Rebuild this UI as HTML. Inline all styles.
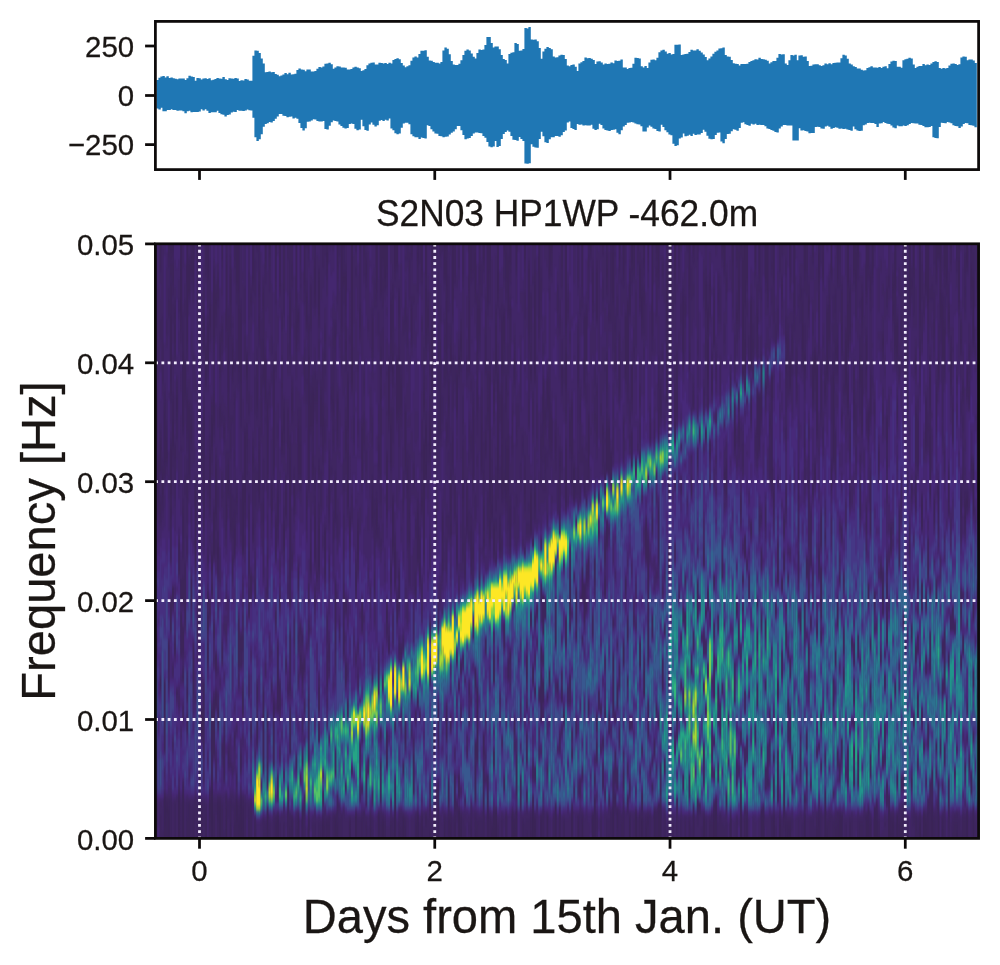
<!DOCTYPE html>
<html lang="en"><head><meta charset="utf-8"><title>S2N03 HP1WP -462.0m</title>
<style>
html,body{margin:0;padding:0;background:#fff}
body{width:1000px;height:965px;overflow:hidden}
svg{display:block}
text{font-family:"Liberation Sans",Arial,Helvetica,sans-serif;fill:#1a1614;stroke:#1a1614;stroke-width:0.25px}
.tk{font-size:29.44px}
.ti{font-size:35.33px}
.lb{font-size:47.1px}
</style></head><body>
<svg width="1000" height="965" viewBox="0 0 1000 965">
<defs>
<clipPath id="c1"><rect x="155.4" y="21.4" width="823.2" height="148.2"/></clipPath>
<clipPath id="c2"><rect x="155.4" y="243.8" width="823.2" height="594.5999999999999"/></clipPath>
<filter id="bl" x="-2%" y="-2%" width="104%" height="104%" color-interpolation-filters="sRGB"><feGaussianBlur stdDeviation="0.5 1.8"/></filter>
</defs>
<rect width="1000" height="965" fill="#fff"/>

<g clip-path="url(#c1)"><path d="M157.6 79.9V108.5M159.6 77.7V109.4M161.6 76.5V107.7M163.6 76.1V111.3M165.6 77.6V111.2M167.6 76.3V110.1M169.6 77.9V110.1M171.6 77.5V109.2M173.6 78.3V109.9M175.6 78.7V110.0M177.6 79.2V110.8M179.6 78.6V110.4M181.6 78.5V110.4M183.6 78.5V111.3M185.6 80.0V113.2M187.6 78.3V111.3M189.6 75.7V110.7M191.6 76.4V112.2M193.6 77.0V112.1M195.6 80.8V112.1M197.6 78.0V112.1M199.6 78.2V111.5M201.6 79.4V109.3M203.6 78.4V110.5M205.6 78.2V109.2M207.6 78.9V110.7M209.6 78.2V113.0M211.6 80.2V112.3M213.6 79.8V112.2M215.6 78.9V112.2M217.6 78.1V110.8M219.6 78.6V113.0M221.6 78.8V114.2M223.6 77.1V114.7M225.6 79.3V116.4M227.6 80.0V115.1M229.6 78.3V114.4M231.6 78.5V112.5M233.6 78.7V111.8M235.6 78.0V112.0M237.6 78.6V109.9M239.6 80.9V110.7M241.6 80.2V110.7M243.6 80.6V111.1M245.6 79.0V110.4M247.6 79.6V109.6M249.6 80.8V110.3M251.6 80.8V110.5M253.6 55.8V117.8M255.6 50.4V137.2M257.6 50.7V140.9M259.6 52.9V139.3M261.6 58.4V134.2M263.6 63.5V126.8M265.6 72.2V124.0M267.6 71.9V123.3M269.6 71.4V121.9M271.6 72.3V122.4M273.6 71.9V121.0M275.6 73.9V118.7M277.6 74.7V116.4M279.6 76.3V114.1M281.6 75.4V113.9M283.6 74.5V115.7M285.6 73.1V115.9M287.6 74.3V117.3M289.6 72.7V116.7M291.6 74.4V116.4M293.6 74.3V118.4M295.6 73.7V117.7M297.6 69.9V118.8M299.6 68.5V123.1M301.6 69.6V128.0M303.6 69.7V130.4M305.6 71.3V128.3M307.6 69.4V121.7M309.6 69.6V121.5M311.6 71.4V120.5M313.6 71.5V119.2M315.6 71.1V119.6M317.6 68.8V120.9M319.6 66.9V121.4M321.6 67.4V121.5M323.6 66.5V120.9M325.6 63.8V128.9M327.6 63.6V129.4M329.6 62.8V125.7M331.6 64.3V122.2M333.6 68.7V120.6M335.6 67.4V121.1M337.6 66.2V121.6M339.6 66.4V124.6M341.6 67.5V126.0M343.6 67.4V127.7M345.6 67.8V128.5M347.6 69.6V128.0M349.6 69.6V124.0M351.6 68.9V123.4M353.6 67.5V124.0M355.6 66.8V128.7M357.6 67.5V130.3M359.6 68.3V129.6M361.6 71.0V119.8M363.6 70.2V126.3M365.6 69.1V130.0M367.6 65.3V130.8M369.6 63.5V124.6M371.6 62.8V122.5M373.6 62.6V124.7M375.6 64.4V126.4M377.6 64.5V125.2M379.6 62.7V120.7M381.6 62.9V120.1M383.6 63.6V120.9M385.6 63.0V119.8M387.6 64.0V120.6M389.6 62.8V118.6M391.6 63.4V128.5M393.6 60.0V130.3M395.6 59.1V133.3M397.6 58.3V134.3M399.6 59.2V133.5M401.6 62.9V127.8M403.6 65.6V123.6M405.6 67.2V122.7M407.6 66.2V122.7M409.6 65.2V124.2M411.6 60.8V134.3M413.6 57.4V136.3M415.6 56.6V137.3M417.6 57.4V137.3M419.6 54.0V138.9M421.6 50.7V137.4M423.6 50.8V137.9M425.6 50.2V138.4M427.6 56.8V125.3M429.6 60.5V126.0M431.6 60.8V129.2M433.6 62.0V131.6M435.6 62.8V133.6M437.6 62.8V133.7M439.6 63.4V135.9M441.6 62.0V136.3M443.6 50.4V137.2M445.6 47.6V136.7M447.6 48.7V136.5M449.6 54.3V134.6M451.6 60.9V132.8M453.6 64.5V131.4M455.6 65.0V129.3M457.6 64.9V126.0M459.6 63.8V125.9M461.6 60.2V130.3M463.6 55.1V135.0M465.6 50.8V139.2M467.6 49.5V138.5M469.6 50.6V138.1M471.6 53.5V136.0M473.6 56.7V133.4M475.6 58.4V132.6M477.6 53.1V132.4M479.6 49.6V133.1M481.6 50.0V133.3M483.6 49.6V135.9M485.6 45.1V137.7M487.6 36.9V142.1M489.6 36.9V146.6M491.6 43.0V147.3M493.6 47.4V146.6M495.6 46.4V141.0M497.6 46.4V147.1M499.6 49.2V146.0M501.6 54.9V138.9M503.6 58.9V133.9M505.6 60.0V131.9M507.6 63.6V130.6M509.6 54.0V131.7M511.6 52.8V136.1M513.6 52.3V139.8M515.6 43.0V140.1M517.6 43.9V140.7M519.6 50.7V137.1M521.6 50.6V139.1M523.6 49.1V141.0M525.6 28.1V163.4M527.6 28.4V163.7M529.6 27.1V163.3M531.6 39.4V144.2M533.6 39.7V146.7M535.6 39.6V147.6M537.6 41.3V147.8M539.6 47.9V138.9M541.6 58.7V131.8M543.6 51.6V136.2M545.6 48.7V142.3M547.6 47.1V143.1M549.6 48.1V139.3M551.6 49.3V137.2M553.6 56.4V137.2M555.6 57.6V136.1M557.6 57.3V136.1M559.6 55.6V136.8M561.6 54.7V135.2M563.6 54.9V131.9M565.6 59.0V130.4M567.6 65.5V122.4M569.6 66.2V121.6M571.6 64.9V128.1M573.6 64.6V128.9M575.6 66.7V129.9M577.6 71.1V124.0M579.6 63.5V124.8M581.6 62.2V124.6M583.6 60.9V125.5M585.6 57.6V125.2M587.6 58.3V125.5M589.6 58.0V125.5M591.6 58.8V124.7M593.6 60.0V128.7M595.6 64.1V130.0M597.6 61.4V129.3M599.6 61.2V123.7M601.6 62.5V125.0M603.6 64.4V128.4M605.6 63.6V129.9M607.6 63.9V130.4M609.6 63.8V131.0M611.6 62.5V130.1M613.6 63.3V129.7M615.6 60.5V129.3M617.6 60.9V132.7M619.6 60.8V134.2M621.6 59.6V130.2M623.6 67.6V126.4M625.6 67.5V125.0M627.6 69.1V122.8M629.6 68.0V122.6M631.6 67.8V121.9M633.6 63.7V122.4M635.6 57.7V123.4M637.6 57.9V124.2M639.6 58.5V124.5M641.6 66.2V126.3M643.6 67.4V131.5M645.6 66.0V131.4M647.6 68.0V127.5M649.6 62.5V125.6M651.6 59.8V126.7M653.6 59.6V128.5M655.6 60.2V129.0M657.6 57.7V130.9M659.6 52.2V131.6M661.6 50.5V124.8M663.6 49.7V127.0M665.6 51.6V130.2M667.6 53.8V132.3M669.6 52.9V134.5M671.6 54.4V135.3M673.6 54.1V143.7M675.6 44.8V145.9M677.6 44.8V145.2M679.6 44.5V138.5M681.6 55.1V137.6M683.6 54.4V133.5M685.6 54.1V136.2M687.6 53.8V135.8M689.6 52.0V134.8M691.6 49.7V136.0M693.6 50.4V133.8M695.6 50.5V134.9M697.6 49.2V134.6M699.6 50.7V134.6M701.6 52.4V133.1M703.6 54.5V129.8M705.6 56.9V131.7M707.6 60.2V135.7M709.6 58.5V138.7M711.6 56.5V139.2M713.6 53.7V139.0M715.6 51.8V135.1M717.6 50.4V132.7M719.6 48.4V132.6M721.6 48.3V141.5M723.6 47.6V143.2M725.6 54.9V139.0M727.6 56.6V134.0M729.6 56.7V133.7M731.6 60.0V131.2M733.6 63.2V129.2M735.6 63.8V129.7M737.6 63.9V130.8M739.6 65.5V127.9M741.6 64.0V122.8M743.6 63.9V122.3M745.6 64.0V124.3M747.6 63.8V124.9M749.6 62.1V125.8M751.6 60.9V123.8M753.6 60.3V124.4M755.6 59.2V123.8M757.6 59.6V124.9M759.6 57.8V124.8M761.6 58.9V125.0M763.6 59.2V125.0M765.6 59.7V126.2M767.6 60.7V128.5M769.6 63.5V129.1M771.6 62.3V130.0M773.6 60.9V130.8M775.6 61.1V132.1M777.6 57.7V132.4M779.6 54.1V128.6M781.6 54.6V126.4M783.6 54.3V124.9M785.6 63.4V124.9M787.6 65.0V125.5M789.6 60.2V125.4M791.6 55.1V125.4M793.6 55.6V140.6M795.6 54.8V140.4M797.6 60.3V140.5M799.6 55.6V128.3M801.6 55.3V130.5M803.6 56.7V130.2M805.6 56.5V130.9M807.6 61.1V131.6M809.6 66.1V133.3M811.6 65.7V133.1M813.6 64.5V133.1M815.6 64.3V126.9M817.6 64.2V126.7M819.6 65.3V126.9M821.6 66.0V128.6M823.6 65.2V128.8M825.6 63.5V126.6M827.6 64.2V125.8M829.6 63.2V126.7M831.6 64.2V128.7M833.6 63.0V127.9M835.6 62.8V127.3M837.6 62.4V127.8M839.6 62.5V128.8M841.6 58.2V128.6M843.6 54.7V129.1M845.6 55.4V128.7M847.6 58.7V129.6M849.6 63.5V130.0M851.6 64.6V130.7M853.6 66.2V126.6M855.6 67.1V129.2M857.6 68.5V130.6M859.6 68.5V131.0M861.6 69.7V130.7M863.6 70.5V125.3M865.6 70.3V124.4M867.6 67.9V123.0M869.6 67.3V122.8M871.6 66.2V123.1M873.6 67.5V123.0M875.6 67.4V124.1M877.6 67.7V127.0M879.6 67.1V123.5M881.6 68.0V123.2M883.6 66.8V121.9M885.6 66.2V122.9M887.6 68.2V123.7M889.6 64.0V123.9M891.6 61.5V125.4M893.6 60.7V127.6M895.6 61.1V128.2M897.6 66.7V125.5M899.6 66.8V126.2M901.6 67.8V126.3M903.6 60.2V125.6M905.6 59.2V126.1M907.6 58.8V125.2M909.6 57.7V124.1M911.6 58.6V122.9M913.6 64.6V123.3M915.6 68.0V123.6M917.6 66.7V123.6M919.6 65.9V124.7M921.6 65.9V124.9M923.6 64.1V126.0M925.6 65.2V127.2M927.6 64.4V127.3M929.6 65.0V127.1M931.6 63.5V125.9M933.6 62.0V137.3M935.6 61.2V137.9M937.6 61.9V138.2M939.6 68.0V127.1M941.6 68.7V122.8M943.6 68.0V122.9M945.6 68.5V123.2M947.6 68.1V122.0M949.6 65.5V122.5M951.6 63.7V123.2M953.6 63.4V125.3M955.6 64.1V126.0M957.6 65.0V126.2M959.6 64.2V127.9M961.6 57.5V126.4M963.6 56.5V123.9M965.6 56.7V122.9M967.6 60.3V123.2M969.6 59.5V124.9M971.6 59.6V125.2M973.6 60.6V125.8M975.6 63.1V127.2" fill="none" stroke="#1f77b4" stroke-width="2.4"/></g>
<g stroke="#0d0a0a" stroke-width="2.75" fill="none">
<rect x="155.4" y="21.4" width="823.2" height="148.2"/>
<path d="M155.4 46.0h-10.3"/>
<path d="M155.4 95.5h-10.3"/>
<path d="M155.4 144.6h-10.3"/>
<path d="M199.50 169.6v10.3"/>
<path d="M434.76 169.6v10.3"/>
<path d="M670.02 169.6v10.3"/>
<path d="M905.28 169.6v10.3"/>
</g>
<text class="tk" transform="translate(134.2,56.8) scale(1,1.02)" text-anchor="end">250</text>
<text class="tk" transform="translate(134.2,106.3) scale(1,1.02)" text-anchor="end">0</text>
<text class="tk" transform="translate(134.2,155.4) scale(1,1.02)" text-anchor="end">−250</text>
<text class="ti" transform="translate(567.0,226.3) scale(1,1.02)" text-anchor="middle">S2N03 HP1WP -462.0m</text>
<rect x="155.4" y="243.8" width="823.2" height="594.5999999999999" fill="#412667"/>
<g clip-path="url(#c2)"><g filter="url(#bl)">
<g transform="translate(156.429,243.800) scale(2.05800,3.99060)" stroke-width="1.06" fill="none">
<path stroke="#3a2456" d="M4 139v6M6 143v6M11 139v7M13 139v10M21 138v5M27 138v7M31 142v7M34 146v3M39 140v4M40 147v2M41 142v7M42 147v2M54 143v6M59 144v5M66 146v3M69 144v5M74 146v3M87 145v4M88 147v2M97 143v6M108 143v6M116 141v8M120 144v5M127 143v6M135 141v8M143 148v1M147 142v7M164 143v3M165 142v7M173 144v5M174 147v2M175 143v6M183 143v6M190 143v6M194 142v7M202 143v6M205 146v3M212 145v4M222 142v7M230 145v4M233 143v6M236 145v4M242 143v6M244 142v7M245 141v8M266 144v5M271 144v5M272 142v7M279 144v5M284 142v7M294 143v6M295 144v5M300 144v5M303 145v4M307 148v1M308 147v2M315 144v5M325 142v7M332 144v5M333 143v6M345 144v5M346 145v4M349 143v6M350 144v5M356 142v7M358 147v2M360 143v6M363 142v3M371 147v2M373 143v6M374 146v3M380 144v5M394 144v5M397 147v2"/>
<path stroke="#3a2456" d="M4 145v1M5 141v2M6 142v1M11 146v3M13 138v1M21 137v1M26 140v2M27 137v1M27 145v1M30 141v1M31 141v1M34 144v2M38 148v1M39 144v1M40 145v2M41 140v2M42 144v3M54 142v1M66 145v1M71 143v3M74 145v1M81 145v4M87 144v1M88 146v1M94 147v2M104 146v3M110 145v4M140 147v2M143 147v1M148 146v3M161 143v1M163 147v2M164 146v3M173 143v1M174 145v2M175 142v1M184 146v2M194 141v1M205 145v1M207 145v4M212 144v1M230 144v1M236 144v1M238 146v3M242 142v1M271 143v1M294 142v1M295 143v1M307 146v2M308 146v1M325 141v1M326 148v1M346 144v1M349 142v1M357 147v2M358 145v2M363 141v1M363 145v2M371 146v1M374 145v1M377 144v5M382 146v3M397 146v1"/>
<path stroke="#3b2458" d="M1 55v10M2 50v7M3 58v5M4 42v13M4 146v3M5 49v5M5 140v1M5 143v6M6 141v1M7 0v2M7 18v17M7 51v12M7 66v3M8 0v2M8 44v7M9 17v2M9 20v5M10 38v4M11 75v7M11 138v1M12 0v19M13 27v19M13 68v6M13 137v1M14 30v8M15 0v25M15 39v8M16 5v7M16 41v17M17 3v4M17 45v4M18 0v8M19 63v17M20 0v5M21 64v19M21 143v1M23 17v9M23 43v26M24 27v7M24 148v1M25 0v7M25 21v10M26 16v5M26 53v11M26 139v1M26 142v2M27 43v8M27 79v3M27 136v1M27 146v3M28 8v16M28 40v5M28 67v11M29 14v1M29 56v12M30 76v3M30 140v1M30 142v3M31 25v4M31 140v1M32 0v4M33 46v1M34 5v16M34 65v5M34 141v3M35 23v14M35 55v7M36 8v7M36 20v1M36 70v1M36 145v4M37 26v7M38 71v7M38 145v3M39 0v10M39 139v1M39 145v4M40 0v12M40 16v15M40 143v2M41 17v18M41 139v1M42 61v16M42 141v3M43 48v17M44 29v4M45 77v6M47 0v9M47 53v2M47 70v3M48 147v2M49 34v7M50 10v3M50 18v5M50 52v11M52 12v4M52 24v10M52 65v5M53 0v4M53 29v10M54 40v18M55 0v3M56 61v6M57 31v26M58 0v9M58 70v8M58 145v4M59 63v8M59 143v1M60 0v11M61 47v3M62 42v5M62 71v5M63 62v6M65 14v9M65 54v30M65 146v3M66 37v5M66 144v1M67 61v5M68 0v14M68 19v7M69 17v3M69 46v12M69 82v2M69 143v1M70 50v8M71 142v1M71 146v3M72 0v10M73 13v7M73 63v4M74 28v31M74 144v1M75 40v6M75 77v5M76 37v9M76 55v1M77 6v7M77 68v11M79 9v9M79 71v10M80 38v8M81 43v3M81 144v1M82 72v11M83 2v3M83 145v4M84 56v11M84 145v4M85 38v1M86 39v3M87 22v2M87 59v10M88 0v6M88 39v8M88 145v1M90 0v21M91 8v2M92 8v8M92 24v3M92 46v6M93 34v13M93 52v14M94 69v6M94 145v2M95 0v35M97 82v4M98 72v6M99 16v5M100 46v11M102 5v3M102 146v3M104 144v2M105 19v8M105 63v6M106 84v3M107 0v12M107 66v5M108 50v6M109 0v12M109 29v4M109 36v4M110 0v4M110 144v1M111 0v9M112 0v6M112 54v13M112 92v2M113 31v12M114 15v9M114 46v9M114 81v4M115 65v11M116 0v6M116 77v8M117 0v5M117 30v13M117 90v4M118 13v5M118 28v14M118 83v7M118 147v2M119 35v6M121 42v14M121 146v3M122 56v6M123 67v2M123 72v3M124 16v8M126 86v1M126 145v4M127 2v2M127 67v12M128 74v5M128 80v4M129 0v7M129 64v2M129 144v5M130 37v4M130 50v28M131 0v8M131 11v12M131 46v5M131 55v3M132 16v5M133 46v5M134 21v15M135 0v2M135 18v1M136 66v4M137 27v2M137 44v3M137 141v8M138 38v9M139 69v6M139 79v1M140 0v8M140 145v2M141 0v1M141 4v7M141 14v14M142 38v3M142 144v5M143 25v6M143 60v7M143 70v3M143 145v2M144 0v18M144 49v6M145 145v4M146 33v9M146 73v6M147 28v3M148 23v4M148 144v2M149 0v8M149 59v5M151 68v3M152 0v12M152 14v17M153 0v7M153 72v9M153 146v3M154 41v18M154 76v3M155 2v10M155 147v2M156 16v12M156 36v6M157 16v7M158 45v11M159 0v4M159 66v6M159 74v1M160 23v7M160 49v3M161 0v15M161 41v1M161 141v2M161 144v5M162 0v7M162 33v32M162 69v5M163 65v3M163 146v1M164 36v4M164 71v6M164 142v1M165 20v11M166 7v5M166 34v23M167 75v2M168 19v12M168 38v11M168 50v13M169 0v2M169 18v7M169 59v2M170 2v7M170 34v3M170 51v12M171 4v13M171 51v11M172 0v5M172 16v2M172 66v10M174 27v7M174 144v1M175 0v6M179 0v4M179 59v4M181 6v17M182 31v2M182 63v9M182 147v2M183 142v1M184 10v23M184 62v4M184 144v2M184 148v1M186 0v19M187 144v5M188 35v10M189 42v2M190 34v7M191 0v7M191 38v11M192 0v2M192 43v7M194 48v4M196 54v2M196 67v1M196 142v7M197 30v4M199 0v21M199 27v9M199 51v14M201 44v7M202 41v12M202 142v1M203 56v8M205 25v10M205 144v1M206 40v4M207 0v11M207 144v1M208 18v17M209 18v12M210 44v12M211 0v2M212 7v8M212 143v1M213 141v8M214 7v12M219 6v2M219 46v11M220 46v11M221 53v3M222 2v12M222 141v1M224 142v5M225 0v4M225 29v8M227 0v8M227 46v1M228 18v15M229 15v15M230 10v7M231 0v5M231 31v8M231 48v5M235 6v8M236 13v6M236 141v1M237 0v5M238 145v1M239 0v3M239 144v2M240 45v4M241 0v23M243 0v2M243 143v6M244 0v7M244 33v3M244 41v7M244 141v1M245 36v6M248 9v11M248 25v12M249 0v10M249 24v4M250 3v9M252 0v6M252 36v10M253 37v5M256 14v14M259 0v11M259 27v3M259 145v4M261 0v2M261 143v6M263 53v1M267 10v7M268 16v6M268 24v10M269 10v2M269 51v2M270 32v5M271 14v11M271 142v1M272 141v1M273 12v3M275 0v1M276 0v6M276 57v2M277 56v3M279 33v3M279 143v1M280 0v5M281 44v7M282 17v2M283 9v8M284 0v1M284 141v1M285 4v29M286 0v15M286 24v8M287 0v9M287 144v5M289 15v15M289 40v3M291 0v5M292 18v4M292 38v10M293 0v7M293 38v13M294 38v5M295 142v1M296 0v9M296 36v1M297 0v12M298 44v2M299 33v6M299 46v11M300 0v9M300 62v3M300 143v1M303 144v1M304 10v3M305 142v2M306 23v2M306 28v5M306 145v4M307 145v1M308 0v8M308 30v6M308 145v1M310 0v16M312 63v1M314 20v7M315 0v7M315 28v4M315 50v1M315 143v1M317 14v3M319 0v1M319 29v10M320 28v5M320 57v2M321 30v17M321 146v3M322 2v6M322 144v5M324 2v6M325 35v2M326 17v16M326 146v2M327 15v9M328 0v7M328 56v4M329 33v21M330 26v2M330 146v3M331 0v9M331 25v6M331 145v4M332 143v1M333 20v2M335 24v12M336 0v10M336 15v11M336 35v5M337 12v11M339 0v7M339 39v5M340 2v7M341 0v3M342 31v4M342 61v6M343 13v6M343 31v15M345 0v12M345 24v8M345 143v1M346 0v6M346 42v5M346 142v2M347 8v4M347 33v10M347 59v8M347 145v4M348 0v8M350 142v2M351 52v4M351 148v1M353 24v2M355 44v5M357 144v3M358 10v2M358 15v3M358 144v1M359 0v11M359 20v6M360 20v8M360 40v4M361 145v4M362 144v5M363 147v2M364 0v11M364 28v3M365 38v3M366 0v14M368 0v6M369 29v1M369 42v12M369 63v2M370 44v12M371 0v17M371 27v1M371 145v1M372 65v3M374 0v11M374 39v11M374 144v1M375 0v15M375 142v7M376 33v8M376 48v15M377 141v3M378 65v3M379 0v7M379 37v9M380 0v3M380 30v3M380 62v6M380 141v3M381 0v5M381 12v7M382 15v14M382 144v2M383 0v6M383 21v9M384 0v9M385 17v3M385 58v7M385 142v2M386 27v8M387 41v8M389 147v2M390 0v1M390 4v11M391 24v1M391 63v5M393 65v4M394 0v5M394 32v4M394 64v2M394 143v1M396 6v5M397 9v15M397 56v11M397 144v2M399 0v10M399 46v1"/>
<path stroke="#3c255a" d="M0 39v8M0 144v5M1 54v1M1 65v1M2 0v6M2 49v1M2 65v3M2 109v2M3 56v2M3 63v2M4 40v2M4 55v3M4 110v7M4 118v9M4 138v1M5 46v3M5 54v1M5 139v1M6 0v3M6 14v4M6 101v6M6 139v2M7 2v2M7 5v3M7 10v8M7 35v3M7 50v1M7 63v3M7 69v2M7 90v7M8 2v1M8 5v5M8 39v5M8 51v2M8 87v4M9 16v1M9 19v1M9 25v2M9 51v3M9 100v2M10 36v2M10 42v2M11 82v1M11 137v1M12 19v3M12 84v5M12 93v10M13 22v5M13 46v1M13 66v2M13 74v3M13 84v6M13 97v5M13 136v1M14 38v1M14 81v13M15 25v2M15 37v2M15 47v2M15 58v6M15 112v1M15 119v3M15 144v5M16 4v1M16 12v1M16 40v1M16 58v1M16 140v9M17 0v3M17 7v1M17 43v2M17 49v1M17 85v5M18 8v2M18 101v12M18 142v7M19 60v3M20 5v1M21 63v1M21 83v3M21 91v1M21 132v5M21 144v2M22 52v1M22 117v6M22 141v8M23 15v2M23 26v1M23 41v2M23 69v2M23 110v18M24 0v6M24 26v1M24 34v1M24 143v5M25 7v2M25 20v1M25 31v1M25 88v2M25 93v4M25 100v5M26 15v1M26 21v1M26 51v2M26 64v2M26 91v2M26 138v1M26 144v3M27 40v3M27 51v1M27 78v1M27 86v1M27 117v19M28 7v1M28 24v3M28 37v3M28 45v1M28 96v2M28 115v13M28 143v6M29 12v2M29 15v3M29 55v1M29 68v1M29 103v4M29 113v3M30 9v5M30 75v1M30 79v4M30 117v3M30 139v1M30 145v4M31 23v2M31 29v3M31 41v3M31 139v1M32 21v4M32 141v8M33 45v1M33 47v2M33 124v10M34 3v2M34 21v1M34 56v9M34 70v2M34 139v2M35 18v5M35 37v7M35 54v1M35 62v1M35 127v3M36 6v2M36 15v5M36 21v2M36 47v5M36 62v8M36 71v1M36 140v5M37 25v1M37 33v1M37 69v3M37 79v4M38 0v4M38 39v2M38 52v2M38 67v4M38 123v3M38 141v4M39 10v2M39 63v2M40 12v4M40 31v1M40 95v11M40 141v2M41 16v1M41 35v9M41 99v3M41 128v4M41 138v1M42 60v1M42 98v4M42 112v6M42 139v2M43 47v1M43 65v3M44 28v1M44 33v1M44 47v4M45 67v5M45 75v2M45 87v6M45 144v5M46 13v2M46 83v5M46 121v3M47 9v1M47 51v2M47 55v2M47 69v1M47 73v1M48 85v4M48 145v2M49 29v5M49 41v1M49 111v3M49 120v4M50 7v3M50 13v5M50 23v2M50 50v2M50 63v1M51 24v5M51 33v5M51 39v5M52 11v1M52 16v8M52 34v1M52 64v1M52 70v2M52 113v19M52 147v2M53 4v2M53 28v1M53 39v1M53 147v2M54 39v1M54 58v1M54 78v2M54 119v1M54 130v1M55 3v3M55 37v1M55 147v2M56 60v1M56 67v1M57 30v1M57 57v1M57 116v14M58 9v2M58 69v1M58 78v1M58 93v1M58 144v1M59 62v1M59 71v1M59 101v16M60 11v1M60 88v3M60 111v5M61 35v1M61 46v1M61 50v2M62 0v12M62 41v1M62 47v3M62 70v1M62 76v1M63 60v2M64 42v3M64 46v5M64 141v8M65 12v2M65 23v5M65 50v4M65 84v6M65 98v10M65 110v2M65 117v11M65 144v2M66 5v4M66 36v1M66 42v1M66 78v1M67 58v3M67 66v1M68 14v5M68 26v1M68 146v3M69 20v2M69 44v2M69 58v1M69 81v1M69 84v2M70 0v5M70 46v4M70 58v3M70 104v3M71 106v3M72 10v2M72 29v5M72 142v2M73 12v1M73 20v1M73 34v1M73 62v1M73 67v2M74 0v2M74 20v3M74 26v2M74 59v2M74 86v3M74 114v10M74 143v1M75 11v10M75 37v3M75 46v1M75 75v2M76 36v1M76 46v3M76 53v2M76 56v2M77 4v2M77 13v2M77 38v2M77 66v2M78 36v4M79 7v2M79 18v1M79 56v2M79 69v2M79 81v1M79 111v6M80 36v2M80 147v2M81 29v1M81 40v3M81 46v5M82 22v3M82 27v2M82 145v4M83 0v2M83 5v2M83 103v8M83 144v1M84 54v2M84 67v1M84 79v3M84 100v4M84 144v1M85 36v2M85 39v1M86 23v3M86 35v4M86 42v1M86 46v4M86 69v5M86 144v5M87 20v2M87 24v3M87 85v15M87 143v1M88 6v3M88 38v1M88 47v2M88 142v3M90 21v1M91 0v1M91 7v1M91 10v1M91 74v4M91 87v2M91 95v7M92 7v1M92 16v2M92 20v4M92 27v3M92 44v2M92 52v2M92 90v1M92 106v4M93 33v1M93 47v2M93 50v2M94 68v1M94 75v1M94 144v1M95 35v1M97 80v2M97 86v1M98 70v2M98 78v2M99 0v2M99 15v1M99 21v1M100 45v1M100 57v2M100 90v6M100 144v5M101 0v3M101 34v2M101 44v6M102 4v1M102 8v1M102 145v1M104 143v1M105 18v1M105 27v2M105 45v4M105 61v2M105 69v1M105 147v2M106 67v1M106 83v1M107 12v2M107 64v2M107 71v2M108 42v3M108 48v2M108 56v1M108 105v3M109 12v1M109 26v3M109 33v3M109 40v18M109 145v4M110 4v2M110 9v3M111 9v2M111 145v4M112 6v2M112 53v1M112 67v1M112 91v1M112 94v1M113 30v1M113 43v2M113 99v3M114 14v1M114 24v4M114 42v4M114 55v1M114 145v4M115 13v9M115 27v6M115 64v1M115 76v1M115 147v2M116 6v1M116 75v2M116 140v1M117 5v1M117 29v1M117 43v1M117 89v1M118 12v1M118 18v3M118 26v2M118 42v2M118 82v1M118 90v1M118 101v1M118 145v2M119 33v2M119 41v2M119 146v3M120 59v6M120 143v1M121 14v6M121 56v1M121 121v4M121 144v2M122 54v2M122 62v13M123 4v3M123 64v3M123 69v3M123 75v1M124 0v3M124 15v1M124 24v1M125 56v3M125 128v2M126 71v1M126 84v2M126 87v1M126 144v1M127 0v2M127 4v2M127 66v1M127 79v1M128 73v1M128 79v1M129 7v1M129 52v1M129 62v2M129 66v1M129 143v1M130 35v2M130 41v1M130 78v1M131 8v3M131 23v3M131 45v1M131 51v4M131 58v1M131 143v3M132 14v2M132 21v2M133 43v3M133 51v2M133 95v1M133 147v2M134 0v3M134 20v1M134 36v1M135 2v1M135 16v2M135 19v1M135 122v6M136 65v1M136 70v1M136 137v2M136 147v2M137 25v2M137 29v7M137 42v2M137 47v1M137 135v6M138 25v4M138 32v6M138 47v1M139 68v1M139 75v4M139 80v2M140 8v1M140 23v4M140 31v3M140 144v1M141 1v3M141 11v3M141 28v2M141 31v2M141 45v4M141 118v6M142 34v4M142 41v2M142 136v5M142 143v1M143 23v2M143 31v1M143 57v3M143 67v3M143 73v1M143 120v1M143 143v2M144 18v1M144 48v1M144 55v1M145 1v7M145 61v7M145 133v9M145 143v2M146 32v1M146 42v1M146 70v3M146 79v1M147 26v2M147 31v2M147 134v4M148 22v1M148 27v2M148 143v1M149 8v1M149 44v1M149 51v8M149 64v2M149 75v3M150 78v5M151 31v1M151 61v7M151 71v1M152 12v2M152 31v1M152 46v4M152 72v2M153 7v2M153 48v4M153 71v1M153 81v1M153 144v2M154 0v7M154 39v2M154 59v1M154 75v1M154 79v1M155 0v2M155 12v2M155 107v4M155 125v4M155 131v3M155 144v3M156 13v3M156 28v2M156 32v4M156 42v2M156 112v7M156 122v7M156 145v4M157 6v4M157 14v2M157 23v2M158 41v4M158 56v1M158 148v1M159 4v1M159 57v2M159 64v2M159 72v2M159 75v1M159 123v5M159 131v1M159 139v10M160 17v6M160 30v2M160 47v2M160 52v1M161 15v1M161 32v5M161 38v3M161 42v3M161 64v5M161 139v2M162 7v4M162 32v1M162 65v4M162 74v1M162 144v5M163 59v6M163 68v1M163 145v1M164 34v2M164 40v3M164 70v1M164 77v1M164 103v7M164 127v3M165 17v3M165 31v2M166 0v7M166 12v2M166 32v2M166 57v3M166 146v3M167 38v6M167 70v5M168 18v1M168 31v2M168 35v3M168 49v1M168 63v1M169 2v1M169 17v1M169 25v2M169 57v2M169 61v1M169 100v1M170 1v1M170 9v3M170 33v1M170 37v5M170 49v2M170 63v2M170 143v6M171 3v1M171 17v1M171 48v3M171 62v8M171 105v4M172 5v2M172 15v1M172 18v6M172 64v2M172 103v1M173 42v3M173 46v5M173 142v1M174 25v2M174 34v1M174 120v2M175 6v1M175 45v3M178 50v1M178 145v4M179 4v1M179 56v3M179 63v2M180 104v4M180 147v2M181 5v1M181 23v4M181 39v6M182 13v9M182 25v6M182 33v1M182 62v1M182 144v3M183 39v7M183 74v1M183 107v2M183 140v2M184 7v3M184 33v1M184 60v2M184 66v1M186 19v3M186 112v2M187 9v5M187 48v6M187 102v2M187 108v11M187 143v1M188 34v1M188 45v6M188 110v5M188 143v6M189 41v1M189 44v2M189 53v4M190 33v1M190 41v1M191 7v1M191 34v4M191 49v2M191 107v3M192 2v3M192 42v1M192 50v2M193 144v5M194 47v1M194 52v2M195 11v6M196 18v3M196 52v2M196 56v11M196 68v1M197 0v6M197 29v1M197 34v2M198 145v4M199 21v2M199 26v1M199 36v1M199 41v2M199 50v1M199 65v1M200 14v3M201 42v2M201 51v1M201 84v9M202 40v1M202 53v1M202 141v1M204 87v8M205 4v5M205 21v4M205 35v1M205 56v3M205 143v1M206 38v2M206 44v1M206 61v1M207 11v2M207 82v7M207 143v1M208 35v1M208 61v1M208 86v8M209 16v2M209 30v1M209 90v1M210 3v3M210 43v1M210 56v3M210 79v4M211 2v1M212 6v1M212 15v2M213 42v3M213 80v4M213 139v2M214 6v1M214 37v1M214 43v5M214 144v3M217 46v2M218 58v1M218 75v4M218 84v4M219 3v3M219 8v3M219 29v8M219 44v2M219 71v4M220 17v2M220 57v1M220 148v1M221 2v10M221 52v1M221 56v2M221 143v6M222 0v2M222 14v1M222 104v3M222 138v3M223 20v2M223 25v6M223 139v2M224 147v2M225 4v2M225 23v6M225 37v1M226 145v4M227 8v1M227 45v1M227 47v2M227 101v4M227 143v6M228 33v1M228 85v2M229 14v1M229 30v7M229 95v4M229 139v2M230 7v3M230 17v1M230 143v1M231 5v2M231 30v1M231 39v1M231 47v1M231 53v2M232 0v6M232 26v1M233 142v1M235 5v1M235 14v2M235 36v4M235 52v1M235 100v6M235 143v6M236 11v2M236 19v2M236 139v2M236 143v1M237 5v1M237 12v3M237 107v6M238 70v9M238 144v1M239 3v2M239 76v12M239 94v9M239 143v1M239 146v3M240 43v2M241 23v1M241 69v3M241 94v3M242 47v2M243 2v2M243 6v2M243 142v1M244 7v2M244 31v2M244 36v5M244 48v1M244 67v12M245 35v1M245 42v1M245 140v1M248 7v2M248 20v1M248 22v3M248 37v2M249 10v2M249 19v5M249 28v2M249 77v4M250 0v3M250 12v2M250 23v4M250 41v3M252 6v2M252 35v1M252 46v2M253 30v7M253 42v1M254 0v2M255 60v1M256 13v1M256 28v1M257 15v3M257 145v4M259 11v2M259 25v2M259 30v1M259 144v1M260 59v4M261 2v1M261 37v4M261 142v1M263 52v1M263 54v1M263 141v2M266 76v4M266 143v1M267 9v1M267 17v1M267 23v6M267 145v4M268 15v1M268 22v2M268 34v2M268 38v3M269 9v1M269 12v6M269 50v1M269 145v4M270 28v4M270 37v1M270 145v4M271 13v1M271 141v1M272 29v3M272 140v1M273 10v2M273 15v3M275 1v2M275 80v2M276 6v1M276 59v2M277 9v3M277 55v1M277 59v4M279 36v2M280 5v7M281 42v2M282 1v3M282 15v2M282 19v1M283 2v7M283 17v3M283 45v4M284 1v2M284 64v3M284 140v1M285 0v4M286 15v1M286 22v2M286 32v1M286 74v4M286 144v5M287 9v1M287 143v1M289 14v1M289 30v1M289 39v1M289 43v1M289 71v2M290 24v3M291 5v1M292 16v2M292 22v5M292 37v1M292 48v5M293 7v2M293 51v1M294 28v3M294 35v3M294 43v1M294 77v4M295 141v1M296 9v1M296 35v1M296 37v2M296 66v4M297 12v2M298 43v1M298 46v2M298 51v7M299 5v1M299 39v7M299 57v3M299 144v5M300 9v1M300 65v2M302 76v9M303 143v1M304 9v1M304 13v1M304 84v2M304 146v3M305 69v4M305 78v4M305 140v2M305 144v3M306 22v1M306 25v1M306 27v1M306 33v3M306 63v2M306 144v1M307 23v8M307 32v1M307 144v1M308 8v3M308 29v1M308 144v1M309 23v5M310 16v1M311 30v6M312 57v2M312 62v1M312 64v3M312 70v4M312 77v6M313 11v3M314 15v5M314 27v2M315 7v2M315 27v1M315 32v1M315 47v3M315 51v2M316 0v7M316 79v4M317 13v1M317 17v1M317 59v2M317 64v12M317 80v3M317 85v4M318 68v12M319 1v2M319 61v2M320 27v1M320 33v1M320 56v1M320 59v1M321 29v1M321 47v1M321 144v2M322 0v2M322 8v2M322 12v7M322 78v5M322 143v1M323 33v9M323 69v6M323 82v8M324 0v2M324 8v1M325 32v3M325 37v1M325 140v1M326 16v1M326 33v1M326 145v1M327 13v2M327 24v1M327 144v5M328 7v1M328 55v1M328 60v1M329 32v1M329 54v1M329 145v4M330 13v4M330 24v2M330 28v3M330 48v7M330 144v2M331 9v1M331 23v2M331 31v1M331 142v3M332 0v5M332 83v1M333 12v8M333 22v4M333 43v1M333 71v3M335 22v2M335 36v1M336 10v5M336 26v2M336 33v2M336 40v1M337 11v1M337 23v1M337 48v4M337 145v4M339 7v1M339 32v3M339 36v3M339 44v1M340 0v2M340 9v2M341 3v3M342 28v3M342 35v1M342 59v2M342 67v1M342 145v4M343 12v1M343 19v2M343 29v2M343 46v1M343 145v4M345 12v1M345 23v1M345 32v1M345 44v1M345 68v3M346 6v2M346 47v2M346 86v3M347 7v1M347 12v2M347 32v1M347 43v1M347 58v1M347 67v5M347 144v1M348 8v1M349 40v3M349 88v2M349 141v1M350 141v1M351 56v1M351 145v3M352 82v1M353 23v1M353 26v1M353 83v7M355 49v1M355 54v2M355 80v2M356 141v1M357 72v5M357 143v1M358 8v2M358 12v3M358 18v1M358 143v1M359 11v9M359 26v2M360 19v1M360 28v1M360 39v1M360 44v1M361 30v3M361 68v12M361 144v1M362 143v1M364 11v1M364 27v1M364 31v1M365 25v5M365 36v2M365 41v2M365 147v2M366 14v2M366 72v5M367 9v2M367 61v1M368 6v2M369 28v1M369 30v2M369 41v1M369 54v1M369 60v3M369 65v1M369 144v5M370 43v1M370 147v2M371 17v4M371 24v3M371 28v2M371 144v1M372 64v1M372 68v3M372 85v1M373 142v1M374 11v1M374 50v1M374 143v1M375 15v5M375 45v2M375 74v9M375 140v2M376 32v1M376 41v2M376 46v2M376 142v7M377 140v1M378 19v4M378 64v1M378 68v2M378 144v5M379 7v2M379 36v1M379 46v1M380 3v1M380 27v3M380 33v1M380 61v1M380 68v4M380 140v1M381 5v7M381 19v2M382 13v2M382 29v2M383 6v2M383 19v2M383 30v2M384 9v1M385 15v2M385 20v2M385 57v1M385 65v2M385 140v2M385 144v3M386 0v1M386 25v2M386 35v1M387 40v1M387 147v2M388 145v4M389 0v4M389 145v2M390 1v3M390 15v1M391 20v4M391 25v2M391 62v1M391 68v1M392 36v2M392 144v5M393 3v4M393 11v2M393 64v1M393 69v1M393 144v5M394 5v1M394 31v1M394 36v2M394 63v1M394 142v1M395 27v2M395 36v4M396 0v2M396 5v1M396 11v3M396 55v2M397 7v2M397 24v1M397 55v1M397 143v1M399 10v1M399 45v1M399 47v1"/>
<path stroke="#3d255d" d="M0 38v1M0 47v2M0 140v4M1 26v4M1 53v1M1 66v2M2 6v1M2 19v5M2 47v2M2 57v1M2 63v2M2 68v2M2 143v6M3 18v17M3 54v2M3 65v2M3 147v2M4 37v3M4 58v1M4 117v1M5 19v4M5 44v2M5 55v1M6 3v3M6 11v3M6 18v1M6 100v1M6 107v3M7 4v1M7 8v2M7 38v2M7 49v1M7 71v8M7 89v1M7 139v10M8 3v2M8 10v3M8 15v5M8 37v2M8 53v3M8 86v1M9 14v2M9 27v2M9 50v1M9 54v10M9 102v1M9 140v9M10 34v2M10 44v5M10 112v1M11 14v3M11 74v1M12 22v3M12 51v1M12 89v1M12 140v9M13 17v5M13 47v1M13 64v2M13 77v2M13 83v1M13 96v1M13 102v1M13 107v2M13 135v1M14 14v4M14 29v1M14 39v2M14 58v5M14 80v1M14 94v1M15 27v3M15 36v1M15 49v3M15 54v4M15 64v6M15 73v5M15 111v1M15 113v1M15 118v1M15 140v4M16 3v1M16 13v1M16 39v1M16 59v1M17 8v2M17 40v3M17 50v2M17 84v1M17 90v1M17 141v8M18 10v2M18 28v3M18 140v2M19 59v1M19 80v1M19 139v6M20 6v10M20 97v1M20 140v9M21 21v5M21 30v6M21 40v3M21 62v1M21 86v1M21 89v2M21 92v2M21 146v3M22 49v3M22 53v2M22 140v1M23 11v4M23 27v1M23 38v3M23 71v1M23 128v1M23 140v6M24 6v2M24 25v1M24 35v1M24 141v2M25 9v7M25 18v2M25 32v2M25 60v3M25 78v2M25 87v1M25 90v1M25 92v1M26 4v11M26 22v3M26 48v3M26 66v2M26 90v1M26 93v1M26 137v1M26 147v2M27 39v1M27 52v3M27 77v1M27 82v1M27 85v1M27 87v1M28 6v1M28 27v10M28 46v2M28 66v1M28 78v1M28 95v1M28 98v1M28 114v1M28 140v3M29 10v2M29 18v3M29 53v2M29 69v3M29 74v4M29 112v1M29 140v3M30 7v2M30 14v2M30 61v5M30 72v3M30 83v1M30 116v1M31 22v1M31 32v2M31 40v1M31 44v2M32 4v2M32 20v1M32 25v3M32 42v3M32 59v5M32 101v3M32 126v2M32 140v1M33 43v2M33 49v1M33 123v1M33 147v2M34 0v3M34 22v4M34 52v4M34 72v2M34 138v1M35 16v2M35 44v3M35 52v2M35 63v1M35 130v1M35 140v4M36 3v3M36 23v7M36 43v4M36 52v2M36 60v2M36 72v1M36 130v1M36 139v1M37 20v1M37 23v2M37 34v1M37 43v2M37 63v6M37 72v2M37 78v1M37 83v1M37 140v2M38 4v2M38 29v3M38 37v2M38 41v11M38 54v2M38 64v3M38 78v1M38 140v1M39 12v3M39 24v7M39 61v2M39 65v3M39 133v3M39 138v1M40 32v3M40 94v1M40 140v1M41 14v2M41 44v2M41 64v9M41 98v1M41 102v4M42 58v2M42 77v1M43 11v9M43 23v7M43 46v1M43 68v3M43 73v3M43 140v9M44 27v1M44 34v6M44 45v2M44 51v7M45 7v12M45 37v6M45 63v4M45 72v3M45 83v1M45 86v1M45 141v3M46 11v2M46 15v3M46 88v1M46 120v1M46 142v7M47 10v2M47 49v2M47 57v12M47 74v1M48 4v9M48 33v10M48 56v10M48 79v3M48 84v1M48 144v1M49 0v2M49 26v3M49 42v2M49 57v5M49 114v1M49 119v1M49 124v1M50 0v7M50 25v1M50 46v4M50 64v1M51 19v5M51 29v4M51 38v1M51 44v4M51 65v5M52 9v2M52 35v1M52 54v10M52 72v11M52 112v1M52 144v3M53 6v4M53 26v2M53 40v2M53 43v2M53 145v2M54 37v2M54 59v5M54 68v6M54 76v2M54 80v1M54 84v4M54 118v1M54 120v1M54 131v1M55 6v6M55 35v2M55 38v3M55 145v2M56 23v5M56 32v3M56 59v1M56 68v2M57 29v1M57 58v1M57 115v1M57 130v1M57 144v5M58 11v4M58 27v5M58 68v1M58 92v1M58 94v1M58 143v1M59 45v4M59 60v2M59 72v2M60 12v1M60 110v1M60 116v1M60 145v4M61 17v5M61 28v7M61 36v10M61 52v1M62 12v6M62 39v2M62 50v3M62 66v4M62 145v4M63 58v2M63 68v1M63 105v1M64 0v4M64 25v5M64 41v1M64 45v1M64 51v7M64 85v3M64 111v2M64 140v1M65 0v12M65 28v2M65 48v2M65 108v2M65 143v1M66 0v5M66 9v2M66 34v2M66 43v2M66 77v1M66 79v2M66 143v1M67 20v4M67 56v2M67 67v1M68 27v3M68 129v2M68 144v2M69 16v1M69 22v3M69 41v3M69 59v1M69 86v1M69 98v2M70 5v4M70 10v1M70 41v5M70 61v1M70 96v2M70 103v1M71 98v2M71 105v1M71 109v1M71 129v1M71 141v1M72 12v3M72 26v3M72 34v3M72 104v3M72 141v1M72 144v5M73 0v1M73 9v3M73 21v1M73 31v3M73 35v5M73 61v1M73 69v3M74 2v2M74 18v2M74 23v3M74 61v1M74 85v1M74 89v1M74 95v3M74 124v5M75 10v1M75 21v1M75 35v2M75 47v1M75 69v6M75 82v1M76 33v3M76 49v4M76 58v2M76 145v4M77 0v4M77 15v1M77 32v6M77 40v2M77 56v6M77 63v3M77 79v1M77 88v1M77 145v4M78 34v2M78 40v5M78 82v2M79 6v1M79 19v2M79 24v5M79 54v2M79 58v3M79 65v4M79 82v1M79 121v4M79 145v4M80 34v2M80 46v2M80 57v9M80 145v2M81 0v6M81 27v2M81 30v10M81 51v4M81 143v1M82 0v3M82 20v2M82 25v2M82 29v4M82 44v6M82 71v1M82 83v1M82 144v1M83 7v2M83 94v6M83 102v1M84 52v2M84 68v2M84 78v1M84 82v2M84 104v1M84 106v1M84 143v1M85 30v6M85 40v2M85 56v2M86 19v4M86 26v9M86 43v3M86 50v2M86 67v2M86 74v1M86 143v1M87 19v1M87 27v2M87 57v2M87 69v1M87 100v2M88 9v6M88 37v1M88 49v2M88 68v6M88 140v2M89 0v3M89 95v2M89 144v5M90 22v9M90 143v6M91 1v6M91 11v4M91 54v8M91 68v6M91 78v1M91 85v2M91 89v6M91 102v1M92 5v2M92 18v2M92 30v2M92 41v3M92 54v4M92 89v1M92 91v1M92 105v1M93 32v1M93 49v1M93 66v2M93 115v1M94 23v2M94 30v1M94 67v1M94 76v1M95 36v1M95 63v6M96 43v7M97 0v2M97 6v2M97 79v1M97 87v1M97 142v1M98 30v2M98 44v4M98 69v1M98 80v2M98 144v5M99 2v13M99 22v2M99 126v3M99 144v5M100 43v2M100 59v1M100 96v1M100 143v1M101 3v5M101 32v2M101 36v2M101 42v2M101 50v2M101 142v7M102 2v2M102 9v2M102 52v5M102 140v1M102 144v1M103 19v3M103 129v1M103 146v3M104 41v6M105 16v2M105 29v2M105 43v2M105 49v2M105 58v3M105 70v1M105 144v3M106 9v7M106 64v3M106 68v11M106 82v1M106 87v1M107 14v2M107 62v2M107 73v1M108 17v6M108 40v2M108 45v3M108 57v2M108 71v3M108 104v1M108 108v2M108 142v1M109 13v1M109 22v4M109 58v7M109 74v2M109 122v2M109 130v2M109 138v2M109 143v2M110 6v3M110 12v4M110 21v8M110 143v1M111 11v1M111 144v1M112 8v3M112 32v1M112 42v1M112 52v1M112 68v1M112 90v1M112 95v3M112 123v8M113 29v1M113 45v2M113 98v1M114 12v2M114 28v4M114 41v1M114 56v1M114 80v1M114 85v1M114 144v1M115 10v3M115 22v5M115 33v3M115 41v9M115 63v1M115 77v1M115 144v3M116 7v2M116 73v2M116 85v1M116 120v2M116 136v4M117 6v1M117 28v1M117 44v1M117 88v1M117 94v1M118 11v1M118 21v5M118 44v7M118 91v1M118 100v1M118 102v1M118 143v2M119 30v3M119 43v3M119 101v2M119 143v3M120 19v4M120 57v2M120 65v2M120 99v2M120 131v1M121 3v1M121 12v2M121 20v2M121 40v2M121 57v1M121 120v1M122 0v4M122 18v8M122 52v2M122 75v2M123 2v2M123 7v7M123 53v11M123 76v9M124 3v1M124 13v2M124 25v1M125 13v2M125 55v1M125 59v2M125 130v8M126 69v2M126 72v2M126 82v2M126 88v1M126 117v2M126 143v1M127 6v6M127 64v2M127 114v1M127 142v1M128 0v5M128 71v2M128 84v1M128 145v4M129 8v2M129 19v3M129 44v8M129 53v4M129 60v2M129 67v1M129 85v4M130 26v9M130 42v2M130 49v1M130 79v1M130 146v3M131 26v3M131 42v3M131 59v1M131 146v3M132 12v2M132 23v2M132 50v5M132 144v5M133 22v11M133 38v5M133 53v2M133 96v1M133 140v7M134 3v2M134 19v1M134 37v2M135 3v1M135 15v1M135 20v2M135 121v1M136 0v3M136 51v3M136 58v7M136 71v1M136 139v1M136 144v3M137 7v11M137 20v5M137 36v6M137 48v3M137 94v1M137 117v2M137 124v2M138 0v3M138 16v4M138 24v1M138 29v3M138 48v1M139 0v2M139 38v7M139 67v1M139 82v1M140 9v1M140 19v4M140 27v4M140 34v2M140 143v1M141 30v1M141 33v2M141 44v1M141 49v2M141 68v3M141 74v8M141 117v1M141 144v5M142 8v9M142 20v6M142 32v2M142 43v7M142 52v3M142 68v5M142 135v1M142 141v2M143 0v1M143 20v3M143 32v1M143 50v7M143 119v1M143 121v1M144 19v1M144 28v14M144 47v1M144 56v2M144 144v5M145 0v1M145 8v2M145 30v5M145 60v1M145 68v1M145 142v1M146 31v1M146 43v1M146 68v2M146 80v1M146 104v1M146 140v5M147 1v5M147 24v2M147 33v1M147 110v2M147 133v1M147 138v1M147 141v1M148 19v3M148 29v3M148 105v2M149 9v2M149 38v6M149 45v3M149 49v2M149 66v9M149 78v2M149 144v5M150 73v5M150 83v1M150 146v3M151 28v3M151 32v2M151 59v2M151 72v1M152 32v1M152 44v2M152 50v5M152 67v5M152 74v1M152 111v2M152 145v3M153 9v1M153 34v3M153 47v1M153 52v2M153 68v3M153 82v1M153 142v2M154 7v2M154 37v2M154 60v2M154 72v3M154 80v2M155 14v1M155 63v6M155 130v1M155 134v5M155 143v1M156 12v1M156 30v2M156 44v4M156 53v3M156 119v3M156 144v1M157 0v6M157 10v4M157 25v2M157 82v2M157 144v5M158 5v8M158 36v5M158 57v1M158 144v4M159 5v2M159 50v7M159 59v5M159 76v1M159 132v3M159 137v2M160 13v4M160 32v1M160 43v4M160 53v1M160 99v3M161 16v2M161 29v3M161 37v1M161 45v2M161 62v2M161 69v2M161 133v6M162 11v4M162 30v2M162 75v1M162 143v1M163 54v5M163 69v1M163 144v1M164 31v3M164 43v2M164 69v1M164 78v1M164 130v1M165 15v2M165 33v2M165 56v11M165 69v3M165 77v3M166 14v2M166 29v3M166 60v4M166 145v1M167 16v3M167 37v1M167 44v1M167 56v5M167 68v2M167 77v1M168 15v3M168 33v2M168 64v1M168 74v3M168 144v5M169 3v6M169 16v1M169 27v6M169 40v17M169 62v2M169 96v4M169 134v3M170 0v1M170 12v2M170 31v2M170 42v7M170 65v2M171 0v3M171 18v1M171 25v8M171 37v1M171 44v4M171 70v2M171 104v1M172 7v3M172 13v2M172 24v5M172 63v1M172 76v1M172 102v1M172 104v1M173 40v2M173 45v1M173 51v2M174 23v2M174 35v1M174 66v4M174 119v1M174 122v1M174 143v1M175 7v1M175 40v5M175 48v3M175 63v3M175 128v10M176 40v6M177 28v11M177 55v4M177 134v8M178 48v2M178 51v2M178 144v1M179 5v2M179 12v7M179 53v3M179 65v2M179 76v2M179 145v4M180 70v3M180 103v1M180 108v1M180 123v7M180 137v2M180 144v3M181 4v1M181 27v12M181 45v1M181 65v2M181 70v3M181 144v5M182 12v1M182 22v3M182 34v1M182 60v2M182 72v1M182 93v2M182 143v1M183 8v2M183 37v2M183 46v2M183 75v1M183 106v1M183 109v1M183 131v3M183 139v1M184 4v3M184 34v1M184 59v1M184 67v2M184 93v2M184 112v1M184 132v2M184 143v1M185 40v9M185 91v2M186 22v2M187 6v3M187 14v5M187 45v3M187 54v7M187 74v1M187 87v3M187 101v1M187 104v1M188 25v3M188 33v1M188 51v4M188 59v3M188 88v10M188 142v1M189 39v2M189 46v2M189 51v2M189 57v5M189 89v5M190 32v1M190 42v2M190 52v4M190 68v2M190 113v1M191 8v1M191 11v3M191 29v5M191 51v2M192 5v3M192 40v2M192 52v2M193 143v1M194 44v3M194 54v3M194 90v10M195 10v1M195 17v4M195 60v7M195 110v2M196 14v4M196 21v2M196 51v1M196 69v2M196 124v3M196 141v1M197 6v5M197 24v5M197 36v2M197 52v5M197 111v3M198 31v4M198 118v2M198 144v1M199 23v3M199 37v4M199 43v2M199 49v1M199 94v6M200 12v2M200 17v2M200 112v3M201 22v3M201 41v1M201 52v2M201 79v5M201 109v6M202 39v1M202 54v7M202 127v2M203 55v1M203 64v1M204 60v3M204 97v2M204 120v3M205 0v4M205 9v2M205 19v2M205 36v9M205 52v4M205 59v4M206 14v4M206 36v2M206 45v10M206 59v2M206 62v2M206 134v4M206 143v6M207 13v3M207 51v4M207 132v2M208 17v1M208 36v2M208 53v8M208 62v1M208 85v1M208 94v1M209 15v1M209 31v2M209 35v5M209 50v2M209 54v6M209 64v1M209 82v3M209 89v1M209 91v1M210 0v3M210 6v8M210 42v1M210 59v2M210 83v1M210 115v2M211 3v1M212 4v2M212 17v2M212 94v4M213 31v5M213 38v4M213 45v2M213 79v1M213 84v1M213 134v1M214 4v2M214 19v1M214 35v2M214 38v5M214 48v3M214 118v4M214 125v5M214 143v1M214 147v2M215 72v1M215 112v5M216 40v3M216 116v1M216 144v5M217 0v3M217 9v5M217 45v1M217 48v8M217 124v2M217 132v4M218 29v3M218 49v1M218 55v3M218 59v2M218 74v1M218 79v1M218 117v1M219 0v3M219 11v2M219 27v2M219 37v4M219 42v2M219 70v1M219 75v1M219 144v5M220 15v2M220 19v1M220 44v2M220 118v5M220 139v2M220 144v4M221 0v2M221 12v8M221 58v1M221 142v1M222 15v12M222 39v5M222 46v7M222 94v2M222 103v1M222 109v8M222 132v6M223 2v1M223 18v2M223 22v3M223 31v1M223 118v2M223 128v1M223 131v4M223 138v1M223 141v2M224 13v5M224 111v5M224 132v5M224 141v1M225 6v1M225 22v1M225 38v2M225 106v2M225 122v3M225 142v7M226 9v1M226 143v2M227 9v2M227 44v1M227 49v5M227 133v3M227 141v2M228 1v4M228 17v1M228 34v1M228 84v1M229 37v3M229 94v1M229 109v1M229 141v2M230 6v1M230 39v6M230 48v3M230 119v3M230 135v3M231 7v3M231 29v1M231 40v2M231 55v1M231 119v2M232 6v2M232 21v5M232 27v2M232 144v5M233 12v14M233 54v1M234 0v5M234 144v5M235 2v3M235 16v1M235 35v1M235 40v1M235 45v5M235 53v2M236 4v7M236 21v2M236 138v1M236 142v1M237 6v2M237 10v2M237 15v8M237 26v3M237 144v5M238 69v1M238 143v1M239 5v2M239 74v2M239 91v3M239 103v2M239 115v3M239 121v2M240 41v2M240 49v1M240 143v6M241 24v3M241 97v1M241 136v1M242 44v3M242 125v3M243 4v2M243 8v10M243 116v1M244 9v2M244 28v3M244 66v1M244 79v1M244 118v3M244 140v1M245 34v1M245 43v1M245 131v7M246 5v3M246 27v5M246 105v6M247 96v2M247 130v2M247 143v6M248 0v7M248 21v1M248 39v1M249 12v7M249 30v2M249 55v2M249 60v2M249 76v1M249 81v1M249 140v9M250 14v3M250 21v2M250 27v2M250 34v7M250 44v1M251 12v5M251 145v4M252 8v7M252 28v7M252 48v1M252 59v2M253 27v3M253 43v1M253 139v10M254 2v4M255 15v5M255 59v1M255 61v1M255 144v5M256 11v2M256 29v2M256 92v3M257 13v2M257 18v3M257 93v1M257 144v1M258 0v2M259 13v12M259 31v1M260 6v8M260 146v3M261 3v2M261 10v3M261 35v2M261 141v1M263 0v4M263 24v4M263 51v1M263 55v1M263 85v8M263 140v1M263 143v3M264 47v2M264 140v3M265 146v3M266 7v7M266 36v5M266 80v1M267 6v3M267 18v5M267 29v2M267 47v2M267 92v1M267 144v1M268 10v5M268 36v2M268 87v4M269 7v2M269 18v1M269 53v1M269 144v1M270 27v1M270 143v2M271 11v2M271 25v1M271 83v3M271 140v1M272 27v2M272 32v3M272 139v1M273 8v2M273 18v2M273 145v4M274 11v9M274 30v7M274 143v6M275 3v1M275 82v2M275 145v4M276 7v1M276 20v5M276 56v1M276 61v1M276 146v3M277 7v2M277 12v2M277 54v1M277 139v2M277 145v4M279 32v1M280 12v4M281 23v6M281 40v2M281 51v1M282 0v1M282 4v2M282 12v3M282 20v5M282 90v3M282 144v5M283 0v2M283 20v2M283 39v3M283 44v1M283 49v2M284 3v1M284 63v1M284 67v1M284 138v2M285 50v6M285 84v1M286 16v6M286 33v3M286 142v2M287 10v2M287 14v4M287 80v1M287 142v1M288 23v8M288 83v5M289 13v1M289 38v1M289 44v1M289 70v1M290 20v4M290 27v2M290 31v1M291 6v2M291 48v4M292 10v6M292 27v2M292 53v1M292 90v1M293 9v3M293 68v3M294 11v3M294 27v1M294 31v4M294 44v1M294 68v1M294 94v1M296 10v2M296 39v2M296 70v1M296 94v4M296 110v1M296 136v1M297 14v2M297 134v2M298 42v1M298 48v3M298 58v1M298 125v1M299 0v5M299 6v2M299 11v4M299 60v2M299 143v1M300 10v10M300 61v1M300 67v1M300 128v2M300 134v5M301 20v5M301 91v2M301 146v3M302 16v6M302 75v1M302 110v3M302 127v13M303 0v7M304 0v3M304 8v1M304 14v2M304 86v1M304 103v5M304 144v2M305 133v7M305 147v2M306 4v4M306 18v4M306 26v1M306 36v6M306 46v3M306 61v2M306 65v2M306 96v5M306 143v1M307 20v3M307 31v1M307 33v5M307 83v1M307 115v2M307 120v4M308 11v1M308 28v1M308 36v1M308 104v4M308 121v6M309 20v3M309 28v5M309 129v3M309 136v1M309 144v3M310 17v5M311 26v4M311 36v3M312 13v3M312 55v2M312 59v3M312 69v1M312 83v1M312 144v5M313 8v3M313 14v6M313 92v4M313 128v2M314 11v4M314 29v2M314 145v4M315 9v3M315 20v7M315 33v4M315 45v2M315 53v2M315 56v4M315 90v6M315 138v2M315 142v1M316 7v6M316 123v4M316 132v1M317 10v3M317 18v1M317 46v3M317 53v6M317 61v3M317 79v1M317 83v2M317 89v1M317 101v2M317 106v6M318 67v1M318 80v1M318 94v2M318 144v5M319 3v2M319 17v6M319 27v2M319 39v2M319 60v1M319 144v5M320 26v1M320 34v3M320 55v1M320 146v3M321 28v1M321 48v1M321 95v3M321 127v1M321 143v1M322 10v2M322 19v9M322 77v1M322 142v1M323 0v5M323 31v2M323 42v2M323 68v1M323 75v1M323 81v1M323 90v4M323 97v2M323 118v3M323 143v6M324 9v1M324 23v3M324 46v5M325 30v2M325 38v2M325 73v1M325 138v2M326 15v1M326 34v1M326 144v1M327 9v4M327 25v4M327 143v1M328 8v1M328 33v12M328 54v1M328 61v1M328 143v6M329 13v6M329 20v5M329 27v5M329 109v7M329 144v1M330 11v2M330 17v7M330 31v2M330 47v1M330 55v3M330 102v3M330 143v1M331 10v1M331 20v3M331 32v1M331 90v6M331 127v4M332 5v6M332 84v1M332 130v4M332 142v1M333 10v2M333 26v2M333 42v1M333 44v1M333 124v5M334 29v2M334 35v3M334 84v1M334 98v4M334 107v2M335 21v1M335 37v1M335 145v4M336 28v1M336 32v1M336 41v2M336 127v8M337 9v2M337 24v1M337 44v4M337 52v2M337 62v3M337 144v1M338 99v2M338 144v5M339 8v2M339 31v1M339 35v1M339 45v2M339 100v5M339 110v5M339 120v1M339 126v3M339 131v5M340 11v8M340 40v8M340 51v4M341 6v3M341 99v5M341 128v3M341 133v2M341 144v5M342 14v2M342 23v5M342 36v7M342 53v3M342 58v1M342 68v1M342 105v1M342 144v1M343 10v2M343 21v8M343 47v1M343 144v1M344 143v6M345 13v2M345 21v2M345 33v4M345 42v2M345 45v2M345 66v2M345 71v2M346 8v1M346 41v1M346 49v1M346 89v1M346 141v1M347 5v2M347 14v3M347 31v1M347 44v1M347 57v1M347 100v1M347 111v3M347 128v5M347 143v1M348 9v1M348 33v3M349 39v1M349 43v2M349 90v1M350 140v1M351 51v1M351 57v1M351 144v1M352 81v1M352 83v1M352 103v2M353 22v1M353 27v2M353 40v5M353 82v1M353 90v3M353 129v2M354 108v3M354 121v3M354 128v2M354 145v1M355 11v5M355 43v1M355 50v4M355 56v1M355 79v1M355 82v1M355 85v3M355 91v9M355 135v6M356 8v3M356 139v2M357 71v1M358 7v1M358 19v1M359 28v2M359 111v1M359 145v4M360 18v1M360 29v2M360 38v1M360 45v1M360 133v2M361 28v2M361 33v1M361 67v1M361 142v2M362 18v5M362 134v2M362 142v1M363 0v4M363 93v3M363 133v4M363 140v1M364 12v2M364 26v1M364 32v1M364 100v2M364 140v1M365 8v17M365 30v6M365 43v1M365 60v1M365 144v3M366 16v2M366 71v1M366 77v1M367 6v3M367 11v2M367 60v1M367 62v2M367 96v3M367 134v2M368 8v10M368 118v3M368 143v3M369 26v2M369 32v1M369 40v1M369 55v1M369 58v2M369 66v1M369 101v3M369 143v1M370 39v4M370 56v1M370 98v4M370 113v5M370 144v3M371 21v3M371 30v6M371 143v1M372 5v9M372 17v8M372 63v1M372 86v6M372 118v1M372 148v1M373 13v5M373 125v2M374 12v1M374 38v1M374 51v1M374 89v2M374 104v4M375 20v5M375 42v3M375 47v4M375 121v5M375 139v1M376 11v3M376 28v4M376 43v3M376 63v1M376 86v1M376 98v9M376 135v7M377 10v4M377 132v8M378 0v5M378 12v7M378 23v4M378 143v1M379 9v1M379 34v2M379 47v1M379 85v4M379 125v2M379 143v6M380 20v7M380 34v2M380 60v1M380 72v1M380 135v5M381 21v4M381 125v3M382 12v1M382 31v13M382 45v4M382 100v3M382 110v3M382 143v1M383 8v3M383 13v6M383 32v2M383 52v5M383 97v15M383 126v4M383 143v6M384 10v3M385 10v5M385 22v2M385 56v1M385 67v1M385 103v2M385 135v5M385 147v2M386 1v4M386 23v2M386 36v2M386 93v4M387 26v1M387 38v2M387 49v1M387 91v6M387 144v3M388 95v2M388 132v1M388 143v2M389 4v3M389 33v2M389 143v2M390 16v2M390 144v5M391 19v1M391 27v1M391 39v4M391 61v1M391 69v5M391 87v6M391 103v3M391 147v2M392 34v2M392 38v2M392 43v4M392 51v9M392 99v3M392 143v1M393 2v1M393 7v4M393 13v4M393 62v2M393 70v2M393 131v1M393 143v1M394 6v1M394 30v1M394 38v1M394 62v1M394 66v1M395 25v2M395 29v4M395 34v2M395 40v1M395 129v2M396 2v3M396 14v2M396 54v1M396 57v2M396 133v4M396 144v5M397 2v5M397 25v1M397 67v1M397 90v4M397 107v4M397 142v1M398 145v4M399 11v1M399 43v2M399 48v1"/>
<path stroke="#3f2661" d="M0 20v6M0 36v2M0 49v2M0 60v7M0 139v1M1 11v12M1 24v2M1 30v4M1 50v3M1 68v2M2 7v3M2 14v5M2 24v2M2 45v2M2 58v5M2 70v1M2 108v1M2 111v1M2 140v3M3 1v17M3 35v3M3 52v2M3 67v2M3 141v6M4 35v2M4 59v2M4 63v3M4 137v1M5 6v13M5 23v3M5 39v5M5 56v2M5 138v1M6 6v5M6 19v4M6 58v6M6 110v1M6 138v1M7 40v5M7 47v2M7 79v1M7 138v1M8 13v2M8 20v5M8 28v9M8 56v7M8 91v1M8 106v2M8 125v1M8 140v9M9 11v3M9 29v1M9 38v7M9 48v2M9 64v2M9 99v1M9 139v1M10 33v1M10 49v5M10 113v1M10 139v10M11 9v5M11 17v2M11 22v5M11 52v9M11 73v1M11 113v3M11 136v1M12 25v4M12 32v5M12 43v8M12 52v8M12 79v5M12 90v1M12 92v1M12 103v1M12 139v1M13 0v6M13 15v2M13 48v4M13 60v4M13 79v4M13 90v1M13 103v1M13 106v1M13 109v1M13 116v3M14 10v4M14 18v11M14 41v4M14 53v5M14 63v11M14 79v1M14 95v1M14 140v9M15 30v2M15 34v2M15 52v2M15 70v3M15 78v1M15 109v2M15 114v1M15 122v1M15 139v1M16 0v3M16 14v1M16 34v5M16 60v2M16 139v1M17 10v2M17 22v6M17 37v3M17 52v4M17 66v4M17 139v2M18 12v3M18 27v1M18 31v6M18 42v13M18 100v1M18 113v1M18 139v1M19 33v4M19 58v1M19 81v1M19 138v1M19 145v4M20 16v4M20 61v6M20 90v7M20 98v1M20 139v1M21 0v3M21 18v3M21 26v4M21 36v4M21 43v2M21 59v3M21 87v2M21 94v2M21 131v1M22 46v3M22 55v2M22 116v1M22 123v1M22 139v1M23 5v6M23 28v2M23 35v3M23 72v4M23 132v3M23 139v1M23 146v3M24 8v2M24 23v2M24 36v1M24 53v9M24 140v1M25 16v2M25 34v3M25 49v11M25 63v3M25 76v2M25 80v1M25 91v1M25 97v1M25 99v1M25 105v1M26 0v4M26 25v2M26 43v5M26 68v1M26 73v2M27 15v9M27 38v1M27 55v3M27 75v2M27 83v2M27 116v1M28 4v2M28 48v2M28 64v2M28 104v1M28 113v1M28 128v1M28 139v1M29 9v1M29 21v2M29 51v2M29 72v2M29 78v2M29 107v1M29 129v5M29 139v1M29 143v6M30 5v2M30 16v14M30 41v5M30 54v7M30 66v6M30 84v1M30 113v3M30 120v1M30 138v1M31 20v2M31 34v6M31 46v3M31 78v7M31 138v1M32 6v7M32 18v2M32 28v4M32 38v4M32 45v1M32 57v2M32 64v2M32 100v1M32 104v1M32 125v1M32 128v1M32 139v1M33 40v3M33 50v3M33 62v9M33 95v2M33 121v2M33 134v1M33 140v7M34 26v4M34 41v4M34 49v3M34 74v2M34 88v2M34 95v3M35 15v1M35 47v5M35 64v2M35 126v1M35 131v1M35 139v1M35 144v5M36 0v3M36 30v3M36 39v4M36 54v6M36 73v1M36 129v1M36 138v1M37 18v2M37 21v2M37 35v8M37 45v6M37 61v2M37 74v4M37 84v1M37 131v2M37 138v2M37 142v4M38 6v4M38 27v2M38 32v5M38 56v8M38 122v1M38 126v1M38 139v1M39 15v9M39 31v5M39 59v2M39 68v2M39 121v1M39 136v2M40 35v2M40 106v1M40 108v3M40 139v1M41 0v14M41 46v11M41 62v2M41 73v2M41 127v1M41 132v1M41 137v1M42 7v2M42 10v10M42 39v8M42 57v1M42 85v4M42 93v5M42 102v3M42 111v1M42 138v1M43 0v11M43 20v3M43 30v4M43 44v2M43 71v2M43 76v2M43 139v1M44 26v1M44 40v5M44 58v4M44 140v4M45 0v7M45 19v9M45 31v6M45 43v2M45 49v6M45 57v6M45 84v2M45 93v1M45 110v3M45 140v1M46 10v1M46 18v4M46 38v4M46 82v1M46 140v2M47 12v3M47 47v2M48 0v4M48 13v20M48 43v8M48 54v2M48 66v5M48 77v2M48 82v2M49 2v5M49 21v5M49 44v2M49 55v2M49 62v5M49 110v1M49 115v2M49 118v1M49 125v1M50 26v3M50 39v7M50 65v1M51 17v2M51 48v2M51 61v4M51 70v4M51 145v4M52 8v1M52 36v3M52 48v6M52 83v1M53 10v7M53 22v4M53 42v1M53 45v14M53 105v3M53 144v1M54 7v9M54 34v3M54 64v4M54 74v2M54 81v3M54 88v1M54 121v1M54 123v7M54 132v4M54 141v1M55 12v8M55 24v3M55 34v1M55 41v3M55 144v1M56 10v13M56 28v4M56 35v1M56 49v10M56 70v2M56 110v2M56 145v4M57 25v4M57 59v5M57 114v1M57 143v1M58 15v12M58 32v2M58 42v9M58 65v3M58 79v1M58 95v1M59 18v7M59 40v5M59 49v11M59 74v1M59 100v1M59 134v5M59 142v1M60 13v3M60 57v8M60 79v3M60 86v2M60 91v1M60 117v1M60 127v2M60 144v1M61 10v7M61 22v6M61 53v2M61 143v6M62 18v3M62 38v1M62 53v4M62 62v4M62 77v2M62 143v2M63 39v11M63 55v3M63 69v2M63 104v1M63 106v1M63 145v1M64 4v9M64 18v7M64 30v3M64 39v2M64 58v2M64 83v2M64 88v1M64 110v1M64 136v4M65 30v3M65 45v3M65 90v1M65 97v1M65 112v1M65 116v1M66 11v6M66 33v1M66 45v2M66 50v9M66 75v2M66 81v1M67 16v4M67 24v6M67 42v14M67 68v2M67 73v1M67 94v6M68 30v4M68 36v10M68 50v13M68 131v1M68 143v1M69 15v1M69 25v2M69 37v4M69 60v2M69 80v1M69 97v1M69 100v2M69 108v2M69 142v1M70 9v1M70 11v3M70 39v2M70 62v3M70 95v1M70 98v3M70 102v1M70 107v1M70 133v2M71 100v1M71 110v1M71 119v3M71 128v1M72 15v3M72 24v2M72 37v3M72 115v2M72 138v3M73 1v8M73 22v2M73 26v5M73 40v6M73 59v2M73 72v2M74 4v2M74 15v3M74 62v2M74 94v1M74 98v2M74 113v1M74 129v1M74 142v1M75 8v2M75 22v7M75 33v2M75 48v4M75 62v7M75 83v1M76 0v4M76 9v7M76 31v2M76 60v5M76 144v1M77 16v2M77 26v6M77 42v2M77 53v3M77 62v1M77 80v1M77 86v2M77 89v2M77 143v2M78 3v13M78 32v2M78 45v12M78 76v6M78 84v1M78 144v5M79 4v2M79 21v3M79 29v6M79 51v3M79 61v4M79 83v1M79 109v2M79 120v1M79 144v1M80 0v14M80 32v2M80 48v3M80 53v4M80 66v2M80 144v1M81 6v5M81 26v1M81 55v3M81 73v3M81 138v3M82 3v5M82 16v4M82 33v4M82 40v4M82 50v2M82 70v1M82 84v1M82 142v2M83 9v4M83 41v5M83 63v3M83 93v1M83 100v2M83 111v1M83 114v2M83 143v1M84 0v2M84 49v3M84 70v2M84 76v2M84 84v1M84 99v1M84 105v1M84 107v1M85 0v1M85 24v6M85 42v2M85 54v2M85 58v4M85 144v5M86 0v2M86 15v4M86 52v6M86 64v3M86 75v6M87 17v2M87 29v11M87 44v3M87 52v5M87 70v1M87 84v1M87 102v4M87 128v5M88 15v2M88 35v2M88 51v2M88 64v4M88 74v3M88 138v2M89 3v2M89 12v7M89 23v3M89 42v9M89 52v2M89 67v6M89 94v1M89 97v2M89 141v3M90 31v2M91 15v7M91 28v10M91 47v7M91 62v6M91 79v6M91 142v7M92 0v5M92 32v4M92 38v3M92 58v4M92 92v1M92 110v1M92 136v1M92 144v5M93 30v2M93 68v1M93 107v1M93 116v2M93 144v5M94 12v11M94 25v5M94 31v4M94 53v6M94 66v1M94 77v2M94 143v1M95 37v1M95 44v5M95 61v2M95 69v1M95 131v2M95 144v5M96 3v17M96 26v5M96 32v11M96 50v3M96 144v5M97 2v4M97 8v3M97 19v13M97 64v1M97 77v2M97 88v1M97 103v2M98 8v9M98 27v3M98 32v12M98 48v3M98 67v2M98 82v1M98 100v2M98 108v3M98 143v1M99 24v1M99 66v6M99 125v1M99 129v5M99 136v3M99 143v1M100 18v25M100 60v2M100 89v1M100 123v2M100 136v1M100 142v1M101 8v2M101 29v3M101 38v4M101 52v3M102 0v2M102 11v7M102 48v4M102 57v4M102 133v7M102 143v1M103 2v17M103 22v2M103 50v1M103 66v6M103 81v3M103 130v3M103 144v2M104 16v10M104 36v5M104 47v3M104 51v13M104 86v2M104 142v1M105 8v2M105 14v2M105 31v3M105 41v2M105 51v7M105 71v1M105 138v2M105 143v1M106 6v3M106 16v2M106 60v4M106 79v3M106 88v1M106 90v5M107 16v7M107 59v3M107 74v1M107 145v4M108 9v8M108 23v4M108 30v10M108 59v6M108 70v1M108 74v2M108 103v1M108 110v2M109 14v8M109 65v4M109 72v2M109 76v2M109 132v6M109 142v1M110 16v5M110 29v2M110 70v5M110 109v1M111 12v2M111 35v3M111 80v1M111 143v1M112 11v2M112 16v2M112 24v8M112 33v9M112 43v9M112 69v2M112 89v1M112 98v1M112 122v1M112 146v3M113 28v1M113 47v8M113 96v2M113 102v1M113 146v3M114 0v5M114 9v3M114 32v3M114 39v2M114 57v9M114 79v1M114 86v2M114 143v1M115 0v10M115 36v5M115 50v6M115 62v1M115 78v1M115 93v7M116 9v2M116 25v3M116 35v3M116 72v1M116 86v1M116 135v1M117 7v5M117 26v2M117 45v2M117 59v7M117 87v1M117 145v4M118 9v2M118 51v11M118 81v1M118 99v1M118 103v1M118 142v1M119 5v11M119 22v8M119 46v3M119 71v1M119 100v1M119 103v1M119 142v1M120 18v1M120 23v13M120 51v6M120 67v2M120 77v2M120 98v1M120 101v1M120 130v1M120 132v1M121 0v3M121 4v3M121 9v3M121 22v3M121 38v2M121 58v1M121 86v3M121 125v1M121 143v1M122 4v2M122 16v2M122 26v6M122 35v7M122 44v2M122 50v2M122 77v2M122 90v5M122 144v5M123 0v2M123 14v2M123 28v14M123 43v3M123 50v3M123 85v1M124 4v9M124 26v2M124 47v7M124 61v2M124 122v1M124 144v5M125 10v3M125 15v10M125 52v3M125 61v2M125 76v10M125 92v6M125 124v2M125 144v5M126 10v9M126 22v4M126 42v8M126 61v3M126 67v2M126 74v8M126 119v1M127 12v3M127 42v7M127 62v2M127 80v1M127 115v1M128 5v5M128 65v6M128 85v1M128 118v1M128 144v1M129 10v4M129 18v1M129 22v9M129 37v7M129 57v3M129 68v1M129 84v1M129 89v4M129 142v1M130 23v3M130 44v5M130 80v1M130 143v3M131 29v2M131 33v4M131 39v3M131 60v1M131 142v1M132 8v4M132 25v2M132 42v8M132 55v9M132 143v1M133 0v1M133 12v10M133 33v5M133 55v4M133 73v8M133 97v2M133 109v1M133 135v3M133 139v1M134 5v4M134 18v1M134 39v9M134 144v5M135 4v1M135 12v3M135 22v2M135 25v3M135 140v1M136 3v3M136 46v5M136 54v4M136 72v2M136 136v1M136 142v2M137 3v4M137 18v2M137 51v5M137 88v4M137 95v1M137 116v1M137 119v2M137 122v2M137 126v1M138 3v3M138 10v6M138 20v4M138 49v2M138 85v4M138 143v6M139 2v1M139 35v3M139 45v2M139 64v3M139 83v2M139 145v4M140 10v2M140 17v2M140 36v7M140 60v6M140 73v2M140 77v3M141 35v5M141 42v2M141 51v7M141 65v3M141 71v3M141 82v1M141 116v1M141 143v1M142 2v6M142 17v3M142 26v6M142 50v2M142 55v5M142 67v1M142 73v1M143 1v2M143 15v5M143 33v2M143 46v4M143 74v2M143 142v1M144 20v8M144 42v5M144 58v5M144 143v1M145 10v1M145 28v2M145 35v2M145 58v2M145 69v1M146 8v3M146 29v2M146 44v4M146 49v5M146 62v6M146 81v1M146 103v1M146 145v4M147 0v1M147 6v3M147 22v2M147 34v2M147 83v4M148 17v2M148 32v22M148 70v4M148 80v2M148 107v1M148 142v1M149 11v20M149 35v3M149 48v1M149 80v2M149 104v1M149 143v1M150 48v11M150 71v2M150 84v1M150 139v1M150 143v3M151 13v8M151 24v4M151 34v2M151 56v3M151 73v1M151 126v2M151 144v1M152 33v4M152 42v2M152 55v2M152 64v3M152 75v1M152 110v1M152 113v1M152 117v3M152 143v2M152 148v1M153 10v8M153 24v1M153 32v2M153 37v3M153 44v3M153 54v4M153 66v2M153 141v1M154 9v7M154 33v4M154 62v4M154 69v3M154 82v2M154 98v1M154 143v6M155 15v5M155 43v7M155 62v1M155 69v2M155 129v1M155 139v1M155 142v1M156 10v2M156 48v5M156 56v10M156 111v1M156 129v1M156 143v1M157 27v2M157 41v11M157 70v3M157 76v6M157 143v1M158 4v1M158 13v4M158 32v4M158 58v2M158 143v1M159 7v3M159 47v3M159 77v2M159 128v1M159 130v1M159 135v2M160 11v2M160 33v10M160 54v8M160 102v1M160 128v1M160 134v1M160 145v4M161 18v11M161 47v15M161 71v2M162 15v4M162 21v9M162 76v1M163 4v15M163 49v5M163 70v2M163 143v1M164 27v4M164 45v3M164 58v2M164 63v6M164 141v1M165 3v12M165 35v2M165 51v5M165 67v2M165 72v5M165 141v1M166 16v2M166 25v4M166 64v10M166 144v1M167 11v5M167 19v3M167 35v2M167 45v2M167 53v3M167 61v7M167 78v1M167 114v1M167 144v5M168 11v4M168 65v3M168 73v1M168 77v1M168 124v2M168 143v1M169 9v2M169 15v1M169 33v7M169 64v2M169 95v1M169 144v2M170 14v3M170 25v6M170 67v6M170 142v1M171 19v6M171 33v4M171 38v6M171 72v4M172 10v3M172 29v2M172 55v8M172 77v1M172 105v4M173 35v5M173 53v10M174 20v3M174 36v2M174 62v4M174 70v4M174 125v2M175 8v7M175 32v2M175 38v2M175 51v12M175 66v10M175 141v1M176 37v3M176 46v20M176 68v6M177 12v3M177 23v5M177 39v3M177 46v9M177 59v3M177 143v6M178 12v5M178 46v2M178 53v1M178 74v2M178 143v1M179 7v5M179 19v13M179 47v6M179 67v2M179 143v2M180 16v5M180 48v22M180 73v1M180 109v1M180 115v1M180 139v1M180 142v2M181 1v3M181 46v1M181 53v12M181 67v3M181 73v1M181 143v1M182 10v2M182 35v2M182 58v2M182 95v1M182 142v1M183 0v8M183 10v6M183 20v17M183 48v2M183 61v8M183 130v1M184 0v4M184 35v1M184 51v8M184 69v1M184 95v1M184 111v1M184 131v1M184 134v1M185 7v11M185 28v3M185 33v7M185 49v3M185 54v1M185 69v1M185 143v6M186 24v3M186 57v10M186 114v1M186 126v2M187 0v6M187 19v2M187 42v3M187 61v4M187 75v1M187 86v1M187 107v1M187 119v1M188 22v3M188 28v5M188 55v4M188 62v3M188 103v2M188 117v1M188 141v1M189 0v4M189 18v7M189 37v2M189 48v3M189 62v2M189 143v6M190 0v6M190 31v1M190 44v2M190 49v3M190 56v12M190 70v1M190 131v2M190 142v1M191 9v2M191 14v15M191 53v7M191 110v1M191 144v5M192 8v2M192 37v3M192 54v2M192 63v2M193 54v6M194 38v6M194 57v2M194 80v3M194 140v1M195 7v3M195 21v3M195 46v14M195 67v1M195 144v5M196 3v11M196 23v11M196 48v3M196 71v1M196 123v1M197 11v3M197 19v5M197 38v2M197 51v1M197 57v3M197 108v1M197 114v1M197 121v2M197 144v5M198 23v8M198 35v7M198 117v1M198 143v1M199 45v4M199 66v1M199 100v1M199 144v5M200 10v2M200 19v1M200 28v2M200 37v3M200 61v4M200 111v1M200 144v5M201 19v3M201 25v4M201 39v2M201 54v6M201 77v2M201 93v3M201 108v1M201 143v6M202 37v2M202 61v2M202 122v2M203 0v10M203 28v1M203 53v2M203 83v1M204 56v4M204 63v1M204 95v1M204 119v1M204 143v6M205 11v2M205 17v2M205 45v7M205 63v3M205 136v2M206 11v3M206 18v5M206 34v2M206 55v4M206 64v1M206 138v1M206 142v1M207 16v3M207 48v3M207 55v3M207 81v1M207 89v1M207 99v1M207 142v1M208 15v2M208 38v1M208 51v2M208 144v5M209 12v3M209 33v2M209 40v10M209 52v2M209 60v2M209 63v1M209 81v1M209 85v1M209 143v6M210 14v3M210 35v7M210 61v1M210 84v1M210 117v1M210 145v4M211 4v2M211 22v8M211 46v2M212 0v4M212 19v9M212 34v6M212 42v3M212 93v1M212 142v1M213 15v2M213 21v10M213 36v2M213 47v3M213 85v1M213 133v1M213 135v1M214 1v3M214 20v1M214 33v2M214 51v3M214 142v1M215 2v30M215 63v1M215 71v1M216 0v4M216 32v8M216 43v7M216 117v1M216 126v1M216 143v1M217 3v6M217 14v3M217 26v11M217 43v2M217 56v2M217 131v1M218 2v12M218 16v6M218 26v3M218 32v3M218 47v2M218 50v5M218 61v1M218 73v1M218 80v1M218 83v1M218 104v2M218 118v1M218 137v1M218 143v6M219 13v2M219 18v9M219 41v1M219 69v1M219 143v1M220 2v13M220 20v2M220 43v1M220 58v1M220 71v2M220 141v3M221 20v2M221 51v1M221 59v2M222 27v5M222 35v4M222 44v2M222 53v2M222 107v2M222 117v1M223 0v2M223 3v5M223 16v2M223 32v2M223 127v1M223 129v2M223 143v6M224 10v3M224 18v6M224 34v2M224 100v1M225 7v3M225 19v3M225 40v1M225 108v3M225 125v1M226 3v6M226 10v8M226 27v2M227 11v4M227 24v6M227 43v1M227 54v1M227 100v1M227 105v1M227 132v1M227 136v1M227 139v2M228 0v1M228 5v12M228 35v2M228 87v1M228 143v6M229 13v1M229 40v3M229 110v1M229 131v2M229 143v6M230 4v2M230 18v2M230 35v4M230 45v3M230 51v2M230 142v1M231 10v3M231 27v2M231 42v1M231 46v1M231 143v6M232 8v2M232 18v3M232 29v1M232 93v2M232 143v1M233 9v3M233 26v8M233 55v2M233 95v1M234 5v3M234 50v2M234 143v1M235 0v2M235 17v1M235 29v6M235 41v4M235 50v2M235 142v1M236 0v4M236 23v1M236 63v1M236 126v2M237 8v2M237 23v3M237 29v9M237 72v1M237 105v2M237 143v1M238 15v9M238 79v1M239 7v4M239 58v2M239 73v1M239 88v1M239 90v1M239 118v1M239 120v1M239 142v1M240 17v13M240 40v1M240 132v1M241 27v1M241 68v1M241 72v1M241 93v1M241 98v1M241 129v1M241 135v1M241 144v5M242 0v6M242 24v4M242 37v1M242 41v3M242 49v1M242 124v1M242 141v1M243 18v2M243 58v1M243 82v2M243 117v1M244 11v3M244 18v10M244 49v1M244 65v1M244 80v1M245 3v1M245 27v7M245 44v1M245 130v1M245 139v1M246 3v2M246 8v5M246 25v2M246 32v7M246 86v2M246 104v1M246 111v1M246 144v5M247 11v4M247 43v1M247 129v1M247 142v1M248 40v1M248 146v3M249 32v1M249 45v2M249 57v3M249 62v1M249 108v3M250 17v4M250 29v5M250 45v1M250 120v2M250 143v6M251 5v7M251 17v4M251 143v2M252 15v13M252 49v1M252 58v1M252 76v3M252 123v4M252 145v4M253 10v2M253 25v2M253 44v1M253 117v7M254 6v4M254 22v4M254 88v1M254 144v5M255 0v2M255 12v3M255 20v3M255 50v1M255 62v1M255 98v2M255 110v1M255 143v1M256 9v2M256 31v1M256 91v1M256 112v7M256 133v4M256 144v5M257 2v11M257 21v6M257 84v1M257 94v3M257 143v1M258 2v4M258 144v5M259 32v2M259 133v6M259 143v1M260 3v3M260 14v9M260 41v1M260 53v2M260 58v1M260 103v4M260 144v2M261 5v5M261 13v6M261 33v2M261 41v1M261 97v5M262 0v6M262 144v5M263 4v20M263 28v8M263 38v5M263 56v1M263 93v1M263 139v1M263 146v3M264 49v1M264 143v6M265 98v1M265 143v3M266 4v3M266 14v2M266 34v2M266 41v1M266 75v1M266 98v5M266 110v2M266 127v8M266 142v1M267 0v6M267 31v7M267 91v1M267 100v3M267 143v1M268 8v2M268 41v1M268 91v1M268 106v2M268 144v5M269 2v5M269 19v1M269 49v1M269 54v1M269 58v2M269 143v1M270 25v2M270 38v1M270 109v1M270 123v6M270 131v3M271 8v3M271 26v1M271 95v4M271 104v9M271 124v1M271 132v2M272 0v3M272 25v2M272 35v2M272 42v3M272 53v2M273 7v1M273 20v3M273 93v4M273 111v5M273 118v2M273 131v4M273 143v2M274 8v3M274 20v2M274 28v2M274 37v1M274 116v7M275 4v2M275 79v1M275 111v2M275 144v1M276 8v2M276 17v3M276 25v3M276 45v1M276 52v4M276 62v1M276 65v1M276 144v2M277 5v2M277 14v6M277 50v4M277 63v1M277 138v1M277 141v4M278 119v1M279 4v5M279 30v2M279 142v1M280 16v3M281 20v3M281 29v5M281 52v1M281 105v10M281 145v4M282 6v6M282 25v3M282 35v1M282 48v2M282 53v3M282 89v1M282 130v6M282 143v1M283 22v2M283 37v2M283 42v2M283 51v3M283 95v8M283 127v1M283 131v2M284 4v7M284 46v6M284 62v1M284 68v2M284 101v3M284 122v3M284 135v3M285 33v1M285 47v3M285 56v2M285 83v1M285 91v1M285 144v5M286 36v1M286 73v1M286 78v1M286 112v5M286 126v5M287 12v2M287 18v8M287 39v1M287 79v1M287 81v1M287 124v5M288 20v3M288 31v1M288 88v1M288 104v2M289 10v3M289 31v1M289 45v1M289 73v1M290 14v6M290 32v1M290 144v5M291 8v3M291 18v8M291 47v1M291 52v2M291 121v4M291 145v4M292 8v2M292 36v1M292 54v2M292 89v1M292 98v3M292 111v5M293 12v2M293 37v1M293 52v1M293 66v2M293 71v1M293 144v5M294 0v11M294 14v5M294 23v4M294 45v1M294 67v1M294 69v1M294 81v1M294 93v1M294 95v1M295 0v1M296 12v6M296 25v3M296 34v1M296 41v1M296 65v1M296 71v1M296 111v1M296 132v4M296 144v2M297 16v2M297 21v5M297 29v3M297 33v3M297 54v3M297 126v8M297 144v5M298 0v12M298 18v3M298 24v3M298 37v1M298 40v2M298 59v1M298 118v1M298 126v4M298 143v6M299 8v3M299 15v3M299 32v1M299 62v1M300 20v4M300 33v1M300 59v2M300 68v2M300 121v1M300 142v1M301 17v3M301 27v1M301 90v1M301 144v2M302 7v9M302 22v1M302 113v1M302 120v1M303 7v2M303 142v1M304 3v5M304 16v3M305 0v3M305 46v1M305 68v1M305 73v1M305 77v1M306 0v4M306 8v10M306 42v4M306 49v3M306 60v1M306 67v1M306 90v2M306 95v1M307 18v2M307 38v1M307 77v1M307 84v1M307 102v2M307 117v1M307 124v1M307 143v1M308 12v2M308 17v4M308 27v1M308 37v1M308 77v1M308 108v1M308 117v2M308 143v1M309 17v3M309 33v9M309 143v1M309 147v2M310 22v2M311 18v8M311 39v1M311 144v5M312 10v3M312 16v9M312 44v11M312 67v2M312 74v1M312 84v1M312 93v1M312 143v1M313 5v3M313 20v4M313 96v1M313 127v1M313 130v1M313 143v6M314 5v6M314 31v1M314 144v1M315 12v8M315 37v2M315 42v3M315 55v1M315 60v3M315 96v1M315 141v1M316 13v12M316 56v2M316 83v1M316 131v1M316 133v1M316 144v5M317 8v2M317 19v2M317 44v2M317 49v4M317 76v1M317 100v1M317 103v3M317 144v5M318 3v6M318 30v4M318 66v1M318 135v1M318 143v1M319 5v4M319 14v3M319 23v4M319 41v1M319 55v2M319 59v1M319 63v1M319 82v2M319 143v1M320 9v10M320 24v2M320 37v3M320 54v1M320 60v1M320 143v3M321 6v6M321 27v1M321 49v2M321 126v1M321 142v1M322 28v1M322 45v8M322 76v1M322 83v1M322 125v2M322 141v1M323 5v1M323 29v2M323 44v2M323 67v1M323 99v1M323 130v2M323 142v1M324 10v2M324 20v3M324 26v4M324 42v4M324 51v2M324 143v6M325 28v2M325 40v1M325 66v2M325 72v1M325 74v1M325 128v2M325 137v1M326 13v2M326 35v4M326 143v1M327 7v2M327 29v3M327 142v1M328 9v5M328 20v2M328 26v7M328 45v9M328 62v1M328 69v4M329 10v3M329 19v1M329 25v2M329 55v1M329 137v1M329 143v1M330 0v1M330 3v8M330 33v2M330 37v4M330 46v1M330 58v1M330 105v1M330 142v1M331 11v9M331 33v2M331 38v3M332 11v6M332 70v2M332 79v1M332 82v1M332 134v1M333 8v2M333 28v2M333 41v1M333 45v1M333 74v1M333 142v1M334 27v2M334 31v4M334 38v2M334 83v1M334 85v1M334 97v1M334 102v1M334 109v1M334 144v5M335 1v7M335 18v3M335 38v3M335 43v6M335 65v6M335 144v1M336 29v3M336 43v4M336 144v5M337 6v3M337 25v2M337 42v2M337 54v1M337 60v2M337 65v1M337 143v1M338 10v2M338 20v1M338 61v4M338 119v1M338 143v1M339 10v2M339 29v2M339 47v2M339 109v1M339 119v1M339 144v5M340 19v3M340 37v3M340 48v3M340 55v3M340 144v3M341 9v7M341 19v5M341 34v7M341 98v1M341 131v2M341 135v1M341 143v1M342 8v6M342 16v3M342 20v3M342 43v2M342 52v1M342 56v2M342 143v1M343 8v2M343 48v1M343 143v1M344 18v5M344 25v11M344 52v4M344 142v1M345 15v6M345 37v3M345 41v1M345 47v1M345 65v1M345 73v4M345 142v1M346 9v2M346 40v1M346 50v2M346 56v4M346 85v1M347 0v5M347 17v14M347 45v1M347 54v3M347 72v1M347 99v1M347 101v1M347 133v1M348 10v6M348 25v1M348 29v4M348 36v2M349 0v2M349 37v2M349 45v4M349 87v1M349 91v1M349 96v1M351 6v11M351 22v2M351 50v1M351 58v1M351 125v2M351 143v1M352 4v3M352 22v5M352 80v1M352 102v1M352 148v1M353 10v3M353 18v4M353 29v1M353 36v4M353 45v3M353 128v1M353 147v2M354 12v7M354 28v5M354 120v1M354 143v2M354 146v3M355 8v3M355 16v2M355 41v2M355 57v8M355 78v1M355 83v2M355 88v1M355 90v1M355 144v5M356 0v8M356 11v3M356 38v6M356 70v2M356 77v3M356 138v1M357 70v1M357 77v1M357 142v1M358 5v2M358 20v2M358 70v1M358 142v1M359 30v1M359 110v1M359 112v1M359 143v2M360 0v1M360 16v2M360 31v2M360 36v2M360 46v1M360 53v4M360 135v1M360 142v1M361 6v7M361 25v3M361 34v1M361 66v1M361 80v1M361 141v1M362 11v7M362 23v2M362 27v3M362 61v5M362 68v1M362 136v1M362 141v1M363 4v5M363 12v12M363 31v1M363 43v3M364 14v3M364 24v2M364 33v1M364 81v1M364 139v1M364 141v8M365 4v4M365 44v2M365 57v3M365 61v1M365 143v1M366 18v1M366 46v2M366 70v1M366 78v1M366 85v1M367 5v1M367 13v2M367 59v1M367 64v1M367 143v6M368 18v3M368 142v1M368 146v3M369 11v10M369 24v2M369 33v2M369 38v2M369 56v2M369 104v1M370 38v1M370 57v1M370 84v3M370 91v1M370 118v1M370 130v1M370 143v1M371 36v2M372 2v3M372 14v3M372 25v2M372 71v1M372 117v1M372 119v1M372 144v4M373 10v3M373 18v2M373 49v5M374 13v1M374 37v1M374 52v1M374 88v1M374 91v1M374 142v1M375 25v4M375 36v6M375 51v1M375 83v1M375 120v1M376 6v5M376 14v7M376 26v2M376 64v1M377 8v2M377 14v3M377 20v4M377 48v4M378 5v7M378 27v2M378 63v1M378 70v1M378 142v1M379 10v3M379 31v3M379 48v1M379 84v1M379 132v1M379 142v1M380 4v2M380 15v5M380 36v1M380 59v1M380 73v1M380 75v1M381 25v3M381 79v1M382 3v4M382 10v2M382 44v1M382 49v2M383 11v2M383 34v1M383 50v2M383 57v1M383 142v1M384 13v3M385 7v3M385 24v1M385 55v1M385 105v1M385 134v1M386 5v2M386 21v2M386 38v3M386 69v4M386 145v4M387 21v5M387 27v7M387 36v2M387 143v1M389 7v4M389 31v2M389 35v3M389 40v4M389 142v1M390 18v11M390 143v1M391 17v2M391 28v6M391 37v2M391 43v2M391 60v1M391 74v1M391 93v1M391 144v3M392 6v10M392 27v7M392 40v3M392 47v4M392 60v4M392 88v1M392 98v1M392 102v1M392 142v1M393 0v2M393 17v2M393 49v3M393 56v2M393 60v2M393 72v1M394 7v1M394 29v1M394 39v1M394 60v2M394 67v1M394 115v2M395 20v5M395 33v1M395 41v1M395 64v2M395 131v1M395 144v5M396 16v2M396 24v4M396 53v1M396 59v2M396 137v1M396 143v1M397 0v2M397 26v1M397 54v1M397 123v1M397 141v1M398 0v7M398 25v3M398 143v2M399 12v2M399 42v1M399 49v1M399 87v1"/>
<path stroke="#44276f" d="M0 69v7M0 98v1M0 102v1M0 138v1M1 75v3M1 94v1M1 120v2M1 139v1M1 146v3M2 32v7M2 74v2M2 105v3M2 112v1M3 72v2M4 3v22M4 71v3M4 131v1M4 134v3M5 0v2M5 61v17M5 137v1M6 30v7M6 39v13M6 72v2M6 90v1M6 112v1M6 130v6M7 80v1M7 98v2M7 101v8M7 134v2M8 68v3M8 85v1M8 92v1M8 104v1M8 123v1M8 127v1M8 138v1M9 0v4M9 33v1M9 72v4M9 85v1M9 88v1M9 92v6M9 104v1M9 134v2M9 138v1M10 0v6M10 14v14M10 57v16M10 86v1M10 115v1M10 121v2M11 0v4M11 64v7M11 84v1M11 110v1M11 117v1M11 133v1M12 68v5M12 75v2M12 104v4M12 110v1M12 114v2M12 120v1M12 124v2M12 137v1M13 92v3M13 110v1M13 114v1M13 120v1M14 0v5M14 97v1M14 102v2M14 138v1M15 80v1M15 115v2M15 123v1M16 18v12M16 65v5M16 131v1M16 134v1M16 138v1M17 74v1M17 81v2M17 92v2M17 138v1M18 66v8M18 76v2M18 99v1M18 118v4M18 138v1M19 4v24M19 40v11M19 83v2M19 107v6M19 115v2M19 137v1M20 25v10M20 47v7M20 71v4M20 89v1M20 100v3M20 138v1M21 9v3M21 102v1M21 118v3M21 129v1M22 0v12M22 33v11M22 65v6M22 73v4M22 107v1M22 112v4M22 138v1M23 78v2M23 135v1M23 138v1M24 14v4M24 69v13M24 138v1M25 82v3M25 107v2M25 127v2M25 130v1M25 139v1M26 30v5M26 78v2M26 88v1M26 95v1M27 0v12M27 70v2M27 89v1M27 114v1M28 59v1M28 92v2M28 106v1M28 129v1M28 137v1M29 0v5M29 25v15M29 82v1M29 109v2M29 126v1M29 135v3M30 92v2M30 105v1M30 108v4M30 137v1M31 0v11M31 53v3M31 67v9M31 86v4M31 108v1M31 111v1M31 137v1M32 49v3M32 69v2M32 82v2M32 95v4M32 124v1M32 131v7M33 0v17M33 27v4M33 76v3M33 90v3M33 98v1M33 107v1M33 109v1M33 119v1M33 135v1M33 137v1M34 78v2M34 83v2M34 92v1M34 100v1M34 126v2M35 69v14M35 88v1M35 95v1M35 124v1M35 132v4M35 138v1M36 75v2M36 132v1M36 136v1M37 0v6M37 86v4M37 103v9M37 126v4M37 134v3M38 80v1M38 86v3M38 115v1M38 117v1M38 121v1M38 132v1M38 137v1M39 39v17M39 76v2M39 123v1M39 128v1M39 131v1M40 70v7M40 92v1M40 112v1M40 138v1M41 76v2M41 88v1M41 111v2M41 133v1M41 135v1M42 79v4M42 91v1M42 106v1M42 109v1M42 119v1M42 122v1M42 126v5M42 137v1M43 80v4M43 124v3M44 1v22M44 69v2M44 85v1M44 93v3M44 127v3M44 137v2M45 107v1M46 0v8M46 65v16M46 90v1M46 101v1M46 104v1M46 108v5M46 114v2M46 119v1M46 125v1M47 20v7M47 77v2M47 80v3M47 85v2M47 140v2M48 101v1M48 124v3M49 70v6M49 103v3M49 126v1M49 144v1M50 67v4M50 108v7M50 144v1M51 0v2M51 76v2M51 135v1M52 0v5M52 85v1M52 110v1M52 132v1M53 62v7M53 81v5M53 89v1M53 103v2M53 143v1M54 24v5M54 89v1M55 66v13M55 97v1M55 104v2M55 123v2M56 41v5M56 74v2M56 101v1M56 103v2M56 109v1M56 113v2M56 143v1M57 0v12M57 67v4M57 84v3M57 112v1M58 56v5M58 80v1M58 90v1M58 97v1M58 114v1M58 117v1M58 142v1M59 3v11M59 76v1M59 79v3M59 122v1M59 139v1M60 19v15M60 44v7M60 70v7M60 84v1M60 92v1M60 119v1M60 125v1M61 59v11M61 78v3M61 114v2M61 122v2M61 142v1M62 81v2M63 12v10M63 72v2M63 98v3M63 103v1M63 142v1M64 71v8M64 89v1M64 107v2M64 114v1M64 128v2M65 91v1M65 96v1M65 114v2M66 21v7M66 63v3M66 82v2M66 87v2M66 112v2M66 142v1M67 0v8M67 78v2M67 93v1M67 101v2M67 104v3M67 143v1M68 68v4M68 117v2M69 0v12M69 64v5M69 78v1M69 89v7M69 103v1M69 106v1M69 111v1M69 119v3M70 70v6M70 78v3M70 94v1M70 108v1M71 0v7M71 15v13M71 33v5M71 70v3M71 96v1M71 113v1M71 118v1M71 123v2M71 126v1M71 140v1M72 50v22M72 102v1M72 108v1M72 123v1M73 75v7M73 99v1M73 102v1M73 144v2M74 66v13M74 91v2M74 101v1M74 107v4M75 0v4M75 85v1M75 93v3M75 97v1M75 143v1M75 147v2M76 68v4M76 80v7M77 82v1M77 84v1M77 93v2M77 119v2M78 87v3M78 100v7M78 143v1M79 87v1M79 107v1M79 118v2M80 22v2M80 25v5M80 70v13M80 143v1M81 67v3M81 77v2M81 81v3M81 133v1M81 141v1M82 55v13M82 86v1M82 111v2M82 141v1M83 52v9M83 72v5M83 91v1M83 117v3M84 5v18M84 26v21M84 87v2M84 93v4M84 142v1M85 8v8M85 19v2M85 65v13M85 142v1M86 7v5M86 84v1M86 108v2M86 111v1M87 0v13M87 74v9M87 108v3M88 23v8M88 78v4M88 85v2M88 89v6M89 29v7M89 75v1M89 80v4M89 91v2M90 46v9M90 63v8M91 104v1M92 72v5M92 87v1M92 93v1M92 97v1M92 100v3M92 111v1M92 142v1M93 12v9M93 71v2M93 88v1M93 96v1M93 104v1M93 109v1M94 83v1M94 90v3M94 99v4M95 71v1M96 58v8M96 76v1M96 96v2M96 101v5M97 37v4M97 42v11M97 90v1M97 101v1M97 106v3M98 0v5M98 54v8M98 84v1M98 89v10M98 103v3M98 142v1M99 28v16M99 54v6M99 73v4M99 91v1M99 94v4M99 104v3M99 114v1M99 135v1M99 142v1M100 70v8M100 88v1M100 121v1M100 141v1M101 14v7M101 60v11M101 78v3M101 92v1M101 95v5M101 104v2M101 141v1M102 29v15M102 64v4M102 79v1M102 131v1M103 38v9M103 86v2M103 97v1M104 0v4M104 6v6M104 29v3M104 79v3M104 84v1M104 94v3M104 102v2M104 141v1M105 74v4M105 106v2M105 109v1M105 142v1M106 29v3M106 37v18M106 96v1M106 143v1M107 40v8M107 52v3M107 76v3M107 90v10M108 77v2M108 101v1M109 80v6M109 121v1M109 129v1M109 140v2M110 39v2M110 48v13M110 77v9M110 100v1M110 103v2M110 108v1M111 58v5M111 65v11M111 85v2M111 95v4M111 142v1M112 74v11M112 88v1M112 100v1M112 131v1M112 143v1M113 0v25M113 67v9M113 92v3M113 123v2M113 143v1M114 70v4M114 89v2M114 140v2M115 80v1M115 91v1M115 101v1M116 14v7M116 65v2M116 87v1M116 119v1M117 69v8M117 84v2M117 96v2M117 143v1M118 0v5M118 67v12M118 93v1M118 96v2M118 141v1M119 56v8M119 75v2M119 98v2M119 105v1M119 117v1M119 119v4M119 141v1M120 0v16M120 81v1M120 96v1M120 102v1M121 64v20M121 94v3M121 142v1M122 96v1M123 22v2M123 87v1M123 92v3M123 143v1M124 30v12M124 65v13M124 87v1M124 120v1M125 29v8M125 68v6M125 88v2M125 123v1M125 142v1M126 120v1M127 23v6M127 56v3M127 82v1M127 116v1M127 141v1M128 13v39M128 87v1M129 71v3M129 81v2M129 139v3M130 0v7M130 83v2M130 122v2M131 64v10M132 68v14M132 84v3M132 141v1M133 82v1M133 93v1M133 105v2M133 110v1M133 134v1M134 53v23M134 77v2M134 142v1M135 36v7M135 58v29M135 139v1M136 16v13M136 76v3M136 135v1M137 67v11M137 83v2M137 114v1M137 127v1M138 62v10M138 80v3M138 91v1M138 142v1M139 20v9M139 51v10M139 87v4M139 122v1M139 126v1M139 141v1M140 47v2M140 82v5M141 85v1M141 128v2M141 142v1M142 75v2M143 84v2M143 106v2M143 111v1M143 122v1M144 73v3M144 142v1M145 14v11M145 41v15M145 73v13M145 126v1M145 129v1M145 132v1M146 16v6M146 83v2M146 105v1M146 114v2M146 133v1M147 63v17M147 88v1M147 109v1M147 132v1M147 139v2M148 0v12M148 84v2M148 104v1M148 115v1M148 119v1M148 138v1M148 141v1M149 84v1M149 106v1M150 36v9M150 86v1M150 141v1M151 2v6M151 39v13M151 75v2M152 77v2M152 109v1M152 142v1M153 84v1M153 113v1M153 115v1M154 95v1M154 105v2M154 141v1M155 24v3M155 33v1M155 72v3M155 112v1M155 114v1M155 124v1M155 140v2M156 0v5M156 70v3M156 110v1M156 130v1M157 32v6M157 142v1M158 63v13M158 78v2M159 14v7M159 80v1M159 83v1M159 122v1M160 76v2M160 117v1M160 120v3M160 126v1M160 130v1M160 132v1M160 135v1M162 79v1M162 106v6M163 35v11M163 74v5M163 142v1M164 100v2M164 122v1M164 126v1M164 131v1M164 140v1M165 40v2M165 80v1M166 75v2M166 103v2M167 0v7M167 112v1M167 116v4M167 142v1M168 0v6M168 95v2M168 123v1M168 126v1M169 68v4M169 133v1M169 142v1M170 76v2M170 106v3M170 114v1M170 119v2M171 101v3M172 34v14M172 78v1M172 101v1M172 111v1M172 142v1M173 14v2M173 25v4M173 71v3M173 92v1M174 43v7M174 76v1M174 127v1M175 77v1M175 139v2M176 2v15M176 26v9M176 75v1M176 104v1M176 143v6M177 65v7M177 100v2M177 114v1M177 118v2M177 125v2M177 133v1M178 0v9M178 24v17M178 76v1M178 129v1M178 142v1M179 118v3M180 29v1M180 34v3M180 100v3M180 112v2M180 130v1M180 140v1M181 119v1M182 39v16M182 141v1M183 98v1M183 105v1M183 123v3M183 129v1M184 71v1M184 92v1M184 96v1M184 102v1M184 105v1M184 113v1M185 0v3M185 140v1M186 32v10M186 70v1M186 121v1M186 123v3M187 29v9M187 71v1M187 73v1M187 126v1M188 12v6M188 68v2M188 102v1M188 119v1M188 138v3M189 28v6M189 67v2M190 12v17M190 71v1M190 112v1M190 120v3M190 130v1M190 133v1M191 63v5M191 119v2M191 142v1M192 68v1M192 143v1M193 26v5M193 39v5M193 65v2M194 6v6M194 17v4M194 23v10M194 65v2M194 83v1M194 109v1M194 112v1M195 109v1M195 113v2M195 127v1M197 63v3M197 98v2M197 120v1M197 123v1M198 45v11M198 64v3M198 81v1M198 115v2M198 142v1M199 67v1M199 93v1M199 142v1M200 0v7M200 110v1M200 141v1M201 8v4M201 63v2M201 142v1M202 0v18M202 21v13M202 64v1M202 93v1M202 125v1M203 19v3M203 37v12M203 65v1M203 82v1M203 84v1M203 138v1M204 18v2M204 64v1M204 99v1M204 123v1M205 66v1M205 120v2M205 134v1M205 138v1M206 87v1M206 90v1M206 115v2M206 139v2M207 23v6M207 39v6M207 61v1M207 100v1M207 125v1M207 131v1M207 141v1M208 0v13M208 41v7M208 96v1M208 102v1M208 115v2M208 142v1M209 0v4M209 65v1M209 141v1M210 21v11M210 62v1M210 86v1M210 88v2M210 118v1M210 142v1M211 10v10M211 53v3M211 61v1M211 133v1M211 142v1M211 148v1M212 54v5M212 92v1M213 60v2M213 88v1M213 128v1M213 130v1M213 132v1M213 136v1M214 27v3M214 117v1M214 122v2M214 130v1M214 137v1M214 139v1M214 141v1M215 49v2M215 64v1M215 143v1M215 147v2M216 7v4M216 18v5M216 58v1M216 81v1M216 99v2M216 124v1M216 141v1M217 58v1M217 87v1M217 109v2M217 123v1M217 142v1M218 68v1M218 103v1M218 107v1M218 110v6M218 136v1M218 139v1M218 141v1M219 77v9M220 26v9M220 59v1M220 70v1M220 74v2M220 117v1M221 31v18M221 120v1M221 122v2M222 73v2M222 80v1M222 93v1M222 96v1M222 102v1M222 131v1M223 38v6M223 46v9M223 73v2M223 81v1M223 84v1M223 93v3M223 136v1M224 0v6M224 40v2M224 52v3M224 99v1M224 101v1M225 42v4M225 55v1M225 58v1M225 111v1M225 126v1M225 140v1M226 39v15M226 141v1M227 34v6M227 55v1M227 99v1M227 119v1M227 129v1M227 131v1M227 137v2M228 45v4M228 52v2M228 89v3M229 0v10M229 49v4M229 77v2M229 81v2M229 108v1M229 111v3M229 133v1M230 75v3M230 118v1M231 21v3M231 79v1M231 83v1M232 46v6M232 122v1M233 43v1M233 46v6M233 53v1M233 83v2M233 89v2M233 93v1M233 136v2M234 28v16M234 52v1M234 142v1M235 99v1M235 106v1M235 109v2M235 131v1M235 141v1M236 38v5M236 62v1M236 128v1M237 44v5M237 70v1M237 76v2M237 103v1M237 113v1M238 0v12M238 26v5M238 45v2M238 64v2M238 80v1M239 42v7M239 71v1M239 105v1M239 114v1M240 0v15M240 50v1M240 75v2M240 80v1M240 133v1M241 30v6M241 44v5M241 62v1M241 65v2M241 73v1M241 79v1M241 81v1M241 128v1M241 137v1M242 10v7M242 50v1M242 78v1M242 82v1M243 28v7M243 42v5M243 59v3M243 65v1M243 80v1M243 85v1M243 118v1M243 130v1M243 132v1M244 63v1M244 84v2M244 117v1M245 46v2M246 44v2M246 59v1M246 83v2M246 88v1M246 141v1M247 0v4M247 25v13M247 46v1M247 80v2M247 84v1M247 95v1M247 141v1M248 43v2M248 143v1M249 82v1M249 139v1M250 46v1M250 93v2M250 122v1M251 0v2M251 35v7M251 61v4M251 142v1M252 122v1M252 127v1M252 142v1M253 116v1M254 33v11M254 57v5M254 85v2M254 89v1M255 27v7M255 40v2M255 63v4M255 100v1M256 0v7M256 35v4M256 71v2M257 30v7M257 55v1M258 18v14M258 34v6M258 63v1M258 66v2M259 40v1M259 53v5M259 70v1M259 72v1M259 142v1M260 30v2M260 52v1M262 21v21M263 58v1M263 84v1M264 2v15M264 37v4M264 89v1M264 91v1M265 3v33M265 99v1M266 21v4M266 29v2M266 50v1M266 52v1M266 67v2M266 125v1M266 135v1M267 46v1M267 50v2M267 93v1M268 86v1M268 105v1M268 108v1M269 23v17M269 94v2M270 5v6M270 13v5M270 50v2M270 111v1M270 122v1M270 129v1M271 29v5M271 42v1M271 54v2M271 61v1M271 86v1M271 139v1M272 7v16M272 38v1M272 41v1M272 48v1M272 58v3M272 63v1M272 69v1M272 104v1M272 138v1M273 29v9M273 130v1M273 142v1M274 52v2M275 30v5M275 74v4M275 142v1M276 31v6M276 44v1M276 46v1M276 49v2M276 67v1M276 95v1M277 31v4M277 48v1M277 66v1M278 12v16M278 29v4M278 118v1M278 120v1M278 129v2M278 144v1M279 12v16M279 38v1M279 40v1M279 43v1M279 53v1M279 56v2M279 96v1M280 22v10M280 47v7M280 67v2M280 73v2M280 96v1M281 54v1M281 143v1M282 32v1M282 34v1M282 45v1M282 57v2M282 80v2M282 93v1M282 121v1M282 129v1M283 31v2M283 56v2M283 125v1M283 128v1M283 130v1M283 133v1M283 143v1M283 146v3M284 21v8M284 43v1M284 57v3M284 71v1M284 100v1M284 125v1M285 34v1M285 43v2M285 59v1M285 74v1M285 77v1M285 85v1M285 92v1M285 126v1M286 41v1M286 43v2M286 50v8M287 28v2M287 40v3M287 48v4M287 53v10M287 78v1M287 129v1M287 141v1M288 0v14M288 46v8M288 61v1M288 65v1M288 68v1M288 71v1M288 76v1M288 78v1M288 82v1M288 89v1M288 112v2M288 143v1M289 0v6M289 32v2M289 36v2M289 47v2M289 55v4M289 74v1M289 104v1M289 143v6M290 0v7M291 28v1M291 44v2M291 56v2M292 30v1M292 57v2M292 110v1M292 143v1M293 20v3M293 54v2M293 63v2M293 73v2M294 48v8M294 65v1M294 71v1M294 92v1M294 126v1M295 8v18M295 46v4M295 58v2M295 79v1M295 140v1M296 32v2M296 43v5M296 62v1M296 74v1M297 27v1M297 38v4M297 48v3M297 59v1M297 125v1M297 136v1M298 34v1M298 61v1M298 72v4M298 119v1M298 130v1M298 134v1M299 24v1M299 64v2M299 101v2M299 122v1M299 142v1M300 31v1M300 39v3M300 54v2M300 72v1M300 117v3M300 122v1M300 133v1M300 139v1M300 141v1M301 0v13M301 29v1M301 84v1M301 93v1M301 142v1M302 35v4M302 54v4M302 61v1M302 68v4M302 73v1M302 85v1M302 109v1M302 142v1M303 11v9M303 31v1M303 37v3M303 44v6M303 56v6M303 141v1M304 21v2M304 32v5M304 42v2M304 64v1M304 66v1M304 83v1M305 8v6M305 34v9M305 49v1M305 66v1M305 74v1M305 76v1M305 82v1M305 132v1M306 70v1M306 92v1M306 101v1M307 6v10M307 41v8M307 75v1M307 78v1M307 82v1M307 101v1M307 118v2M307 140v1M307 142v1M308 40v2M308 58v4M308 79v1M308 116v1M308 120v1M308 142v1M309 10v2M309 44v2M309 135v1M310 33v11M310 52v4M310 62v2M310 79v2M310 143v1M311 0v1M311 4v4M311 41v2M311 75v1M312 33v2M312 86v1M312 142v1M313 34v11M313 49v5M313 63v3M313 91v1M313 125v1M313 134v1M314 35v16M314 57v8M314 70v3M314 142v1M315 65v1M315 100v1M316 34v6M316 53v1M316 61v2M316 110v3M316 135v4M316 140v3M317 24v18M317 90v1M317 99v1M317 113v2M318 15v13M318 36v5M318 46v3M318 57v1M318 63v2M318 81v1M318 134v1M318 136v1M319 44v2M319 65v1M319 80v1M319 86v5M320 0v2M320 42v11M320 62v1M320 141v1M321 17v8M321 55v5M321 75v4M321 90v4M321 98v1M321 121v1M322 30v12M322 64v1M322 70v5M322 84v1M322 139v1M323 9v17M323 49v2M323 62v4M323 77v1M323 80v1M323 94v2M323 121v1M323 141v1M324 33v1M324 54v2M324 142v1M325 0v11M325 43v4M325 51v9M325 61v3M325 70v1M325 76v1M325 81v1M325 127v1M325 130v1M326 2v6M326 48v3M326 78v1M327 0v5M327 35v9M327 141v1M328 65v3M328 76v1M328 141v1M329 0v6M329 57v4M329 142v1M330 60v5M330 111v2M330 141v1M331 43v8M331 67v1M331 88v1M331 131v1M331 134v1M332 20v17M332 50v2M332 56v2M332 68v1M332 73v2M332 77v1M332 85v1M332 105v1M332 129v1M332 141v1M333 47v3M333 56v1M333 62v1M333 69v1M333 75v1M333 130v1M334 0v8M334 43v5M334 50v8M334 74v3M334 87v1M334 141v1M335 55v9M335 71v1M335 131v1M335 133v1M336 52v3M336 59v1M336 142v1M337 29v11M337 67v1M337 121v2M337 142v1M338 25v2M338 37v3M338 58v1M338 66v1M339 18v8M339 51v2M339 55v2M339 63v4M339 94v2M339 115v1M339 142v1M340 31v3M340 60v1M341 46v2M341 50v5M342 0v2M342 71v1M343 0v6M343 55v2M343 65v4M343 142v1M344 0v5M344 38v3M344 49v2M344 59v8M344 70v2M345 49v3M345 63v1M345 78v1M346 31v8M346 65v2M346 77v2M346 140v1M347 48v5M347 73v1M347 114v1M348 43v7M348 143v1M349 6v29M349 52v2M349 66v3M349 93v2M349 97v1M350 0v6M350 29v5M350 71v2M350 87v1M350 94v1M351 27v12M351 46v2M351 71v2M351 78v2M351 81v1M351 127v1M351 141v1M352 35v3M352 48v7M352 78v1M352 101v1M352 143v1M353 50v6M353 131v1M353 143v1M354 0v4M354 39v4M354 49v5M354 64v4M354 103v1M354 125v2M354 130v1M354 138v1M354 142v1M355 0v6M355 25v14M355 73v4M355 141v2M356 19v17M356 46v10M356 63v2M356 73v1M356 75v1M356 80v1M356 89v1M357 14v10M357 27v9M357 38v5M357 67v2M357 78v1M357 115v1M358 0v2M358 32v3M358 61v8M358 73v1M358 76v1M358 141v1M359 32v2M359 48v5M359 142v1M360 7v1M360 12v1M360 49v1M360 60v3M360 74v1M361 36v13M361 64v1M361 110v2M361 140v1M362 0v2M362 33v3M362 41v2M362 58v1M362 70v1M362 133v1M362 137v1M363 35v6M363 47v3M363 137v1M364 37v2M364 46v2M364 51v1M364 79v1M364 99v1M365 52v4M365 63v2M365 75v3M365 97v2M366 21v8M366 37v7M366 55v6M366 63v5M366 79v2M366 143v1M367 33v7M367 56v2M367 67v1M367 95v1M367 99v1M367 132v1M367 141v1M368 34v4M368 57v4M368 63v2M368 72v1M368 75v1M368 84v2M369 0v6M369 68v1M369 91v1M369 100v1M370 26v9M370 59v1M370 83v1M370 88v2M370 112v1M370 142v1M371 42v13M371 60v6M371 73v1M371 104v1M372 28v3M372 59v3M372 72v1M372 76v3M372 116v1M372 121v1M373 0v7M373 22v9M373 38v2M373 45v2M373 55v8M373 69v7M373 124v1M373 141v1M374 16v19M374 55v9M374 67v2M374 86v1M374 141v1M375 53v2M375 68v1M375 72v1M375 105v2M375 126v1M376 66v1M376 107v1M376 134v1M377 30v12M377 44v2M377 57v2M378 31v4M378 61v1M378 72v1M378 80v1M378 141v1M379 19v10M379 55v1M379 63v2M379 127v1M379 131v1M379 139v1M380 40v3M380 55v2M380 77v1M380 83v2M380 134v1M381 35v13M381 84v1M382 53v6M382 103v1M382 109v1M382 113v1M383 37v11M383 62v7M383 72v1M383 75v3M383 79v1M383 96v1M383 112v1M384 23v12M384 64v5M384 71v1M384 114v1M384 117v1M384 121v3M384 143v1M385 32v22M385 91v2M385 102v1M386 10v5M386 45v3M386 66v1M386 76v1M386 88v1M386 92v1M386 142v1M387 51v7M387 62v2M387 69v2M388 0v4M388 18v13M388 94v1M388 131v1M389 17v8M389 46v3M389 127v1M390 33v2M390 46v6M390 56v1M391 2v12M391 49v2M391 56v2M391 76v2M391 96v1M391 106v1M392 66v2M392 73v1M392 122v1M392 124v1M392 138v1M392 141v1M393 25v11M393 74v1M393 124v3M393 133v2M393 139v1M393 141v1M394 42v17M394 68v1M394 89v1M394 94v1M394 114v1M395 0v1M395 42v2M395 57v4M395 67v1M395 132v1M395 142v1M396 34v4M396 45v2M396 62v1M396 132v1M397 29v14M397 45v8M397 69v1M397 94v1M397 124v1M398 16v5M398 32v11M398 44v3M398 64v2M398 70v2M398 98v2M398 142v1M399 23v7M399 35v5M399 53v2M399 57v5M399 89v1M399 142v1"/>
<path stroke="#472979" d="M0 76v6M0 97v1M0 103v1M0 137v1M1 78v4M1 92v2M1 95v1M1 103v1M1 110v3M1 119v1M1 122v1M1 138v1M2 76v3M2 103v2M2 113v1M2 138v1M3 74v3M3 80v4M3 125v3M3 138v1M4 74v3M4 80v1M4 94v2M4 108v1M5 78v3M5 135v2M6 74v3M6 87v3M6 91v2M6 98v1M6 113v1M6 121v5M6 128v2M7 81v2M7 87v1M7 100v1M7 109v1M7 133v1M8 71v5M8 84v1M8 103v1M8 109v1M8 122v1M8 128v3M8 137v1M9 76v9M9 89v3M9 105v1M9 109v4M9 132v2M9 136v2M10 73v3M10 85v1M10 87v1M10 103v2M10 110v1M10 116v2M10 120v1M10 123v1M10 137v1M11 85v3M11 92v1M11 109v1M11 118v4M11 132v1M12 73v2M12 111v3M12 116v1M12 119v1M12 126v11M13 111v1M13 113v1M13 121v1M13 127v1M13 133v1M14 98v4M14 104v1M14 119v2M14 137v1M15 81v9M15 99v4M15 105v2M15 124v1M15 137v1M16 70v4M16 97v3M16 130v1M16 135v1M16 137v1M17 75v6M17 94v2M17 98v3M17 130v2M18 78v3M18 122v1M19 85v2M19 91v2M19 103v4M19 117v1M19 136v1M20 75v4M20 88v1M20 105v1M21 103v1M21 106v1M21 117v1M21 121v1M21 127v2M22 71v2M22 77v2M22 84v5M22 106v1M22 125v1M23 80v4M23 100v3M23 108v1M23 136v2M24 82v7M25 109v1M25 117v1M25 131v1M25 138v1M26 80v2M26 87v1M26 135v1M27 90v1M27 107v7M28 80v1M28 89v3M28 111v1M28 135v2M29 96v2M29 101v1M29 125v1M30 94v1M30 104v1M30 122v1M30 129v1M31 90v1M31 107v1M31 134v1M31 136v1M32 71v11M32 84v2M32 87v3M32 93v2M32 106v1M32 109v3M32 123v1M33 79v2M33 89v1M33 99v1M33 110v1M33 115v4M33 136v1M34 80v3M34 101v1M34 125v1M34 136v1M35 83v1M35 87v1M35 96v1M35 123v1M35 136v2M36 77v3M36 122v1M36 133v3M37 90v2M37 112v2M37 117v5M37 124v2M38 81v5M38 89v7M38 114v1M38 118v3M38 133v4M39 78v1M39 112v2M39 119v1M39 126v2M39 129v2M40 77v4M40 91v1M40 113v1M40 116v8M41 78v3M41 87v1M41 89v2M41 96v1M41 107v1M41 110v1M41 113v1M41 116v3M41 123v1M41 134v1M42 107v2M42 120v2M42 131v2M43 84v2M43 127v1M43 137v1M44 71v5M44 83v2M44 86v2M44 92v1M44 96v1M44 121v2M44 126v1M44 130v1M44 136v1M45 94v1M45 106v1M45 114v1M45 138v1M46 91v6M46 100v1M46 105v3M46 113v1M46 116v3M46 126v4M46 132v3M46 138v1M47 79v1M47 87v1M47 139v1M48 90v1M48 100v1M48 102v2M48 123v1M48 129v1M49 76v3M49 92v1M49 99v4M49 106v3M50 71v5M50 84v2M50 104v4M50 115v1M51 78v10M51 118v2M51 136v1M51 143v1M52 86v1M52 98v2M52 105v5M52 142v1M53 69v5M53 78v3M53 90v2M53 96v2M53 102v1M53 109v1M54 90v1M54 95v3M54 107v3M54 116v1M55 79v5M55 106v1M55 122v1M55 125v4M56 76v2M56 100v1M56 105v2M56 108v1M56 115v2M57 71v6M57 80v4M57 87v2M57 90v4M58 81v2M58 86v4M58 98v1M58 111v3M58 138v2M59 77v2M59 82v4M59 98v1M59 118v1M59 121v1M59 123v2M59 126v3M60 93v1M60 108v1M60 120v2M60 124v1M60 130v1M60 142v1M61 81v2M61 103v3M61 113v1M61 116v2M61 121v1M61 124v1M62 83v2M62 129v3M62 134v1M62 140v1M63 74v2M63 96v2M63 101v2M63 108v4M63 122v2M64 90v1M64 106v1M64 115v1M64 125v3M65 92v2M65 95v1M66 84v3M66 89v2M66 111v1M66 114v1M66 140v2M67 80v2M67 92v1M67 103v1M67 107v1M68 72v8M68 81v1M68 116v1M68 119v2M68 127v1M68 132v1M69 69v9M69 104v2M69 118v1M69 122v1M70 76v2M70 81v2M70 109v5M70 121v4M70 135v1M70 143v1M71 73v4M71 114v1M71 117v1M71 125v1M72 72v5M72 83v10M72 101v1M72 109v1M72 112v2M72 118v1M72 125v1M73 82v5M73 97v2M73 103v1M73 143v1M74 102v2M74 106v1M74 141v1M75 86v1M75 92v1M75 142v1M76 72v8M76 87v1M76 126v1M76 142v1M77 83v1M77 95v4M77 102v2M77 121v1M78 90v2M78 107v6M79 88v1M80 83v3M80 87v6M81 79v2M81 84v1M81 100v3M81 110v3M81 132v1M82 87v4M82 98v3M82 105v6M82 113v2M83 77v3M83 90v1M83 121v1M83 142v1M84 109v1M85 78v3M85 82v2M85 90v4M86 85v3M86 106v2M86 112v1M87 111v1M87 141v1M88 82v3M88 95v1M89 76v4M89 84v3M89 90v1M89 100v1M90 71v9M90 141v1M92 77v2M92 85v2M92 94v3M93 73v4M93 87v1M93 97v1M93 103v1M93 110v4M93 142v1M94 84v2M94 89v1M94 93v2M94 98v1M94 103v2M94 142v1M95 72v4M95 90v6M95 106v6M95 142v1M96 77v3M96 94v2M96 106v6M96 142v1M97 100v1M97 109v1M97 141v1M98 85v4M98 112v1M99 77v5M99 89v2M99 98v2M99 103v1M99 107v1M99 134v1M100 78v7M100 87v1M100 98v1M100 105v3M100 111v2M100 125v1M100 135v1M100 140v1M101 81v3M101 91v1M101 106v1M102 80v2M102 85v7M102 130v1M102 141v2M103 88v2M103 95v2M103 98v2M103 142v1M104 82v2M104 97v5M104 104v1M104 140v1M105 78v8M105 91v9M105 104v2M105 141v1M106 97v5M107 79v11M107 100v1M107 142v1M108 79v2M108 100v1M108 124v1M108 141v1M109 86v2M109 125v1M110 86v1M110 90v5M110 99v1M110 105v1M111 87v8M111 99v5M112 85v3M112 101v1M112 121v1M112 142v1M113 76v3M113 82v5M113 90v2M113 122v1M114 91v2M114 100v1M114 102v1M114 139v1M115 81v10M115 109v1M115 142v1M116 88v2M116 122v1M116 133v1M117 98v1M117 101v3M117 142v1M118 94v2M118 119v1M118 127v3M119 77v3M119 95v3M119 123v1M120 82v2M120 90v6M120 129v1M120 133v1M121 97v3M121 127v1M122 97v1M122 142v1M123 88v4M123 95v2M123 128v1M123 142v1M124 88v1M124 114v1M124 118v2M124 124v1M124 142v1M125 117v2M125 122v1M126 90v1M126 116v1M127 83v3M127 136v2M128 88v2M128 119v1M128 142v1M129 74v7M129 95v1M129 138v1M130 85v7M130 119v3M130 124v2M130 141v1M131 74v17M131 129v3M131 141v1M132 87v3M133 83v2M133 92v1M133 104v1M134 79v3M135 87v7M135 120v1M135 129v1M136 79v7M136 134v1M137 78v5M137 128v1M138 72v8M139 121v1M139 123v3M139 127v1M140 87v3M140 116v4M140 141v1M141 86v1M141 114v1M141 125v1M141 130v1M142 77v3M142 133v1M143 86v3M143 105v1M143 108v1M143 110v1M143 112v1M143 117v1M143 141v1M144 76v5M144 117v3M145 86v3M146 85v2M146 113v1M146 116v9M146 132v1M146 134v1M146 138v1M147 112v1M147 131v1M148 86v1M148 108v1M148 113v2M148 135v1M149 85v1M149 114v2M149 141v1M150 108v1M150 110v1M150 138v1M151 77v3M151 122v1M151 141v1M152 79v2M152 121v1M152 124v1M153 106v1M153 112v1M153 139v1M154 94v1M155 75v7M155 113v1M155 115v4M156 73v4M156 109v1M156 131v1M156 141v1M157 85v1M157 114v1M157 120v1M158 80v1M158 141v1M159 81v2M159 84v1M160 82v1M160 103v1M160 107v2M160 123v3M160 131v1M160 142v1M161 132v1M162 80v1M162 103v3M162 122v1M162 141v1M163 79v1M164 80v1M164 110v1M164 121v1M164 123v1M164 139v1M165 135v2M165 140v1M166 77v2M166 102v1M166 105v1M166 142v1M167 79v1M167 120v1M167 140v2M168 79v1M168 94v1M168 97v1M168 127v1M169 72v4M169 94v1M169 102v1M169 106v3M169 137v1M170 109v1M170 113v1M170 115v1M170 141v1M171 78v1M171 100v1M171 110v3M171 142v1M172 112v1M172 141v1M173 74v2M173 137v2M173 140v1M174 90v1M174 118v1M174 128v1M174 138v1M174 141v1M175 123v1M176 76v1M176 103v1M176 105v1M176 142v1M177 72v3M177 99v1M177 102v2M177 112v2M179 103v2M179 117v1M179 141v1M180 75v1M180 99v1M180 117v1M180 121v1M180 136v1M181 75v1M181 118v1M181 120v1M182 96v1M182 112v2M182 132v2M183 99v2M183 116v1M183 122v1M183 126v3M183 135v1M184 97v2M184 101v1M184 121v4M184 135v1M185 72v1M185 98v1M185 101v1M186 71v1M186 129v1M186 142v1M187 72v1M187 95v1M187 100v1M187 125v1M187 128v1M188 70v1M188 106v1M188 108v1M188 137v1M189 69v1M189 88v1M189 114v2M189 141v1M190 119v1M190 129v1M190 134v1M190 141v1M191 68v1M191 111v1M191 141v1M192 142v1M193 67v1M193 141v1M194 84v2M194 88v1M194 113v1M195 68v1M195 115v1M195 125v1M195 142v1M196 113v1M196 121v1M197 66v1M197 128v2M197 142v1M198 82v1M198 92v4M198 114v1M199 101v1M200 66v1M200 116v1M200 130v1M201 65v1M201 107v1M201 116v1M202 65v1M202 91v1M202 106v1M202 114v1M202 121v1M202 129v1M203 135v1M203 139v1M203 141v1M204 70v1M204 118v1M204 141v1M205 119v1M205 122v1M205 141v1M206 65v1M206 84v3M206 91v1M206 114v1M206 133v1M207 62v1M207 77v4M207 90v1M207 92v2M207 124v1M207 135v1M207 138v1M208 84v1M208 97v1M208 101v1M208 103v1M208 114v1M208 117v1M209 79v1M209 93v1M209 125v3M209 140v1M210 77v1M210 87v1M210 90v2M210 102v1M211 132v1M211 134v2M211 137v2M212 59v1M212 91v1M212 99v1M212 141v1M213 78v1M213 89v1M213 131v1M213 137v1M214 59v1M214 140v1M215 60v2M215 74v1M215 111v1M215 142v1M216 80v1M216 82v1M216 98v1M216 118v1M216 123v1M216 140v1M217 85v2M217 88v1M217 108v1M217 127v1M217 129v1M218 69v1M218 71v1M218 108v2M218 119v1M218 133v3M218 140v1M219 86v1M219 123v2M219 141v1M220 76v1M220 101v2M220 137v1M221 61v1M221 89v3M221 140v1M222 72v1M222 81v1M222 119v1M223 55v1M223 71v2M223 75v6M223 85v1M223 89v4M223 126v1M224 55v1M224 109v1M224 137v1M224 140v1M225 56v2M225 59v1M225 104v1M225 120v1M225 138v2M226 54v1M226 70v1M226 138v3M227 88v2M227 118v1M227 120v1M227 130v1M228 54v2M228 82v1M228 92v1M228 141v1M229 75v2M229 83v3M229 92v1M229 100v1M229 114v1M229 129v1M230 53v1M230 70v5M230 78v1M230 133v1M230 139v1M230 141v1M231 78v1M231 84v2M231 118v1M231 141v1M232 52v1M232 88v1M232 96v1M232 115v1M232 121v1M232 123v1M232 141v1M233 52v1M233 82v1M233 91v2M233 97v1M233 100v2M233 115v1M233 138v1M235 67v1M235 108v1M235 111v1M235 133v1M236 43v6M236 61v1M236 65v1M236 77v3M236 88v3M236 114v1M236 125v1M236 136v1M237 49v1M237 69v1M237 78v1M237 96v2M238 31v14M238 47v3M238 63v1M238 66v2M239 49v1M239 61v1M239 70v1M239 133v2M239 141v1M240 74v1M240 81v3M240 123v2M240 130v1M240 134v2M240 141v1M241 36v8M241 49v1M241 74v1M241 78v1M241 82v1M241 86v1M241 92v1M241 142v1M242 87v1M242 123v1M243 47v1M243 66v4M243 78v2M243 86v1M243 114v1M243 119v1M243 121v3M243 133v1M244 86v1M244 121v1M245 95v2M245 126v2M246 46v1M246 58v1M246 60v2M246 82v1M246 89v1M246 98v1M247 58v3M247 78v2M247 85v3M247 98v1M248 45v2M248 67v6M249 54v1M249 64v1M249 74v1M249 83v2M249 97v1M249 107v1M249 117v1M249 120v1M250 83v1M250 92v1M250 119v1M250 141v1M251 42v3M251 58v3M251 65v2M251 69v2M252 62v2M252 65v3M252 74v1M252 80v1M253 132v2M254 44v1M254 56v1M254 62v2M254 84v1M254 101v2M254 120v1M254 142v1M255 34v6M255 45v1M255 57v1M255 67v4M255 82v4M255 97v1M255 141v1M256 39v5M256 55v2M256 70v1M256 73v3M256 90v1M256 95v1M256 111v1M256 142v1M257 37v6M257 54v1M257 56v1M257 69v2M257 86v1M257 97v1M257 119v2M257 142v1M258 32v2M258 40v3M258 58v1M258 62v1M258 68v3M258 142v1M259 41v1M259 52v1M259 58v3M259 73v1M260 43v1M260 64v1M260 75v2M260 83v3M261 52v10M261 73v1M261 88v1M261 140v1M262 132v1M263 50v1M263 59v1M263 69v2M263 75v1M263 78v1M264 41v1M264 50v1M264 124v1M265 36v4M265 97v1M265 141v1M266 53v2M266 60v7M266 96v1M266 141v1M267 41v1M267 52v4M267 65v2M267 90v1M267 142v1M268 42v1M268 94v3M269 61v1M269 142v1M270 40v1M270 47v1M270 49v1M270 52v2M270 112v1M270 120v2M270 130v1M270 141v1M271 34v4M271 44v1M271 53v1M271 62v1M271 99v1M271 123v1M271 134v1M272 39v1M272 45v1M272 47v1M272 64v1M272 67v2M272 70v2M272 83v2M273 38v3M273 141v1M274 40v1M274 46v1M274 48v4M274 54v2M275 35v3M275 47v12M275 73v1M275 132v1M276 37v1M276 47v2M276 68v1M276 72v2M276 80v3M276 94v1M276 142v1M277 35v2M277 47v1M277 67v1M277 137v1M278 28v1M278 33v3M278 50v10M278 143v1M279 39v1M279 45v8M279 58v2M279 71v3M279 95v1M279 97v1M279 133v1M279 141v1M280 32v2M280 46v1M280 54v3M280 66v1M280 69v2M280 72v1M280 75v1M280 97v1M280 143v1M281 39v1M281 55v1M282 33v1M282 43v2M282 59v2M282 104v2M282 120v1M282 122v1M282 142v1M283 33v1M283 58v1M283 90v4M283 122v1M283 129v1M283 142v1M284 29v3M284 72v1M284 104v1M284 131v3M285 60v1M285 71v3M285 82v1M285 89v1M285 93v2M285 98v1M285 125v1M285 142v1M286 40v1M286 45v5M286 58v5M286 72v1M286 117v1M286 134v1M287 30v1M287 38v1M287 43v5M287 63v3M287 77v1M287 82v1M287 123v1M288 33v1M288 42v4M288 54v7M288 66v2M288 72v1M288 75v1M288 79v1M288 106v1M289 49v6M289 59v2M289 63v6M289 92v4M289 105v1M289 122v3M290 34v1M290 39v27M290 131v1M290 133v1M290 142v1M291 40v4M291 58v2M291 120v1M291 142v1M292 59v3M292 76v1M292 83v2M292 88v1M292 91v1M293 29v1M293 56v7M293 75v2M293 142v1M294 56v9M294 72v2M294 75v1M294 82v1M294 127v1M295 26v2M295 41v5M295 60v12M295 78v1M295 80v1M296 29v1M296 31v1M296 48v5M296 61v1M296 75v4M296 99v1M296 142v1M297 42v6M297 60v2M297 142v1M298 28v1M298 62v5M298 70v2M298 133v1M298 136v1M298 141v1M299 25v1M299 31v1M299 66v2M299 78v3M299 103v1M299 121v1M299 123v1M300 25v1M300 30v1M300 42v12M300 73v1M300 116v1M300 127v1M300 130v1M300 140v1M301 31v12M301 45v4M301 55v5M301 77v3M301 83v1M301 85v1M302 24v1M302 32v3M302 39v15M302 62v3M302 66v2M302 72v1M302 114v1M302 119v1M302 122v1M302 140v1M303 20v3M303 30v1M303 50v6M303 62v2M303 138v3M304 23v1M304 30v2M304 44v3M304 62v2M304 67v2M304 87v1M304 121v1M304 142v1M305 23v1M305 30v4M305 50v2M305 62v4M305 75v1M305 89v2M306 71v7M306 89v1M306 93v2M307 49v11M307 74v1M307 79v1M307 85v1M307 125v1M307 141v1M308 42v4M308 56v2M308 62v9M308 75v1M308 103v1M308 127v1M309 46v5M309 132v1M309 141v1M310 44v8M310 64v1M310 70v2M310 78v1M310 81v1M310 111v1M310 142v1M311 43v3M311 49v12M311 74v1M311 76v2M311 80v2M311 134v1M311 142v1M312 91v1M312 94v1M312 114v1M312 141v1M313 54v9M313 66v1M313 97v1M313 122v1M313 139v1M313 141v1M314 51v6M314 65v2M314 69v1M314 73v1M315 66v2M315 101v1M315 108v2M315 137v1M316 40v5M316 49v4M316 63v1M316 71v2M316 77v1M316 84v1M316 108v2M316 113v2M316 130v1M317 98v1M317 115v1M317 142v1M318 41v5M318 49v8M318 58v5M318 142v1M319 66v6M319 79v1M319 91v1M319 141v1M320 63v1M320 140v1M321 60v2M321 64v3M321 72v3M321 79v5M321 89v1M321 120v1M321 122v1M321 125v1M321 141v1M322 65v5M322 89v1M322 138v1M323 51v2M323 61v1M323 78v2M323 117v1M323 129v1M323 132v1M324 56v7M324 96v2M324 114v3M325 47v4M325 60v1M325 77v1M325 79v2M325 82v1M325 136v1M326 51v2M326 77v1M326 79v1M326 111v2M327 44v10M327 56v7M327 131v1M328 77v1M328 140v1M329 61v3M329 116v1M330 65v1M330 95v1M330 110v1M330 119v1M330 136v2M331 51v2M331 64v3M331 68v5M331 84v4M331 96v1M331 133v1M331 141v1M332 37v13M332 58v3M332 67v1M332 75v2M332 107v1M333 63v2M333 67v2M333 76v4M333 90v1M333 93v1M333 131v1M333 141v1M334 48v2M334 58v3M334 67v3M334 73v1M334 77v1M334 81v1M334 88v1M334 95v1M334 103v3M334 110v1M335 72v1M335 89v1M335 130v1M335 142v1M336 55v4M336 60v3M337 68v1M338 40v4M338 55v3M338 67v2M338 98v1M338 102v1M339 53v2M339 67v2M339 92v2M339 99v1M339 121v1M340 61v4M340 85v1M340 142v1M341 55v3M341 127v1M342 72v1M342 103v1M342 106v1M342 142v1M343 57v3M343 62v3M343 69v1M343 95v1M343 131v1M344 41v8M344 67v3M344 72v1M344 140v1M345 52v11M345 79v1M345 141v1M346 67v6M346 74v3M346 79v1M346 84v1M346 91v1M347 84v2M348 50v2M348 139v1M348 142v1M349 54v4M349 65v1M349 69v2M349 86v1M349 140v1M350 34v12M350 65v6M350 73v1M350 86v1M350 93v1M350 97v1M351 39v7M351 60v2M351 69v2M351 73v2M351 76v2M351 80v1M351 84v1M351 124v1M351 128v2M351 140v1M352 38v4M352 46v2M352 55v2M352 77v1M352 85v1M352 90v7M352 100v1M352 105v1M352 121v2M352 142v1M353 56v10M353 69v12M353 93v1M354 54v10M354 68v8M354 139v1M355 120v2M355 134v1M356 56v7M356 74v1M356 81v1M356 92v2M356 103v2M356 137v1M357 43v11M357 64v3M357 81v2M357 116v1M357 141v1M358 35v4M358 58v3M358 77v5M359 34v5M359 42v6M359 53v2M359 109v1M359 113v1M360 63v3M360 72v2M360 75v1M360 88v2M360 132v1M360 136v1M360 141v1M361 49v5M361 62v2M361 81v1M361 107v1M361 109v1M362 43v2M362 56v2M362 71v1M362 138v2M363 50v3M363 61v5M363 92v1M363 96v1M363 139v1M364 39v7M364 52v4M364 71v2M364 77v2M364 102v1M364 138v1M365 65v3M365 73v2M365 78v1M365 96v1M365 99v1M365 142v1M366 29v8M366 61v2M366 81v3M366 142v1M367 40v16M367 68v3M367 89v2M367 117v1M367 131v1M367 137v1M367 140v1M368 38v5M368 55v2M368 65v1M368 71v1M368 83v1M368 86v1M368 117v1M369 69v1M369 90v1M369 105v2M370 60v2M370 80v3M370 97v1M370 128v1M371 55v5M371 66v4M371 71v2M371 74v1M371 94v4M371 103v1M371 106v1M372 31v20M372 56v3M372 75v1M372 79v1M372 84v1M372 92v1M372 142v1M373 40v5M373 63v6M373 76v1M373 127v1M374 69v4M374 85v1M374 92v1M374 125v1M374 133v1M374 136v1M375 55v7M375 67v1M375 85v1M375 107v1M375 138v1M376 67v9M376 84v1M377 59v16M377 131v1M378 35v18M378 58v3M378 73v1M378 78v1M378 81v1M379 65v2M379 77v2M379 83v1M379 134v1M380 43v4M380 51v4M380 85v1M380 111v1M381 48v7M381 77v1M381 91v1M381 142v1M382 59v8M382 79v1M382 134v1M382 137v1M383 69v3M383 95v1M383 125v1M384 35v12M384 51v13M384 92v2M384 113v1M384 142v1M385 69v1M385 106v1M386 48v6M386 61v5M386 77v1M386 87v1M386 89v1M386 97v1M387 58v4M387 71v1M387 79v2M387 90v1M387 97v1M387 141v1M388 31v11M388 52v9M388 73v3M388 79v2M388 134v1M389 49v4M389 125v1M389 141v1M390 35v11M390 57v3M390 141v1M391 51v5M391 78v2M391 85v1M391 142v1M392 74v1M392 77v2M392 89v1M392 96v2M392 137v1M392 139v2M393 75v1M393 123v1M393 129v1M393 135v1M394 69v1M394 86v1M394 90v1M394 96v1M394 107v7M394 122v1M394 125v1M395 44v13M395 68v2M395 127v1M395 133v1M396 38v7M396 63v1M396 94v3M397 43v2M397 70v1M397 89v1M397 111v1M398 47v3M398 57v7M398 72v1M398 90v2M398 100v1M399 62v7"/>
<path stroke="#462f7f" d="M0 82v2M0 85v3M0 95v2M0 104v1M0 136v1M1 82v2M1 86v6M1 96v4M1 101v2M1 104v2M1 109v1M1 113v1M1 118v1M1 123v1M2 79v14M2 101v2M2 114v1M3 77v3M3 84v2M3 90v3M3 123v2M3 137v1M4 77v3M4 81v2M4 89v5M4 96v2M4 107v1M4 128v3M5 81v3M5 133v2M6 77v3M6 86v1M6 93v1M6 97v1M6 114v1M6 120v1M6 126v2M7 83v4M7 110v1M7 123v4M7 131v2M8 76v8M8 93v1M8 100v3M8 110v1M8 118v4M8 131v2M9 106v3M9 113v8M9 127v5M10 76v4M10 83v2M10 102v1M10 105v5M10 118v2M10 124v2M10 136v1M11 88v4M11 93v3M11 98v1M11 103v6M11 122v2M11 131v1M12 117v2M13 112v1M13 122v5M13 128v2M13 132v1M14 105v1M14 118v1M14 121v1M14 126v2M14 136v1M15 90v1M15 103v2M15 125v1M15 134v3M16 74v4M16 96v1M16 100v2M16 129v1M16 136v1M17 96v2M17 101v1M17 108v1M17 122v2M17 129v1M17 132v1M17 137v1M18 81v2M18 98v1M18 123v1M18 137v1M19 87v4M19 93v1M19 102v1M19 118v1M19 135v1M20 79v3M20 86v2M20 132v3M20 137v1M21 104v2M21 107v3M21 116v1M21 122v2M21 125v2M22 79v5M22 89v2M22 100v6M22 126v1M22 137v1M23 84v1M23 103v5M24 89v1M24 121v4M24 137v1M25 110v1M25 115v2M25 118v3M25 125v2M26 82v5M26 96v2M26 108v1M26 134v1M27 91v2M27 105v2M28 81v8M28 107v4M28 130v1M28 134v1M29 83v1M29 95v1M29 98v3M29 117v1M29 124v1M30 95v1M30 103v1M30 123v1M30 127v2M30 130v2M30 135v2M31 106v1M31 112v1M31 132v2M31 135v1M32 86v1M32 90v3M32 107v2M32 112v4M33 81v2M33 87v2M33 100v2M33 105v2M33 114v1M34 102v1M34 106v2M34 128v5M34 135v1M35 84v3M35 97v1M35 121v2M36 80v3M36 90v2M36 121v1M37 92v3M37 101v2M37 114v3M37 122v2M38 96v2M38 113v1M39 79v3M39 111v1M39 114v5M39 124v2M40 81v3M40 90v1M40 114v2M40 124v1M40 137v1M41 81v6M41 91v5M41 108v2M41 114v2M41 119v2M41 122v1M42 133v4M43 86v3M43 116v4M43 123v1M43 128v2M43 136v1M44 76v7M44 88v4M44 97v1M44 119v2M44 123v1M44 125v1M44 131v1M44 134v2M45 100v6M45 115v1M46 97v3M46 130v2M46 135v1M46 137v1M47 88v7M47 100v3M47 138v1M48 91v4M48 98v2M48 122v1M48 130v1M49 79v2M49 90v2M49 93v6M49 127v1M50 76v8M50 86v2M50 102v2M50 116v1M50 121v3M51 88v1M51 92v4M51 115v3M51 120v1M51 134v1M52 87v2M52 96v2M52 100v1M52 104v1M53 74v4M53 92v4M53 98v4M53 110v1M53 112v3M54 91v1M54 94v1M54 98v1M54 105v2M54 110v2M54 114v2M54 136v1M55 84v2M55 95v2M55 107v2M55 113v5M55 120v2M55 129v1M55 142v1M56 78v3M56 94v6M56 107v1M56 117v1M57 77v3M57 89v1M57 94v1M57 104v2M57 111v1M57 131v1M57 141v1M58 83v3M58 99v7M58 110v1M58 118v1M58 141v1M59 86v2M59 97v1M59 119v2M59 125v1M59 129v1M59 132v1M59 141v1M60 94v2M60 100v3M60 107v1M60 122v2M61 83v3M61 87v6M61 101v2M61 106v1M61 112v1M61 118v3M61 125v1M62 85v15M62 128v1M63 76v4M63 85v3M63 94v2M63 112v2M63 121v1M63 124v1M64 105v1M64 116v1M64 124v1M64 130v1M65 94v1M65 128v1M65 141v1M66 91v1M66 99v12M66 115v1M66 139v1M67 82v2M67 91v1M67 132v1M67 142v1M68 80v1M68 82v2M68 115v1M68 121v1M68 133v1M69 112v1M69 123v2M69 141v1M70 83v1M70 93v1M70 114v7M70 132v1M71 77v7M71 94v2M71 115v2M71 131v1M71 134v3M71 139v1M72 77v6M72 93v1M72 100v1M72 110v2M72 119v1M72 122v1M73 87v2M73 94v3M73 104v4M74 104v2M74 130v1M75 87v5M75 98v1M76 88v3M76 96v5M76 127v1M77 99v3M77 104v1M77 118v1M77 122v1M77 141v1M78 92v2M78 99v1M78 113v1M79 105v2M79 142v1M80 86v1M80 93v1M80 96v4M80 109v2M80 113v10M81 85v2M81 99v1M81 103v7M81 113v1M82 91v3M82 96v2M82 101v4M82 115v1M83 80v5M83 88v2M84 110v2M84 125v1M85 81v1M85 84v6M85 94v6M85 110v4M86 88v7M86 102v4M86 113v1M86 137v1M86 141v1M87 112v1M87 126v1M87 133v1M88 96v1M88 137v1M89 87v3M89 101v3M89 139v1M90 80v16M91 105v1M91 117v2M91 140v1M92 79v6M92 112v1M92 137v1M92 141v1M93 77v6M93 86v1M93 98v5M94 86v3M94 95v3M94 105v2M95 76v14M95 96v2M95 104v2M95 112v1M95 130v1M95 133v1M96 80v14M96 133v1M97 91v2M97 96v4M97 110v1M98 115v1M99 82v7M99 100v3M99 108v1M99 124v1M99 140v2M100 85v2M100 99v1M100 104v1M100 108v3M100 113v1M100 128v2M100 138v2M101 84v7M101 107v2M101 140v1M102 82v3M102 92v5M103 90v5M103 100v2M103 128v1M104 105v1M104 139v1M105 86v5M105 100v4M105 124v1M106 102v5M106 142v1M107 101v1M108 81v3M108 97v3M108 123v1M109 88v5M109 97v8M109 126v1M109 128v1M110 87v3M110 95v4M110 106v2M110 123v1M110 141v1M111 104v1M111 141v1M112 102v2M113 79v3M113 87v3M113 103v1M113 121v1M113 125v1M113 142v1M114 93v3M114 97v3M114 101v1M114 122v2M114 126v2M115 108v1M116 90v2M116 101v1M117 99v2M117 113v1M118 118v1M118 120v1M118 126v1M119 80v15M119 116v1M119 124v1M120 84v6M120 141v1M122 98v1M123 97v3M123 127v1M123 129v1M124 89v2M124 115v3M124 125v1M125 100v1M125 116v1M125 119v3M125 141v1M126 91v1M126 121v3M126 132v1M127 86v4M127 112v1M127 117v1M127 138v1M127 140v1M128 90v3M128 109v1M128 116v1M128 123v1M129 96v1M129 121v1M129 137v1M130 92v2M130 97v1M130 118v1M130 126v2M131 91v3M131 128v1M131 132v1M132 90v2M132 129v2M132 140v1M133 85v7M133 133v1M134 82v2M134 93v2M135 130v2M135 135v4M136 86v2M136 122v1M137 113v1M137 129v2M137 133v1M138 92v2M138 126v2M138 134v2M138 141v1M139 120v1M139 128v1M139 140v1M140 90v1M140 115v1M140 120v3M141 87v2M141 126v2M141 141v1M142 80v7M143 89v3M143 109v1M144 81v3M144 114v3M144 120v1M144 126v4M144 141v1M145 89v4M145 125v1M145 130v2M146 87v1M146 112v1M146 125v2M146 131v1M146 135v1M147 89v1M147 129v2M148 87v1M148 109v1M148 111v2M148 120v1M148 128v3M148 139v2M149 86v1M149 102v1M149 116v1M149 135v3M150 126v1M151 80v6M151 106v2M151 110v6M151 129v1M152 81v3M152 122v2M152 125v1M152 141v1M153 105v1M153 107v1M153 110v2M153 116v5M154 86v1M154 107v1M155 82v1M155 119v1M156 77v3M156 108v1M156 132v1M157 113v1M157 115v1M157 119v1M157 121v1M157 141v1M158 81v1M158 126v3M159 102v2M159 110v3M160 98v1M160 104v3M160 109v4M160 116v1M160 136v1M161 82v1M161 104v3M162 102v1M162 112v1M162 121v1M162 123v2M163 80v1M164 96v1M164 124v2M164 132v1M164 138v1M165 134v1M165 137v3M166 101v1M166 106v1M167 111v1M167 121v1M168 98v1M168 128v1M168 141v1M169 76v2M169 105v1M169 109v1M169 132v1M169 141v1M170 78v1M170 100v1M170 105v1M170 110v3M170 116v1M170 118v1M170 121v1M171 99v1M171 113v1M172 113v1M172 118v3M173 76v1M173 91v1M173 93v1M173 99v3M173 136v1M173 139v1M174 77v1M174 129v1M174 137v1M174 139v2M175 78v1M176 102v1M176 106v4M177 75v1M177 104v1M177 111v1M177 120v1M177 127v1M178 128v1M179 78v1M179 102v1M179 105v1M179 113v4M179 121v1M180 120v1M180 131v1M181 76v1M181 117v1M181 121v1M181 141v1M182 74v1M182 103v2M182 111v1M182 114v1M182 131v1M183 97v1M183 101v4M183 111v1M183 117v1M183 121v1M183 136v2M184 72v1M184 91v1M184 99v2M184 106v1M184 110v1M184 125v1M184 141v1M185 94v1M185 139v1M186 72v2M186 115v1M186 120v1M186 136v1M187 96v1M187 120v1M187 141v1M188 71v1M188 87v1M188 98v1M188 101v1M188 107v1M188 120v1M189 70v1M189 130v2M190 72v1M190 115v1M190 123v1M190 128v1M190 135v1M191 69v1M191 71v1M191 106v1M191 112v2M191 118v1M191 121v2M191 140v1M192 69v1M192 134v3M193 105v3M194 67v2M194 86v2M194 101v1M194 108v1M195 78v1M196 112v1M196 114v1M196 128v1M196 134v2M196 140v1M197 67v1M197 97v1M197 100v1M197 106v1M197 124v1M197 127v1M197 130v1M198 67v1M198 79v1M198 96v2M198 113v1M198 121v1M198 132v2M198 141v1M199 102v1M199 107v1M199 141v1M200 109v1M200 129v1M200 140v1M201 66v2M201 75v1M201 97v1M201 105v2M201 117v1M202 107v1M202 113v1M202 115v1M202 139v1M203 140v1M204 78v1M204 85v1M204 113v5M205 118v1M205 133v1M206 83v1M206 117v1M207 63v1M207 91v1M207 94v1M207 97v1M207 126v1M207 136v2M207 139v2M208 100v1M208 113v1M208 118v1M208 141v1M209 104v1M209 124v1M209 134v3M209 138v2M210 63v1M210 92v1M210 101v1M210 103v1M210 113v1M210 119v1M210 141v1M211 62v1M211 83v1M211 115v3M211 136v1M211 139v1M211 141v1M212 60v1M212 86v2M212 129v1M213 64v1M213 90v1M214 60v1M214 116v1M214 136v1M215 75v1M215 117v1M215 141v1M216 59v1M216 79v1M216 83v3M216 92v6M216 101v1M216 114v1M216 122v1M216 128v1M217 59v1M217 82v3M217 111v1M217 128v1M217 137v1M217 141v1M218 67v1M218 70v1M218 89v1M218 132v1M219 87v2M219 122v1M219 125v1M219 133v2M220 60v1M220 77v7M220 99v2M220 103v1M220 116v1M220 123v1M221 88v1M221 92v1M221 111v4M221 119v1M221 124v1M221 135v1M222 56v1M222 82v1M222 97v1M222 101v1M222 125v1M222 130v1M223 56v1M223 70v1M223 86v3M223 96v1M223 120v1M224 82v6M224 98v1M224 102v1M224 117v1M224 130v1M225 82v4M225 119v1M225 137v1M226 69v1M226 71v1M226 135v3M227 56v1M227 87v1M227 90v1M227 98v1M227 106v1M227 116v2M227 121v1M227 126v1M228 74v3M228 81v1M229 53v1M229 67v1M229 73v2M229 86v6M229 101v3M229 128v1M229 134v1M230 86v3M230 129v4M230 140v1M231 76v2M231 86v2M231 140v1M232 87v1M232 102v2M232 114v1M232 116v1M232 120v1M232 124v1M233 58v1M233 81v1M233 98v2M233 102v1M233 116v1M233 135v1M233 139v2M234 64v1M234 78v3M234 89v2M235 66v1M235 68v1M235 87v6M235 98v1M235 107v1M235 112v7M235 130v1M235 134v1M236 49v2M236 66v1M236 71v4M236 76v1M236 80v1M236 91v1M236 112v2M236 115v1M236 129v1M237 50v1M237 63v6M237 79v1M237 90v2M237 95v1M237 98v1M237 102v1M237 129v1M237 141v1M238 81v1M238 84v3M238 93v2M238 141v1M239 62v3M239 69v1M239 124v1M239 132v1M240 66v1M240 72v2M240 84v1M240 102v2M240 125v1M240 136v1M241 61v1M241 75v3M241 83v1M241 85v1M241 87v1M241 99v1M241 120v2M241 125v3M241 131v1M241 134v1M241 138v1M242 51v1M242 77v1M242 122v1M242 129v1M242 140v1M243 48v1M243 70v4M243 76v2M243 87v1M243 111v1M243 113v1M243 120v1M243 124v1M243 129v1M243 140v1M244 50v1M244 62v1M244 139v1M245 97v1M245 125v1M245 128v2M246 47v1M246 62v1M246 71v2M246 81v1M246 90v1M246 97v1M246 99v1M246 103v1M246 112v1M247 47v1M247 57v1M247 61v8M247 77v1M247 88v1M247 110v2M247 133v1M248 59v2M248 65v2M248 73v2M248 142v1M249 49v1M249 65v9M249 85v2M249 96v1M249 98v1M249 111v1M249 121v1M249 127v1M250 47v1M250 62v5M250 76v7M250 84v1M250 91v1M251 45v1M251 57v1M251 67v2M251 71v1M251 139v3M252 64v1M252 68v1M252 73v1M252 141v1M253 46v1M253 124v1M254 55v1M254 64v1M254 69v3M254 83v1M254 100v1M254 121v1M254 129v1M255 56v1M255 71v1M255 81v1M255 86v1M255 101v1M255 109v1M256 54v1M256 57v6M256 65v5M256 76v1M256 87v3M256 119v1M257 43v7M257 57v1M257 68v1M257 76v1M257 82v1M257 91v1M258 52v1M258 54v4M258 59v3M258 71v1M258 82v2M259 61v1M259 65v5M259 139v1M260 44v1M260 51v1M260 74v1M260 77v1M260 102v1M260 142v1M261 42v1M261 62v3M261 71v2M261 74v4M261 87v1M261 89v1M261 102v1M261 108v1M262 42v1M262 80v1M262 131v1M262 142v1M263 44v1M263 60v4M263 67v2M263 71v4M263 94v1M264 51v9M264 88v1M264 123v1M264 125v1M265 40v1M265 120v2M266 43v1M266 55v5M266 81v1M266 103v1M266 112v1M267 56v2M267 63v2M267 67v1M267 103v1M267 115v1M268 62v2M268 85v1M268 92v2M268 97v1M268 142v1M269 40v1M269 82v1M269 91v1M270 46v1M270 48v1M270 54v3M270 108v1M270 113v1M271 38v1M271 51v2M271 63v1M271 82v1M271 94v1M271 102v1M271 131v1M272 40v1M272 46v1M272 65v2M272 72v1M272 80v3M272 85v2M273 49v14M273 97v1M273 110v1M273 139v2M274 47v1M274 56v7M274 114v1M274 123v1M275 46v1M275 59v2M275 84v1M275 141v1M276 38v2M276 69v3M276 83v1M276 90v2M276 113v2M277 46v1M277 68v3M278 36v1M278 46v4M278 60v1M278 63v3M279 44v1M279 60v1M279 70v1M279 132v1M280 34v1M280 45v1M280 57v2M280 64v2M280 71v1M280 76v1M280 84v2M280 95v1M280 98v2M281 35v1M281 56v4M281 104v1M281 142v1M282 41v2M282 61v2M282 68v2M282 79v1M282 82v1M282 88v1M283 36v1M283 59v4M283 103v1M283 121v1M283 123v2M283 141v1M284 32v1M284 42v1M284 73v6M284 121v1M285 42v1M285 61v1M285 69v2M285 78v1M285 86v1M285 95v3M285 99v1M285 127v1M286 37v1M286 63v2M286 71v1M286 79v1M286 133v1M286 135v1M286 140v1M287 31v1M287 66v2M287 71v1M287 76v1M287 140v1M288 40v2M288 73v2M288 80v2M288 90v1M288 142v1M289 61v2M289 75v1M289 91v1M289 121v1M289 142v1M290 38v1M290 66v8M291 29v1M291 38v2M291 60v6M291 125v1M292 35v1M292 62v1M292 75v1M292 77v1M292 82v1M292 96v1M292 102v1M292 104v2M292 116v1M292 142v1M293 36v1M293 77v1M294 74v1M294 91v1M294 97v1M294 140v1M295 38v3M295 72v6M295 81v1M296 30v1M296 53v8M296 79v1M296 100v1M296 137v1M297 62v2M297 70v4M297 117v1M297 137v1M298 33v1M298 67v3M298 76v1M298 81v2M298 105v1M298 116v1M298 120v1M298 123v1M298 131v2M299 68v3M299 77v1M299 81v5M299 104v2M300 74v1M300 115v1M301 30v1M301 43v2M301 49v6M301 60v6M301 76v1M301 80v1M301 82v1M301 89v1M302 31v1M302 65v1M302 126v1M302 141v1M303 23v1M303 64v2M303 137v1M304 24v3M304 29v1M304 47v15M304 69v4M304 77v2M304 82v1M304 109v1M304 122v1M305 24v1M305 29v1M305 52v10M305 83v1M305 88v1M305 91v3M306 78v2M307 60v3M307 66v8M307 80v2M307 98v3M307 104v1M307 113v1M307 139v1M308 46v10M308 71v4M308 80v1M309 51v5M309 76v4M309 103v1M309 134v1M310 65v5M310 72v2M310 75v3M310 110v1M310 112v1M311 46v3M311 61v4M311 73v1M311 78v2M311 82v1M311 133v1M312 87v1M312 113v1M312 134v2M312 140v1M313 67v1M313 81v1M313 135v1M313 138v1M313 140v1M314 67v2M314 74v1M315 68v2M315 89v1M315 102v1M315 107v1M315 117v2M315 130v1M316 45v4M316 64v2M316 69v2M316 73v2M316 76v1M316 85v1M316 96v1M316 99v1M316 115v1M316 121v1M316 127v1M317 91v1M317 97v1M318 82v1M318 85v1M318 133v1M319 72v1M319 78v1M319 140v1M320 64v2M320 108v1M320 113v2M321 62v2M321 67v2M321 70v2M321 84v2M321 88v1M321 119v1M321 123v2M322 85v1M322 88v1M322 90v1M322 124v1M322 127v1M323 53v8M323 100v1M323 106v2M323 122v2M324 63v3M324 112v2M324 141v1M325 78v1M325 126v1M325 131v2M326 53v18M326 76v1M326 80v1M326 110v1M326 113v1M326 141v1M327 54v2M327 63v4M328 78v2M329 64v1M329 108v1M329 117v2M329 129v2M329 136v1M329 139v1M330 66v1M330 78v3M330 87v2M330 96v1M330 106v1M330 109v1M330 113v1M330 120v1M330 135v1M330 138v1M330 140v1M331 53v11M331 73v1M331 83v1M331 126v1M331 132v1M331 135v1M332 61v3M332 66v1M332 128v1M332 135v1M333 65v2M333 80v1M333 94v1M334 61v6M334 70v3M334 78v1M334 80v1M334 89v1M334 94v1M334 140v1M335 73v4M335 88v1M335 90v1M335 129v1M336 63v3M336 125v1M336 136v1M336 141v1M337 69v1M337 90v1M337 120v1M337 138v2M337 141v1M338 44v11M338 69v4M338 118v1M339 69v2M339 90v2M339 96v1M339 108v1M339 118v1M339 125v1M340 65v13M340 84v1M340 86v1M340 91v2M341 58v3M341 81v1M341 104v1M341 110v2M341 121v2M341 136v1M341 141v1M342 73v1M343 60v2M343 70v1M343 87v3M343 94v1M343 96v1M343 130v1M344 73v1M345 140v1M346 73v1M346 80v1M346 92v1M347 74v1M347 83v1M347 86v1M347 98v1M347 102v1M347 127v1M347 141v1M348 52v6M348 140v2M349 58v7M349 71v4M349 78v2M350 46v19M350 74v2M350 85v1M350 88v1M350 132v1M351 62v7M351 75v1M351 85v1M351 130v1M351 139v1M352 42v4M352 57v3M352 76v1M352 86v4M352 97v3M352 132v2M353 66v3M353 127v1M353 142v1M354 76v1M354 90v2M354 101v1M354 107v1M354 137v1M354 140v2M355 101v1M355 119v1M355 122v1M356 82v1M356 88v1M357 54v10M357 79v2M357 83v1M357 114v1M358 39v19M358 82v1M358 99v1M359 39v3M359 55v8M360 66v6M360 76v1M360 87v1M360 90v1M361 54v8M361 104v1M361 108v1M362 45v11M362 72v1M362 119v1M363 53v8M363 66v1M363 138v1M364 56v4M364 69v2M364 73v4M364 83v1M365 68v2M365 71v2M365 79v2M365 82v3M366 87v1M366 93v1M366 106v1M367 71v2M367 75v14M367 91v1M367 116v1M367 118v1M367 123v1M367 138v2M368 43v12M368 66v2M368 70v1M368 76v1M368 82v1M368 107v3M368 140v1M369 70v1M369 80v3M369 92v1M369 99v1M369 107v1M369 141v1M370 62v5M370 72v1M370 79v1M370 93v1M370 132v1M371 70v1M371 75v1M371 98v5M371 141v1M372 51v5M372 73v2M373 98v1M373 123v1M374 73v1M374 124v1M374 140v1M375 62v5M376 76v5M376 88v1M377 75v1M377 85v2M377 122v2M378 53v5M378 74v1M378 77v1M378 140v1M379 67v3M379 76v1M379 79v1M379 82v1M379 90v1M379 124v1M379 128v1M379 130v1M379 138v1M380 47v4M380 78v1M380 82v1M380 110v1M380 112v1M381 55v9M381 71v6M381 85v1M381 90v1M381 92v1M381 123v1M381 128v1M382 67v3M382 78v1M382 80v1M382 98v1M382 114v1M382 141v1M383 80v1M383 88v1M383 94v1M383 137v1M383 140v1M384 47v4M384 72v1M384 82v2M384 91v1M384 94v1M384 124v1M385 70v1M385 93v1M385 133v1M386 54v7M386 86v1M386 90v2M386 116v2M386 141v1M387 78v1M387 81v2M388 42v10M388 61v5M388 70v3M388 76v1M388 78v1M388 81v1M388 105v4M388 115v1M388 135v1M388 141v1M389 53v3M390 60v4M390 119v2M391 80v5M391 102v1M392 75v2M392 79v1M392 86v1M392 95v1M392 103v1M392 121v1M392 125v1M393 76v1M393 96v2M393 113v1M393 122v1M393 127v1M393 138v1M394 70v4M394 80v2M394 93v1M394 106v1M394 118v1M394 140v1M395 70v1M395 88v2M395 134v1M396 64v1M396 76v2M396 93v1M396 97v1M396 141v1M397 71v1M397 95v3M397 106v1M397 121v1M397 140v1M398 50v7M398 73v2M398 89v1M398 92v1M398 97v1M398 130v2M399 69v1M399 85v1M399 90v1M399 141v1"/>
<path stroke="#453785" d="M0 84v1M0 88v7M0 105v3M0 128v8M1 84v2M1 100v1M1 106v3M1 114v4M1 124v5M1 137v1M2 93v3M2 99v2M2 115v2M2 118v9M2 137v1M3 86v4M3 93v1M3 121v2M3 128v1M3 132v5M4 83v3M4 87v2M4 98v1M4 102v5M5 84v5M5 96v3M5 107v2M5 130v3M6 80v6M6 94v3M6 115v5M7 111v1M7 121v2M7 127v4M8 94v1M8 98v2M8 111v2M8 117v1M8 133v4M9 121v2M9 125v2M10 80v3M10 88v1M10 94v3M10 101v1M10 126v2M10 130v6M11 96v2M11 99v4M11 124v7M13 130v2M14 106v1M14 111v7M14 122v4M14 128v4M14 134v2M15 91v1M15 97v2M15 126v1M15 131v3M16 78v4M16 95v1M16 102v4M16 126v3M17 102v2M17 107v1M17 109v1M17 114v3M17 120v2M17 124v5M17 133v1M17 136v1M18 83v3M18 97v1M18 124v9M18 136v1M19 94v2M19 100v2M19 119v2M19 133v2M20 82v4M20 106v2M20 124v4M20 130v2M20 135v2M21 110v1M21 114v2M21 124v1M22 91v4M22 99v1M22 127v2M22 133v4M23 85v1M23 99v1M24 90v1M24 113v8M24 125v12M25 111v4M25 121v4M25 132v2M25 137v1M26 98v2M26 106v2M26 109v3M26 124v3M26 133v1M27 93v2M27 97v8M28 131v3M29 84v2M29 94v1M29 118v1M29 122v2M30 96v2M30 102v1M30 124v3M30 132v3M31 91v1M31 105v1M31 113v1M31 131v1M32 116v1M32 121v2M33 83v4M33 102v3M33 111v3M34 103v3M34 108v1M34 123v2M34 133v2M35 98v5M35 105v4M35 113v8M36 83v7M36 92v4M36 115v6M37 95v6M38 98v3M38 106v7M39 82v2M39 109v2M40 84v6M40 125v1M40 135v2M41 121v1M43 89v2M43 96v1M43 114v2M43 120v3M43 130v6M44 98v3M44 111v2M44 117v2M44 124v1M44 132v2M45 95v2M45 98v2M45 116v6M45 126v3M45 133v2M45 137v1M46 136v1M47 95v2M47 99v1M47 103v1M47 123v3M48 95v3M48 104v2M48 110v6M48 121v1M48 131v1M49 81v3M49 88v2M50 88v3M50 100v2M50 117v4M50 124v1M51 89v3M51 96v1M51 102v4M51 113v2M51 121v1M52 89v7M52 101v3M53 111v1M53 115v1M53 142v1M54 92v2M54 99v6M54 112v2M54 140v1M55 86v9M55 109v4M55 118v2M56 81v2M56 91v3M56 118v3M56 128v1M56 142v1M57 95v5M57 102v2M57 106v2M57 110v1M58 106v4M58 119v6M58 137v1M58 140v1M59 88v1M59 96v1M59 130v2M59 140v1M60 96v4M60 103v4M61 86v1M61 93v8M61 107v5M61 126v2M62 100v2M62 107v13M62 124v4M63 80v5M63 88v6M63 114v1M63 118v3M63 125v1M63 128v2M63 141v1M64 91v2M64 103v2M64 117v2M64 123v1M64 135v1M66 92v7M66 116v2M66 119v4M66 127v1M67 84v7M67 108v2M67 114v4M67 125v2M67 131v1M68 84v4M68 112v3M68 122v1M68 126v1M68 141v1M69 113v2M69 116v2M69 125v1M70 84v2M70 92v1M70 142v1M71 84v3M71 88v6M71 132v2M71 137v1M72 94v1M72 98v2M72 120v2M72 137v1M73 89v5M73 108v2M73 122v2M75 127v2M76 91v5M76 101v2M76 125v1M77 105v7M77 117v1M78 94v2M78 97v2M78 114v2M78 142v1M79 89v16M80 94v2M80 100v3M80 106v3M80 111v2M80 142v1M81 87v6M81 96v3M81 114v2M81 120v2M81 134v1M81 136v1M82 94v2M82 116v2M82 140v1M83 85v3M84 112v5M84 122v1M84 141v1M85 100v10M85 114v2M86 95v2M86 100v2M86 114v1M86 138v1M87 113v5M87 138v3M88 97v5M89 104v3M90 96v8M91 106v3M91 130v3M92 113v1M93 83v3M93 126v2M94 107v3M95 98v6M95 113v1M96 112v1M96 132v1M97 93v3M97 111v1M98 113v2M98 141v1M99 113v1M100 100v4M100 126v2M100 130v1M101 109v1M101 124v1M102 97v3M102 129v1M103 102v4M104 106v2M105 110v1M105 123v1M105 125v1M105 136v1M106 107v1M107 102v3M107 141v1M108 84v13M108 119v2M108 122v1M108 125v1M109 93v4M109 105v1M109 127v1M110 112v1M110 122v1M110 124v3M111 105v1M111 127v1M111 140v1M112 104v1M112 120v1M113 120v1M114 96v1M114 124v2M114 128v1M115 102v6M115 110v1M115 114v2M116 92v9M116 102v1M117 104v1M117 122v2M118 125v1M118 130v1M119 106v1M119 134v1M119 140v1M120 103v1M120 123v1M120 134v1M120 137v2M121 100v1M121 118v1M121 128v1M122 99v1M122 120v4M122 126v2M123 100v2M123 125v2M123 130v1M124 91v9M124 126v1M125 115v1M125 138v1M126 92v3M126 124v1M126 131v1M126 133v1M126 141v1M127 90v9M127 118v6M127 135v1M127 139v1M128 93v3M128 110v1M128 120v3M128 124v1M128 141v1M129 97v1M129 118v3M129 122v1M129 136v1M130 94v3M130 98v1M130 117v1M130 128v4M130 140v1M131 94v2M131 127v1M131 133v3M132 92v2M132 128v1M132 131v1M132 139v1M133 103v1M133 111v1M133 115v4M133 127v6M134 84v9M134 95v1M134 110v2M134 141v1M135 94v1M135 119v1M135 132v3M136 88v3M136 121v1M136 123v6M136 133v1M137 97v1M137 131v2M138 94v1M138 125v1M138 128v1M138 133v1M138 136v1M139 93v1M139 119v1M140 114v1M140 123v5M140 134v2M140 140v1M141 89v2M141 113v1M141 131v1M142 87v2M142 113v2M142 116v4M142 121v2M142 132v1M143 92v1M143 113v1M143 116v1M143 123v1M143 139v2M144 84v5M144 113v1M144 121v5M144 130v1M145 108v2M145 124v1M146 101v1M146 106v1M146 127v4M146 136v2M147 125v4M148 110v1M148 121v1M148 127v1M148 134v1M149 87v1M149 107v1M149 113v1M149 138v1M149 140v1M150 87v1M150 111v1M150 113v3M150 122v4M150 127v1M151 86v1M151 101v1M151 105v1M151 108v2M151 116v1M151 121v1M152 84v1M152 108v1M152 126v1M153 85v1M153 104v1M153 108v2M153 121v1M153 130v2M153 138v1M154 104v1M154 140v1M155 83v1M155 120v1M155 123v1M156 80v2M156 107v1M156 133v1M156 139v2M157 116v3M157 122v1M158 82v1M158 106v2M158 121v5M158 129v1M158 140v1M159 101v1M159 104v1M159 109v1M159 113v1M159 121v1M160 113v3M160 141v1M161 107v2M161 123v4M161 131v1M162 81v1M162 96v1M162 101v1M162 113v4M162 120v1M162 125v1M162 135v2M163 81v1M163 111v3M163 141v1M164 81v1M164 114v1M164 120v1M164 133v5M166 79v1M166 107v1M166 141v1M167 108v3M167 122v1M167 139v1M168 80v1M168 93v1M168 99v1M168 122v1M168 129v5M169 103v2M169 110v1M169 130v2M169 138v1M170 101v1M170 104v1M170 117v1M171 79v1M171 114v1M171 127v2M171 133v1M171 141v1M172 79v1M172 100v1M172 114v4M172 132v3M172 140v1M173 77v1M173 94v5M173 102v1M173 107v2M173 114v2M173 120v2M174 91v1M174 97v2M174 112v2M174 117v1M174 130v1M175 108v1M175 122v1M176 77v1M176 110v1M177 98v1M177 105v1M177 110v1M177 121v1M177 124v1M178 77v1M178 130v1M179 122v1M179 133v2M179 140v1M180 76v1M180 98v1M180 135v1M181 116v1M182 97v1M182 102v1M182 105v1M182 109v2M182 124v1M182 134v1M182 140v1M183 115v1M183 118v1M183 120v1M184 89v2M184 114v1M184 120v1M184 130v1M184 136v1M185 97v1M186 74v1M186 119v1M186 135v1M186 141v1M187 84v1M188 72v1M188 99v2M188 121v1M189 94v1M189 113v1M189 116v1M189 129v1M189 132v4M189 140v1M190 118v1M190 127v1M190 136v1M191 70v1M191 114v1M191 123v2M191 139v1M192 93v2M192 111v2M192 133v1M192 137v1M192 141v1M193 68v1M193 104v1M193 108v2M193 119v5M194 69v1M194 114v1M194 129v1M194 139v1M195 108v1M195 116v1M195 124v1M195 128v1M195 131v2M195 141v1M196 88v2M196 115v1M196 120v1M197 68v1M197 82v1M197 89v3M197 115v1M197 119v1M197 125v2M197 141v1M198 83v1M198 91v1M198 98v1M198 125v1M198 131v1M198 134v1M199 68v1M199 103v1M199 106v1M199 108v1M199 113v2M200 67v1M200 108v1M200 117v1M200 131v1M201 68v1M201 104v1M201 118v1M201 133v1M201 141v1M202 66v1M202 90v1M202 94v1M202 105v1M202 108v1M202 112v1M202 116v1M203 85v1M203 97v2M203 134v1M204 65v1M204 68v1M204 77v1M204 79v1M204 84v1M204 100v1M204 111v2M204 124v1M204 140v1M205 123v1M205 127v2M205 132v1M205 139v2M206 82v1M206 92v1M206 103v1M206 113v1M207 64v1M207 76v1M207 95v2M207 101v1M207 123v1M207 130v1M208 83v1M208 98v2M208 104v1M209 78v1M209 94v4M209 103v1M209 105v1M209 123v1M209 128v1M209 133v1M209 137v1M210 76v1M210 93v1M210 100v1M210 129v2M211 63v2M211 80v3M211 84v2M211 114v1M211 131v1M211 140v1M212 61v1M212 84v2M212 88v3M212 100v1M212 114v2M212 128v1M212 130v1M213 77v1M213 113v4M213 127v1M214 115v1M214 131v1M214 135v1M215 76v3M215 82v1M215 110v1M215 131v2M216 73v1M216 86v1M216 90v2M216 102v1M216 139v1M217 60v1M217 73v4M217 81v1M217 89v1M217 112v4M217 122v1M218 95v2M218 102v1M219 89v7M219 132v1M220 69v1M220 84v1M220 98v1M220 104v1M220 115v1M220 136v1M221 76v12M221 93v1M221 110v1M221 125v1M221 134v1M221 136v1M221 139v1M222 71v1M222 83v1M222 92v1M222 98v1M222 100v1M222 120v1M222 124v1M222 126v1M223 97v1M223 99v3M223 116v1M223 125v1M224 56v1M224 77v5M224 88v1M224 97v1M224 103v6M224 118v1M224 121v3M224 129v1M225 81v1M225 86v6M225 103v1M225 112v1M225 117v2M225 127v1M225 136v1M226 55v1M226 68v1M226 72v2M226 97v2M226 133v2M227 75v12M227 91v1M227 94v2M227 97v1M228 56v1M228 73v1M228 77v4M228 93v2M228 123v3M229 54v1M229 66v1M229 68v5M229 104v1M229 107v1M229 115v5M229 127v1M229 137v1M230 69v1M230 79v2M230 85v1M230 89v2M230 122v1M230 128v1M231 56v1M231 73v3M231 88v1M231 122v1M231 136v1M232 71v6M232 79v8M232 97v1M232 101v1M232 104v2M232 107v3M232 113v1M232 117v1M232 119v1M232 125v3M232 140v1M233 79v2M233 114v1M233 120v3M234 53v1M234 63v1M234 77v1M234 81v2M234 88v1M234 91v1M234 110v2M234 141v1M235 65v1M235 69v1M235 77v10M235 93v2M235 119v1M235 140v1M236 60v1M236 67v1M236 69v2M236 75v1M236 81v1M236 87v1M236 92v1M236 95v1M236 109v3M236 135v1M237 80v2M237 89v1M237 92v1M237 94v1M237 99v1M237 101v1M237 128v1M237 130v1M238 50v1M238 82v2M238 87v1M238 92v1M238 95v1M238 118v4M239 50v1M239 65v4M239 106v1M239 113v1M239 135v1M239 140v1M240 62v4M240 67v2M240 70v2M240 85v1M240 101v1M240 122v1M240 137v1M241 50v1M241 84v1M241 88v1M241 91v1M241 119v1M241 122v3M241 141v1M242 69v5M242 75v2M242 88v1M242 110v3M242 121v1M242 134v3M243 56v1M243 74v2M243 110v1M243 112v1M243 125v1M243 134v1M244 60v2M244 87v1M244 116v1M244 126v4M245 48v1M245 89v1M245 94v1M246 63v8M246 73v1M246 80v1M246 91v1M246 100v1M246 140v1M247 69v8M247 109v1M247 112v1M247 128v1M247 140v1M248 47v1M248 58v1M248 61v4M248 75v1M248 93v2M249 95v1M249 122v1M249 128v1M249 138v1M250 54v1M250 59v3M250 67v9M250 85v1M250 95v1M250 118v1M250 123v1M250 140v1M251 56v1M251 72v2M252 50v1M252 56v1M252 69v4M252 81v1M252 121v1M253 56v2M253 63v11M253 77v3M253 138v1M254 45v1M254 52v3M254 65v4M254 72v2M254 82v1M254 90v1M254 97v3M254 103v1M254 119v1M254 128v1M254 130v1M254 141v1M255 49v1M255 52v1M255 55v1M255 72v2M255 80v1M255 102v1M255 140v1M256 44v1M256 63v2M256 77v1M256 86v1M256 137v1M256 141v1M257 58v2M257 64v4M257 71v1M257 75v1M257 77v1M257 87v1M258 43v1M258 51v1M258 53v1M258 72v1M258 81v1M259 42v1M259 51v1M259 62v3M259 74v1M259 140v2M260 50v1M260 65v1M260 73v1M260 78v2M260 81v2M260 86v1M260 94v1M261 51v1M261 65v2M261 70v1M261 78v1M261 86v1M261 90v1M261 96v1M261 107v1M262 52v9M262 79v1M262 81v1M262 133v1M263 64v3M264 42v1M264 45v1M264 60v3M264 76v1M264 92v1M264 122v1M265 41v1M265 52v5M265 75v2M265 78v3M265 119v1M265 122v1M265 131v1M265 137v1M265 140v1M266 44v1M266 49v1M266 136v1M267 58v5M267 68v2M267 79v3M267 89v1M267 94v1M267 118v1M268 52v4M268 60v2M268 64v2M268 70v3M268 84v1M268 98v1M269 48v1M269 62v1M269 74v2M269 81v1M269 83v1M269 96v1M270 41v2M270 57v3M270 119v1M270 134v1M271 39v1M271 41v1M271 49v2M271 64v4M271 100v2M272 73v1M272 87v1M272 103v1M272 106v1M273 41v1M273 48v1M273 63v3M273 121v1M273 138v1M274 45v1M274 63v2M274 141v1M275 38v1M275 61v9M275 71v2M275 113v1M275 131v1M275 133v1M276 43v1M276 74v1M276 84v1M276 92v2M276 96v1M276 112v1M276 115v1M277 37v1M277 71v2M278 45v1M278 61v2M278 66v2M278 81v2M278 98v1M278 142v1M279 61v6M279 69v1M279 74v1M279 94v1M279 134v1M280 35v1M280 44v1M280 59v5M280 83v1M280 86v1M280 94v1M280 100v2M280 142v1M281 38v1M281 60v3M282 36v1M282 63v5M282 70v2M282 83v1M282 103v1M282 106v1M282 119v1M282 123v1M282 128v1M282 136v1M283 34v1M283 63v4M283 71v2M283 89v1M283 140v1M284 41v1M284 117v3M284 130v1M285 35v1M285 41v1M285 62v7M285 79v3M285 88v1M286 65v6M286 94v1M286 105v2M286 131v1M287 32v1M287 68v3M287 72v4M287 83v1M287 91v2M287 137v3M288 91v1M288 103v1M288 111v1M289 76v4M289 96v1M289 125v1M290 35v1M290 74v1M290 95v2M290 134v1M291 36v2M291 66v3M291 73v5M292 63v3M292 73v2M292 78v1M292 85v1M292 87v1M292 92v1M292 103v1M293 30v1M293 34v2M293 78v3M293 86v3M293 136v1M294 83v1M294 128v1M295 28v1M295 37v1M295 109v1M296 80v1M296 93v1M296 101v1M296 112v1M297 64v6M297 74v1M297 77v2M297 116v1M297 118v1M297 124v1M297 141v1M298 77v4M298 83v2M298 87v2M298 104v1M298 121v2M299 26v1M299 71v3M299 76v1M299 95v1M299 100v1M299 106v1M299 120v1M299 141v1M300 29v1M300 75v3M300 123v1M300 131v2M301 66v3M301 74v2M301 81v1M301 86v1M301 141v1M302 30v1M302 91v2M302 108v1M303 24v1M303 29v1M303 66v3M303 71v2M303 82v5M303 136v1M304 27v2M304 73v4M304 79v3M304 101v1M304 128v1M305 25v4M305 84v1M305 87v1M305 105v2M305 131v1M306 80v2M306 88v1M306 102v1M306 141v1M307 63v3M307 97v1M307 111v2M307 126v1M308 81v2M308 89v2M308 109v1M308 115v1M308 141v1M309 56v7M309 75v1M309 80v1M309 97v2M309 104v1M309 133v1M309 138v1M310 74v1M310 82v1M310 109v1M310 137v1M311 65v2M311 71v2M311 83v4M311 110v1M311 135v1M311 141v1M312 88v1M312 90v1M312 115v1M312 133v1M312 136v1M313 68v5M313 80v1M313 82v1M313 90v1M313 98v4M313 121v1M313 136v2M314 75v2M314 141v1M315 70v9M315 103v1M315 110v1M315 116v1M315 119v1M315 129v1M316 66v3M316 75v1M316 86v4M316 107v1M316 129v1M317 92v1M317 116v1M317 141v1M318 83v2M318 86v1M318 92v1M318 97v1M318 107v2M318 118v1M318 131v2M319 73v5M319 92v1M319 96v1M319 139v1M320 66v2M320 80v3M320 94v2M320 107v1M320 109v1M320 115v1M320 139v1M321 69v1M321 86v2M321 99v1M321 118v1M322 86v2M322 137v1M323 105v1M323 124v1M323 140v1M324 66v2M324 80v2M324 95v1M324 98v1M324 111v1M324 117v1M325 83v1M325 133v1M325 135v1M326 71v5M326 81v2M327 67v10M327 82v3M327 88v1M327 105v1M327 116v1M327 132v1M327 140v1M328 80v4M328 139v1M329 65v4M329 119v1M329 128v1M329 131v1M329 141v1M330 67v11M330 81v1M330 86v1M330 94v1M330 97v1M330 101v1M330 114v1M330 118v1M330 134v1M330 139v1M331 74v1M332 64v2M332 86v1M332 104v1M332 127v1M332 140v1M333 81v1M333 89v1M333 95v1M333 132v1M334 79v1M334 90v1M334 93v1M335 77v2M335 91v1M335 118v6M335 128v1M335 134v1M336 66v4M336 94v2M336 137v4M337 70v4M337 88v2M337 91v1M337 140v1M338 73v9M338 103v1M338 121v1M338 141v1M339 71v9M339 82v2M339 87v3M339 97v2M339 106v1M339 116v2M339 136v1M339 141v1M340 78v2M340 83v1M340 90v1M340 141v1M341 61v5M341 73v4M341 79v2M341 82v1M341 97v1M341 109v1M341 112v1M342 74v5M342 102v1M343 71v8M343 85v2M343 90v1M343 97v1M343 141v1M344 74v1M344 116v2M345 80v1M345 93v2M345 139v1M346 81v3M346 139v1M347 75v1M347 82v1M347 109v1M348 58v9M348 82v4M348 138v1M349 75v3M349 80v1M349 98v1M350 76v7M350 92v1M350 98v1M350 101v2M350 131v1M350 133v1M350 138v1M351 89v2M351 138v1M352 60v6M352 74v2M352 120v1M352 123v1M352 131v1M354 77v2M354 82v3M354 89v1M354 92v1M354 112v1M354 119v1M354 131v1M355 118v1M356 83v5M356 94v1M356 102v1M356 105v1M356 136v1M357 84v1M358 83v2M358 98v1M358 100v1M358 108v1M358 140v1M359 63v5M359 73v4M359 141v1M360 77v1M360 86v1M360 120v2M361 82v1M361 112v1M361 139v1M362 73v4M362 118v1M362 120v1M363 67v2M363 71v2M363 79v5M363 132v1M364 60v9M365 70v1M365 81v1M365 85v1M365 95v1M365 100v1M365 115v1M366 92v1M366 94v1M366 107v1M366 112v2M366 126v1M366 132v2M367 73v2M367 92v1M367 94v1M367 100v1M367 122v1M367 124v1M367 130v1M368 68v2M368 77v2M368 80v2M368 87v1M368 110v1M368 121v1M369 71v2M369 79v1M369 83v2M369 89v1M369 108v1M370 67v5M370 73v1M370 78v1M370 103v1M370 111v1M370 119v1M370 127v1M370 141v1M371 76v1M371 93v1M371 107v1M371 132v1M372 80v1M372 122v1M372 141v1M373 77v1M373 97v1M373 106v1M373 122v1M373 140v1M374 74v3M374 84v1M374 102v1M374 108v1M374 126v1M374 132v1M374 137v3M375 104v1M375 108v1M375 119v1M375 127v1M376 81v1M376 83v1M376 121v2M377 76v2M377 84v1M377 130v1M378 75v2M378 82v1M378 98v2M378 137v3M379 70v3M379 74v2M379 80v2M379 119v1M379 129v1M379 135v1M380 81v1M380 133v1M381 64v7M381 86v1M381 135v1M382 70v4M382 77v1M382 104v1M383 81v1M383 87v1M383 89v1M383 93v1M383 131v1M383 136v1M383 138v2M384 73v1M384 81v1M384 84v1M384 101v1M384 112v1M385 71v4M385 101v1M385 107v1M386 78v1M386 85v1M386 98v3M387 72v1M387 77v1M387 83v1M387 98v1M388 66v4M388 77v1M388 82v1M388 104v1M388 114v1M388 116v1M388 121v2M388 136v1M388 140v1M389 56v13M389 123v2M389 128v1M390 64v9M390 118v1M390 121v1M391 97v1M391 141v1M392 80v1M392 94v1M393 77v1M393 111v2M393 114v1M393 121v1M393 128v1M393 136v2M394 74v2M394 79v1M394 82v1M394 85v1M394 91v2M394 97v1M395 71v2M395 87v1M395 90v1M395 126v1M395 141v1M396 65v4M396 75v1M396 78v1M396 92v1M396 98v1M396 119v1M397 72v1M397 98v1M397 112v1M397 115v1M397 125v1M398 75v6M398 88v1M398 93v1M398 101v1M398 121v2M398 129v1M398 141v1M399 70v3"/>
<path stroke="#424289" d="M0 108v2M0 122v6M1 129v8M2 96v3M2 117v1M2 127v2M2 136v1M3 94v8M3 119v2M3 129v3M4 86v1M4 99v3M5 89v7M5 99v8M5 109v6M5 123v7M7 112v9M8 95v3M8 113v4M9 123v2M10 89v5M10 97v4M10 128v2M14 107v4M14 132v2M15 92v5M15 127v4M16 82v5M16 90v5M16 106v7M16 123v3M17 104v3M17 110v4M17 117v3M17 134v2M18 86v6M18 95v2M18 133v3M19 96v4M19 121v2M19 124v9M20 108v5M20 122v2M20 128v2M21 111v3M22 95v4M22 129v4M23 86v3M23 97v2M24 91v22M25 134v3M26 100v6M26 112v3M26 122v2M26 127v6M27 95v2M29 86v5M29 92v2M29 119v3M30 98v4M31 92v13M31 114v5M31 125v6M32 117v4M34 109v3M34 116v7M35 103v2M35 109v4M36 96v4M36 112v3M38 101v5M39 84v7M39 95v2M39 105v4M40 126v9M43 91v5M43 97v12M43 110v4M44 101v6M44 108v3M44 113v4M45 97v1M45 122v4M45 129v4M45 135v2M47 97v2M47 104v19M47 126v1M47 137v1M48 106v4M48 116v5M48 132v1M48 142v1M49 84v4M49 128v1M49 143v1M50 91v9M50 125v1M50 143v1M51 97v5M51 106v2M51 110v3M51 122v6M52 133v1M52 141v1M53 116v1M53 122v7M55 130v1M56 83v8M56 121v2M56 126v2M56 129v1M57 100v2M57 108v2M58 125v5M58 136v1M59 89v7M60 131v1M60 141v1M61 128v2M61 141v1M62 102v5M62 120v4M62 135v1M62 139v1M63 115v3M63 126v2M64 93v2M64 98v5M64 119v4M64 131v1M65 139v2M66 118v1M66 123v4M66 128v1M67 110v4M67 118v2M67 123v2M67 127v1M67 133v1M68 88v7M68 103v9M68 123v3M69 115v1M69 126v1M70 86v6M70 125v1M71 87v1M71 138v1M72 95v3M73 110v2M73 114v2M73 121v1M73 142v1M74 140v1M75 99v2M75 104v11M75 116v4M75 129v1M75 141v1M76 103v14M76 141v1M77 112v5M77 123v1M78 96v1M78 116v3M79 125v1M80 103v3M80 123v1M81 93v3M81 116v4M81 122v1M81 135v1M82 118v1M83 141v1M84 117v1M84 128v2M85 116v2M85 141v1M86 97v3M86 115v2M86 136v1M87 118v1M88 102v15M89 107v8M90 104v3M90 110v5M90 126v1M90 140v1M91 109v3M91 116v1M92 134v1M93 141v1M94 110v2M94 141v1M95 114v1M95 141v1M96 113v1M96 134v1M96 141v1M97 134v1M98 116v1M99 109v1M100 114v1M101 110v1M101 123v1M101 139v1M102 100v6M103 106v2M103 133v1M103 141v1M104 138v1M107 105v2M107 140v1M108 121v1M109 106v1M110 127v1M111 113v2M111 126v1M111 132v2M112 132v1M112 141v1M113 104v1M113 126v1M114 103v1M114 121v1M116 118v1M116 123v1M116 132v1M117 112v1M117 114v1M117 121v1M117 124v1M117 141v1M118 105v1M118 121v1M118 123v2M118 140v1M119 115v1M119 125v6M119 133v1M119 135v1M120 122v1M120 124v1M120 128v1M120 135v2M120 139v2M121 141v1M122 119v1M122 124v2M122 128v1M122 141v1M123 102v1M123 124v1M123 131v3M123 141v1M124 111v1M124 127v1M124 141v1M125 101v1M125 139v2M126 95v4M126 115v1M126 125v1M126 130v1M126 134v1M127 124v3M128 96v2M128 108v1M128 125v1M129 111v1M129 117v1M129 123v1M129 133v3M130 116v1M130 132v1M130 139v1M131 96v1M131 136v1M132 94v1M132 120v3M132 127v1M132 132v1M132 135v4M133 100v1M133 114v1M133 119v1M133 124v3M134 112v1M134 128v2M136 91v2M136 114v1M136 120v1M136 129v1M137 112v1M138 115v3M138 123v2M138 129v1M138 132v1M139 129v1M140 113v1M140 128v6M140 136v2M140 139v1M141 91v1M142 89v1M142 112v1M142 115v1M142 120v1M142 123v2M143 114v2M143 124v1M143 128v4M143 138v1M144 89v1M144 131v2M145 93v1M145 107v1M145 110v1M145 123v1M146 88v1M146 111v1M147 108v1M147 113v1M147 118v3M147 124v1M148 88v1M148 103v1M148 126v1M148 131v3M149 112v1M149 117v1M149 134v1M149 139v1M150 107v1M150 112v1M150 121v1M150 128v1M150 137v1M151 100v1M151 104v1M151 117v1M151 140v1M152 85v1M152 102v2M152 127v3M153 103v1M153 122v1M153 129v1M153 132v1M154 93v1M154 99v1M154 108v1M154 113v1M154 131v5M155 105v1M155 121v2M156 82v1M156 106v1M156 134v1M156 138v1M157 112v1M157 123v4M157 132v1M158 105v1M158 108v1M158 119v2M158 130v1M158 139v1M159 85v1M159 99v2M159 105v1M159 114v1M160 83v1M160 137v1M161 103v1M161 109v1M161 122v1M161 127v4M162 97v1M162 117v3M162 126v4M162 134v1M162 140v1M163 110v1M163 114v2M164 111v1M164 113v1M164 115v1M165 81v1M165 103v4M165 133v1M166 100v1M166 120v2M166 129v6M167 80v1M167 106v2M167 123v1M168 100v1M168 110v2M168 114v2M168 121v1M168 134v1M168 140v1M169 78v1M169 111v2M169 127v3M169 139v2M170 79v1M170 99v1M170 102v2M170 128v2M170 140v1M171 98v1M171 115v2M171 134v1M172 121v1M172 130v2M172 135v1M173 103v1M173 105v2M173 109v1M173 113v1M173 116v1M173 119v1M173 135v1M174 99v1M174 111v1M174 114v3M174 136v1M175 107v1M175 109v2M175 117v5M176 101v1M176 111v1M176 141v1M177 76v1M177 96v2M177 109v1M177 132v1M178 141v1M179 101v1M179 106v1M179 112v1M179 123v2M179 132v1M179 135v5M180 97v1M180 118v2M180 132v3M181 77v1M181 100v2M181 122v2M181 131v2M182 75v1M182 91v1M182 106v3M182 115v1M182 121v3M182 125v2M182 129v2M183 76v1M183 96v1M183 112v3M183 119v1M184 73v1M184 88v1M184 107v1M184 109v1M184 119v1M184 126v1M184 137v4M185 73v1M185 89v1M185 95v2M185 102v1M185 138v1M186 75v1M186 84v1M186 110v1M186 116v3M186 130v1M186 134v1M186 137v1M187 97v1M187 99v1M187 121v1M187 124v1M187 129v1M188 73v1M188 122v1M188 136v1M189 71v1M189 125v1M189 136v1M189 139v1M190 73v1M190 111v1M190 116v2M190 124v3M190 140v1M191 72v1M191 115v3M191 125v1M192 70v1M192 95v1M192 110v1M192 113v1M192 132v1M193 95v1M193 103v1M193 114v5M193 124v2M193 140v1M194 107v1M194 115v1M194 121v2M194 128v1M194 130v2M195 69v1M195 77v1M195 120v4M195 130v1M196 90v1M196 107v1M196 111v1M196 116v2M196 119v1M196 133v1M196 136v1M197 83v1M197 88v1M197 92v1M197 96v1M197 101v1M197 105v1M197 131v1M198 68v1M198 84v2M198 112v1M198 122v3M198 126v1M199 92v1M199 104v2M199 109v1M199 112v1M199 140v1M200 81v3M200 107v1M200 118v1M200 128v1M201 98v1M201 132v1M201 134v1M202 67v3M202 100v5M202 120v1M202 130v1M203 66v1M203 81v1M203 86v2M203 96v1M203 99v1M203 124v3M204 80v4M204 101v1M204 110v1M205 67v1M205 79v4M205 87v8M205 112v2M205 117v1M205 124v3M205 129v1M205 131v1M206 66v1M206 81v1M206 93v1M206 96v3M206 102v1M206 104v1M206 112v1M206 118v1M207 127v1M208 64v1M208 82v1M208 112v1M208 119v1M208 133v2M209 66v1M209 77v1M209 98v5M209 106v1M209 132v1M210 64v1M210 94v1M210 104v1M210 112v1M210 120v1M210 131v1M210 140v1M211 65v1M211 78v2M211 86v4M211 95v4M211 113v1M211 118v1M211 123v1M211 125v3M212 79v3M212 83v1M212 101v1M212 107v1M212 113v1M212 116v1M212 127v1M212 137v4M213 76v1M213 91v1M213 102v3M213 112v1M213 117v2M213 120v4M214 61v1M214 84v2M214 92v3M214 111v4M214 132v3M215 79v3M215 83v1M215 104v6M215 130v1M215 133v2M215 138v3M216 72v1M216 74v1M216 78v1M216 87v3M216 109v5M216 119v1M216 121v1M216 129v1M217 77v4M217 90v2M217 96v4M217 107v1M217 116v6M217 138v3M218 90v1M218 94v1M218 97v1M218 101v1M218 120v1M218 124v2M219 58v1M219 68v1M219 96v2M219 121v1M219 126v1M219 135v1M219 140v1M220 85v2M220 97v1M220 105v1M220 114v1M220 124v1M221 74v2M221 94v2M221 109v1M221 115v1M221 118v1M221 133v1M221 137v2M222 84v5M222 91v1M222 99v1M222 127v3M223 57v1M223 98v1M223 102v1M223 121v1M223 124v1M224 75v2M224 89v2M224 93v4M224 119v2M224 124v5M224 138v2M225 60v1M225 77v4M225 92v1M225 97v6M225 113v1M225 116v1M225 128v1M225 135v1M226 74v2M226 78v6M226 95v2M226 99v1M226 132v1M227 57v1M227 71v4M227 92v2M227 96v1M227 107v1M227 109v3M227 115v1M227 122v1M227 125v1M228 70v3M228 95v1M228 101v4M228 115v2M228 122v1M228 126v2M228 140v1M229 105v2M229 120v1M229 126v1M229 135v1M230 54v1M230 68v1M230 81v4M230 91v1M230 96v2M230 117v1M231 70v3M231 89v3M231 112v2M231 117v1M231 128v1M231 135v1M231 137v3M232 53v1M232 69v2M232 77v2M232 98v3M232 106v1M232 110v1M232 118v1M232 128v1M232 134v2M233 72v7M233 103v1M233 106v2M233 117v1M233 119v1M233 123v1M233 134v1M234 65v1M234 72v5M234 83v5M234 92v1M234 97v1M234 130v2M235 55v1M235 70v7M235 95v3M235 120v1M235 135v2M236 51v1M236 68v1M236 82v5M236 93v2M236 96v1M236 108v1M236 116v1M236 124v1M236 130v1M237 51v1M237 82v7M237 93v1M237 100v1M237 114v1M237 127v1M237 131v1M237 140v1M238 51v1M238 62v1M238 88v1M238 90v2M238 96v1M238 116v2M238 131v2M239 125v2M239 131v1M240 51v1M240 61v1M240 69v1M240 86v1M240 91v2M240 126v1M240 129v1M240 140v1M241 89v1M241 103v2M241 118v1M241 132v2M241 139v1M242 66v3M242 74v1M242 89v1M242 98v2M242 109v1M242 113v2M242 120v1M242 133v1M242 137v3M243 49v1M243 88v1M243 128v1M243 135v1M244 88v1M244 100v2M244 122v1M244 125v1M244 130v1M245 61v13M245 83v6M245 90v1M245 98v1M245 108v2M245 124v1M246 48v1M246 74v4M246 79v1M246 102v1M246 113v1M246 120v2M247 89v1M247 94v1M247 108v1M247 113v1M247 134v1M248 76v5M248 101v2M249 87v1M249 94v1M249 106v1M249 116v1M249 123v1M249 126v1M250 53v1M250 55v1M250 58v1M250 86v1M250 90v1M250 115v3M250 139v1M251 46v1M251 54v2M251 74v6M251 114v2M251 138v1M252 84v2M253 47v1M253 55v1M253 58v5M253 74v3M253 80v3M253 88v1M253 115v1M253 131v1M253 134v1M254 51v1M254 74v8M254 96v1M254 104v1M255 46v1M255 74v1M255 79v1M255 87v1M255 112v1M255 132v1M256 50v2M256 53v1M256 78v1M256 132v1M257 53v1M257 60v4M257 72v3M257 88v3M257 141v1M258 44v1M258 73v1M258 80v1M258 84v1M258 107v1M259 75v1M259 84v3M259 132v1M260 45v1M260 49v1M260 66v2M260 69v4M260 80v1M260 93v1M260 95v1M260 108v1M261 67v3M261 79v1M262 43v1M262 51v1M262 61v3M262 72v3M262 78v1M262 130v1M263 49v1M263 79v1M263 83v1M263 138v1M264 63v1M264 74v2M264 77v2M264 108v2M264 121v1M264 139v1M265 51v1M265 57v3M265 69v2M265 73v2M265 77v1M265 123v1M265 132v1M265 138v2M266 95v1M266 109v1M266 124v1M266 140v1M267 42v1M267 45v1M267 70v2M267 78v1M267 98v1M268 43v1M268 50v2M268 56v4M268 66v4M268 73v2M268 83v1M268 99v1M269 63v4M269 70v4M269 76v1M269 80v1M269 141v1M270 43v1M270 45v1M270 60v3M270 140v1M271 40v1M271 68v2M271 87v1M271 114v1M271 126v1M271 135v1M271 138v1M272 74v1M272 79v1M272 88v1M272 93v2M272 137v1M273 66v3M273 71v2M273 80v3M273 88v1M273 92v1M273 122v1M273 129v1M273 135v1M273 137v1M274 65v1M275 39v1M275 45v1M275 70v1M275 140v1M276 40v1M276 75v1M276 79v1M276 89v1M276 111v1M276 116v1M276 141v1M277 41v3M277 45v1M277 73v1M277 93v1M277 99v2M278 37v1M278 68v10M278 80v1M278 83v1M278 99v1M278 110v1M278 117v1M278 121v1M278 128v1M278 131v1M279 67v2M279 75v1M279 98v1M279 140v1M280 77v1M280 87v1M280 102v1M281 36v2M281 63v7M281 115v1M282 40v1M282 72v3M282 78v1M282 94v1M282 107v3M282 118v1M282 141v1M283 35v1M283 67v4M283 73v5M283 85v4M284 33v1M284 79v2M284 105v2M284 116v1M284 120v1M285 87v1M285 100v1M285 114v2M285 124v1M285 128v1M286 38v2M286 80v1M286 84v2M286 95v1M286 111v1M286 125v1M286 132v1M287 84v2M287 136v1M288 34v1M288 39v1M288 92v1M288 114v1M289 80v1M289 90v1M289 103v1M289 106v1M289 120v1M290 36v2M290 75v2M291 30v1M291 69v4M291 78v3M291 141v1M292 31v1M292 66v7M292 79v3M292 86v1M292 95v1M292 106v1M293 33v1M293 81v1M293 89v1M293 137v1M293 141v1M294 87v4M294 98v1M294 102v2M294 125v1M294 138v2M295 29v1M295 36v1M295 82v1M295 92v1M295 108v1M295 110v1M295 135v2M295 139v1M296 84v3M296 108v1M296 130v1M296 141v1M297 75v2M297 79v2M297 115v1M297 119v1M297 123v1M297 138v1M298 29v1M298 85v2M298 89v1M298 106v1M298 137v1M298 140v1M299 27v4M299 74v2M299 86v1M299 94v1M299 107v1M299 124v1M299 131v2M300 26v1M300 78v1M300 96v1M300 114v1M301 69v5M301 88v1M301 94v1M302 25v1M302 86v1M302 93v1M302 100v8M302 115v1M302 118v1M302 123v1M302 125v1M303 25v1M303 28v1M303 69v2M303 73v3M303 79v3M303 87v1M304 88v1M304 100v1M304 110v1M304 120v1M304 127v1M304 141v1M305 85v2M305 94v1M305 126v1M305 130v1M306 82v1M307 86v1M308 83v1M308 88v1M308 97v1M308 102v1M308 128v1M309 63v12M309 81v5M309 102v1M309 105v1M309 127v1M309 139v2M310 83v1M310 113v1M310 117v1M310 136v1M310 141v1M311 67v4M311 87v1M311 109v1M311 111v1M312 89v1M312 95v1M312 120v1M312 132v1M312 137v1M312 139v1M313 73v2M313 78v2M313 83v1M313 102v1M313 115v6M314 77v4M315 79v1M315 88v1M315 104v3M316 90v1M316 116v1M316 128v1M317 93v2M317 96v1M317 117v2M318 87v1M318 101v2M318 117v1M318 119v1M318 130v1M318 137v1M318 141v1M319 93v3M319 97v1M319 108v1M320 68v8M320 78v2M320 110v1M320 112v1M321 117v1M321 129v1M321 140v1M322 91v1M323 108v1M323 125v1M323 128v1M323 133v1M324 68v12M324 82v1M324 87v1M324 99v1M324 101v2M324 110v1M324 140v1M325 84v1M325 125v1M325 134v1M326 83v6M326 102v2M326 109v1M326 114v1M327 77v5M327 85v3M327 89v5M327 99v1M327 106v1M327 115v1M327 130v1M328 84v2M329 69v4M329 120v1M329 127v1M329 132v1M329 140v1M330 82v4M330 89v1M330 107v2M330 132v2M331 75v2M331 82v1M331 97v1M332 91v1M332 108v1M332 123v4M332 136v1M333 82v1M333 105v3M333 113v3M333 140v1M334 91v2M334 111v1M335 79v3M335 87v1M335 92v1M335 117v1M335 124v1M335 127v1M335 141v1M336 70v10M336 93v1M337 74v7M337 86v2M337 92v1M337 123v1M337 137v1M338 82v1M338 88v1M339 80v2M339 84v3M339 107v1M340 80v3M340 87v1M340 89v1M340 93v1M340 106v1M341 66v7M341 77v2M341 83v1M341 87v3M341 123v1M342 79v2M342 141v1M343 79v6M343 91v3M343 132v1M344 75v2M344 95v3M344 103v1M344 115v1M344 118v1M344 139v1M345 81v2M345 92v1M345 95v1M346 93v1M347 76v6M347 87v1M347 90v6M347 97v1M347 103v1M347 115v1M347 126v1M347 134v1M347 140v1M348 67v7M348 81v1M348 86v1M349 81v1M349 85v1M350 83v2M350 89v3M350 99v2M351 86v3M351 91v1M351 109v1M351 123v1M351 131v1M351 137v1M352 66v8M352 106v1M352 141v1M354 79v3M354 85v1M354 93v1M354 100v1M354 104v1M354 136v1M355 102v1M355 117v1M355 123v1M356 133v1M357 85v1M357 117v1M357 140v1M358 85v2M358 109v1M359 68v5M359 77v2M359 84v4M359 108v1M359 114v1M359 126v1M360 78v1M360 83v3M360 91v1M360 137v1M360 140v1M362 77v2M362 95v1M362 121v1M362 132v1M363 69v2M363 73v6M363 84v1M363 127v1M364 137v1M365 86v1M365 101v1M365 108v2M365 116v1M365 124v1M365 141v1M366 88v1M366 91v1M366 105v1M366 114v1M366 127v1M366 134v1M366 141v1M367 93v1M367 101v2M367 115v1M367 119v1M368 79v1M368 88v1M368 106v1M368 127v1M369 73v2M369 78v1M369 85v1M369 93v1M369 98v1M369 140v1M370 74v2M370 77v1M370 94v1M370 107v4M370 133v1M371 77v1M371 111v1M371 121v3M371 131v1M371 133v1M371 140v1M372 81v3M372 93v1M372 115v1M372 135v2M373 78v1M373 81v3M373 96v1M373 99v1M373 107v1M373 118v4M373 128v1M374 77v4M374 115v3M374 123v1M375 86v1M375 109v1M375 128v1M375 137v1M376 82v1M376 89v1M376 92v2M376 96v1M376 120v1M377 78v1M377 87v1M377 124v1M377 128v2M379 73v1M379 91v1M379 118v1M379 137v1M380 79v2M380 86v1M380 109v1M380 113v1M381 89v1M381 93v1M381 121v2M381 134v1M381 141v1M382 74v3M382 81v1M382 97v1M382 108v1M382 115v1M382 133v1M382 138v1M383 82v1M383 86v1M383 90v3M383 135v1M384 74v7M384 90v1M384 100v1M384 102v3M384 111v1M384 125v1M384 141v1M385 75v2M385 90v1M385 94v1M385 100v1M385 108v1M386 83v2M386 101v1M386 118v1M387 73v4M387 84v1M387 89v1M387 140v1M388 83v1M388 93v1M388 98v1M388 103v1M388 109v1M388 120v1M388 123v1M388 130v1M388 137v3M389 69v6M389 122v1M389 140v1M390 73v2M390 122v5M390 140v1M391 107v1M392 81v1M392 85v1M392 90v1M392 93v1M392 120v1M392 126v1M392 136v1M393 78v2M393 87v2M393 95v1M393 98v1M393 104v1M393 109v2M393 115v1M393 120v1M394 76v3M394 83v2M394 119v1M394 121v1M394 126v1M395 73v4M395 86v1M395 98v1M395 135v1M396 69v6M396 79v1M396 81v3M396 99v1M396 118v1M396 120v1M396 138v1M397 73v1M397 88v1M397 99v1M397 113v2M397 116v5M397 136v1M398 81v2M398 87v1M398 94v1M398 96v1M398 120v1M398 123v1M398 132v1M399 73v3M399 84v1M399 91v1M399 95v5"/>
<path stroke="#3d4d8c" d="M0 110v12M2 129v7M3 102v17M5 115v8M16 87v3M16 113v10M18 92v3M19 123v1M20 113v9M23 89v8M26 115v7M29 91v1M31 119v6M34 112v4M36 100v12M39 91v4M39 97v8M43 109v1M44 107v1M47 127v2M50 126v1M51 108v2M51 128v1M51 142v1M53 117v5M53 129v2M56 123v3M58 130v1M58 135v1M63 130v1M64 95v3M64 132v1M65 129v1M65 138v1M66 138v1M67 120v3M67 130v1M68 95v8M68 134v1M69 127v1M69 140v1M72 126v1M73 112v2M73 116v5M73 124v1M74 131v1M74 135v2M75 101v3M75 115v1M75 120v3M75 126v1M75 130v1M76 117v2M76 138v3M78 119v2M81 131v1M82 119v1M83 122v1M83 140v1M84 118v1M84 126v2M86 139v2M89 115v1M89 130v2M89 138v1M90 107v3M90 115v1M90 125v1M90 127v1M91 112v4M91 119v1M91 129v1M92 138v1M92 140v1M93 125v1M93 138v3M94 112v1M94 121v1M95 115v1M97 135v1M99 110v1M99 115v1M99 123v1M100 120v1M100 131v1M100 134v1M101 111v1M101 125v1M101 138v1M102 106v3M103 108v1M104 108v1M105 122v1M105 126v1M106 108v1M107 107v1M107 138v2M108 113v1M108 126v1M108 140v1M109 107v1M109 120v1M110 121v1M110 140v1M111 106v1M111 115v2M111 125v1M111 128v1M111 131v1M111 134v1M111 139v1M112 105v1M112 119v1M113 119v1M113 127v2M113 141v1M114 129v1M114 132v1M114 138v1M115 113v1M115 141v1M116 127v2M117 105v1M117 120v1M118 122v1M119 131v2M119 139v1M120 121v1M120 125v3M121 105v2M121 129v1M122 100v3M122 118v1M122 129v1M123 123v1M123 134v1M124 100v1M124 105v1M124 128v1M125 114v1M126 99v2M126 126v1M126 135v2M127 99v1M127 127v1M127 134v1M128 126v1M128 139v2M129 112v1M129 116v1M129 124v1M129 132v1M130 99v1M130 115v1M130 133v2M130 137v2M131 97v1M131 120v7M131 137v1M131 140v1M132 95v1M132 119v1M132 123v2M132 126v1M132 133v2M133 112v2M133 120v4M134 113v1M134 126v2M134 130v2M134 140v1M135 95v1M135 117v2M136 93v1M136 113v1M136 115v1M136 119v1M136 130v3M138 95v1M138 118v5M138 130v2M138 137v1M138 140v1M139 118v1M139 139v1M140 91v1M140 112v1M140 138v1M141 92v2M141 112v1M141 132v1M141 140v1M142 90v1M142 111v1M142 125v7M143 93v1M143 104v1M143 125v3M143 132v1M143 136v2M144 112v1M144 133v2M144 140v1M145 106v1M145 111v1M145 118v5M146 107v1M146 110v1M147 114v1M147 116v2M147 121v3M148 122v4M149 108v2M149 111v1M149 118v2M149 122v3M149 133v1M150 88v1M150 116v1M150 120v1M150 129v1M151 87v1M151 102v2M151 118v3M151 130v1M152 104v1M152 107v1M152 130v1M152 135v6M153 86v1M153 101v2M153 123v1M153 128v1M153 133v1M153 137v1M154 87v1M154 103v1M154 111v2M154 114v2M154 126v5M154 136v1M154 139v1M155 84v1M156 83v1M156 135v3M157 86v1M157 111v1M157 127v2M157 131v1M157 133v1M157 140v1M158 83v1M158 99v6M158 109v1M158 115v4M158 131v1M158 138v1M159 97v2M159 106v3M159 115v2M159 120v1M160 138v1M160 140v1M161 83v1M161 110v1M161 119v3M162 98v3M162 130v1M162 133v1M162 137v3M163 82v1M163 103v1M163 116v2M163 124v3M163 135v2M164 82v1M164 95v1M164 112v1M164 116v1M164 119v1M165 101v2M165 107v1M165 110v1M166 80v2M166 99v1M166 108v2M166 119v1M166 122v7M166 135v2M167 102v4M167 124v4M167 138v1M168 81v1M168 101v2M168 106v4M168 112v2M168 116v1M168 135v1M169 79v1M169 113v4M169 125v2M170 98v1M170 122v1M170 127v1M170 138v2M171 117v1M171 126v1M171 129v1M171 132v1M171 135v1M171 140v1M172 95v2M172 99v1M172 122v1M172 129v1M172 136v1M172 139v1M173 78v1M173 104v1M173 110v3M173 117v2M173 122v1M173 134v1M174 78v1M174 89v1M174 96v1M174 100v1M174 110v1M174 131v1M175 99v4M175 106v1M175 111v6M176 78v1M176 100v1M176 112v1M176 118v1M177 77v1M177 95v1M177 106v1M177 108v1M177 122v2M177 128v1M178 118v2M178 127v1M178 137v1M179 107v1M179 111v1M179 125v2M179 131v1M180 77v1M180 92v5M181 99v1M181 102v1M181 114v2M181 124v1M181 133v1M182 98v1M182 101v1M182 116v5M182 127v2M182 135v1M182 139v1M184 87v1M184 108v1M184 115v1M184 118v1M184 129v1M185 114v3M185 125v2M185 137v1M186 76v1M186 103v3M187 98v1M187 122v2M188 74v1M188 86v1M188 123v1M188 131v1M189 87v1M189 112v1M189 117v2M189 124v1M189 126v3M189 137v2M190 95v1M190 137v1M191 126v2M191 138v1M192 71v1M192 92v1M192 114v1M192 131v1M192 138v1M192 140v1M193 83v2M193 93v2M193 96v1M193 101v2M193 110v1M193 113v1M193 126v2M193 134v1M193 139v1M194 102v1M194 116v5M194 123v1M194 127v1M194 132v3M195 79v1M195 104v4M195 117v3M195 129v1M195 133v1M196 87v1M196 91v1M196 106v1M196 108v3M196 118v1M196 129v1M196 139v1M197 69v1M197 84v1M197 87v1M197 93v3M197 104v1M197 116v1M197 118v1M197 132v1M197 140v1M198 86v1M198 90v1M198 99v1M198 127v2M198 130v1M198 135v1M198 140v1M199 69v1M199 85v2M199 110v2M199 115v1M199 136v4M200 68v1M200 88v2M200 102v1M200 104v3M200 119v3M200 132v1M200 139v1M201 69v1M201 99v1M201 103v1M201 119v1M201 131v1M201 135v1M201 140v1M202 70v1M202 86v4M202 95v1M202 99v1M202 109v3M202 117v3M202 138v1M203 88v2M203 92v4M203 100v1M203 118v6M203 127v1M203 133v1M204 102v3M204 109v1M204 125v1M204 134v2M204 139v1M205 76v3M205 83v4M205 95v2M205 106v3M205 110v2M205 114v1M205 130v1M206 77v4M206 94v2M206 99v3M206 105v7M206 124v1M206 132v1M207 65v1M207 75v1M207 102v4M207 122v1M207 128v2M208 65v1M208 80v2M208 105v1M208 120v1M208 140v1M209 107v1M209 122v1M209 129v3M210 75v1M210 95v1M210 99v1M210 111v1M210 128v1M210 132v1M210 135v1M210 139v1M211 76v2M211 90v5M211 99v1M211 119v1M211 121v2M211 124v1M211 128v3M212 62v1M212 78v1M212 82v1M212 106v1M212 108v1M212 117v1M212 124v3M212 131v1M212 136v1M213 75v1M213 92v10M213 105v1M213 119v1M213 124v3M214 80v4M214 86v6M214 95v2M214 110v1M215 68v1M215 84v3M215 101v3M215 118v1M215 129v1M215 135v3M216 60v1M216 75v3M216 103v1M216 108v1M216 120v1M216 130v1M216 132v7M217 61v1M217 72v1M217 92v4M218 91v3M218 98v3M218 121v3M218 126v1M218 131v1M219 98v1M219 120v1M219 127v1M219 130v2M220 61v1M220 87v10M220 106v1M220 112v2M220 125v1M220 135v1M221 62v1M221 72v2M221 96v2M221 108v1M221 116v2M221 126v1M222 57v1M222 70v1M222 89v2M222 121v3M223 69v1M223 103v1M223 115v1M223 122v2M224 57v1M224 73v2M224 91v2M225 72v5M225 93v4M225 114v2M225 133v2M226 67v1M226 76v2M226 84v11M226 100v1M226 104v4M226 131v1M227 58v1M227 68v3M227 108v1M227 112v3M227 123v2M228 57v1M228 68v2M228 96v5M228 105v2M228 114v1M228 117v1M228 128v1M228 130v3M229 55v1M229 65v1M229 121v1M229 125v1M229 136v1M230 66v2M230 92v4M230 98v1M230 127v1M231 68v2M231 92v4M231 111v1M231 114v1M231 123v1M231 127v1M231 129v1M231 134v1M232 61v1M232 67v2M232 111v2M232 133v1M232 139v1M233 65v7M233 104v2M233 118v1M234 66v6M234 93v4M234 98v1M234 109v1M234 112v1M234 125v3M234 129v1M234 132v1M234 140v1M235 64v1M235 121v2M235 129v1M235 137v3M236 97v1M236 107v1M236 117v1M236 134v1M237 62v1M237 115v1M237 119v8M238 52v1M238 89v1M238 97v1M238 104v2M238 122v1M238 130v1M238 133v1M238 140v1M239 57v1M239 107v1M239 112v1M239 127v4M239 136v1M239 138v2M240 87v1M240 89v2M240 93v2M240 96v5M240 104v1M240 121v1M240 138v2M241 51v1M241 60v1M241 90v1M241 100v1M241 102v1M241 115v3M241 140v1M242 52v1M242 61v5M242 90v1M242 97v1M242 100v1M242 107v2M242 130v1M242 132v1M243 89v1M243 93v4M243 109v1M243 126v2M243 136v1M243 139v1M244 51v1M244 59v1M244 89v6M244 99v1M244 102v1M244 107v3M244 115v1M244 123v2M244 131v1M244 138v1M245 49v1M245 59v2M245 74v9M245 91v1M245 93v1M245 110v1M246 57v1M246 78v1M246 96v1M246 101v1M246 119v1M246 128v1M246 135v1M247 48v1M247 90v1M247 99v1M247 105v3M247 114v2M248 48v1M248 57v1M248 81v2M248 86v2M248 92v1M248 95v1M248 100v1M248 103v2M248 141v1M249 88v1M249 112v1M249 124v2M249 129v1M249 137v1M250 48v1M250 56v2M250 87v3M250 114v1M250 138v1M251 80v2M252 82v2M252 86v1M252 120v1M252 128v1M252 140v1M253 54v1M253 83v2M253 87v1M253 89v1M254 111v1M254 118v1M254 122v1M254 131v1M255 75v4M255 88v3M255 103v1M255 131v1M255 133v1M255 139v1M256 45v1M256 49v1M256 52v1M256 79v1M256 85v1M256 110v1M257 50v1M257 78v1M257 81v1M257 118v1M257 121v1M258 50v1M258 74v6M258 106v1M258 108v1M258 141v1M259 50v1M259 76v8M260 46v3M260 68v1M260 87v1M260 101v1M260 123v1M260 141v1M261 80v1M261 85v1M261 106v1M261 109v1M262 64v8M262 75v3M262 82v1M262 100v2M262 141v1M263 80v1M263 95v1M263 116v1M264 43v2M264 64v4M264 70v4M264 79v5M264 87v1M264 107v1M264 120v1M265 42v1M265 60v9M265 71v2M265 81v1M265 96v1M265 100v1M265 118v1M265 136v1M266 45v1M266 82v1M267 72v6M267 82v7M267 95v1M267 97v1M267 141v1M268 75v1M268 82v1M268 104v1M268 137v2M268 141v1M269 41v1M269 67v3M269 77v3M269 90v1M270 44v1M270 63v7M270 83v1M270 114v1M271 45v1M271 48v1M271 70v7M271 81v1M271 93v1M271 130v1M272 75v1M272 78v1M272 89v1M272 92v1M272 95v1M272 98v5M273 42v1M273 47v1M273 69v2M273 73v2M273 79v1M273 83v1M273 87v1M273 89v1M273 136v1M274 66v8M274 90v1M274 113v1M274 137v1M275 85v1M275 109v1M275 134v1M275 139v1M276 41v2M276 85v1M276 101v2M276 110v1M277 38v3M277 44v1M277 74v2M277 92v1M277 94v1M277 136v1M278 44v1M278 78v2M278 84v3M278 97v1M278 109v1M278 111v1M279 76v1M279 81v1M279 93v1M279 131v1M279 135v3M280 43v1M280 78v1M280 82v1M280 88v1M280 93v1M280 117v2M281 70v10M281 103v1M281 141v1M282 75v3M282 84v1M282 87v1M282 110v1M282 124v1M282 127v1M282 137v1M283 78v2M283 84v1M283 104v1M283 120v1M283 134v1M284 40v1M284 81v8M284 107v1M284 115v1M284 129v1M285 36v1M285 40v1M285 116v1M285 141v1M286 81v3M286 86v2M286 93v1M286 107v1M286 136v1M287 86v1M287 90v1M287 93v1M287 113v3M287 122v1M287 130v1M288 93v1M288 107v1M288 110v1M288 141v1M289 81v2M289 89v1M289 97v1M289 141v1M290 77v2M290 88v2M290 97v1M290 100v2M290 130v1M290 135v1M290 141v1M291 35v1M291 81v1M292 93v2M292 109v1M292 141v1M293 31v2M293 82v1M293 85v1M293 90v1M293 135v1M294 84v3M294 101v1M294 137v1M295 91v1M295 111v1M295 117v2M295 134v1M296 81v3M296 138v1M297 81v1M297 120v3M297 139v2M298 32v1M298 90v2M298 138v1M299 96v1M299 99v1M299 130v1M300 27v2M300 79v2M300 86v3M300 95v1M300 97v1M300 113v1M300 124v1M300 126v1M301 87v1M301 140v1M302 29v1M302 124v1M303 26v2M303 76v3M303 88v1M303 135v1M304 99v1M304 129v1M305 104v1M305 107v1M305 125v1M305 127v3M306 83v1M306 87v1M306 103v1M307 96v1M307 110v1M307 127v1M307 138v1M308 84v1M308 87v1M308 91v1M308 95v2M308 98v1M308 114v1M309 86v1M309 96v1M309 99v3M310 84v1M310 114v3M310 138v1M312 112v1M312 116v1M312 119v1M312 121v1M312 130v2M312 138v1M313 75v3M313 84v1M313 89v1M313 103v1M313 114v1M314 81v4M314 121v3M314 132v4M314 140v1M315 80v6M315 87v1M315 111v1M315 115v1M315 120v1M315 123v3M315 128v1M315 131v1M315 136v1M316 91v1M316 95v1M316 100v1M316 120v1M317 95v1M317 119v1M317 137v4M318 103v1M318 106v1M318 109v1M318 116v1M318 120v1M318 128v2M319 107v1M319 109v1M319 138v1M320 76v2M320 83v6M320 93v1M320 96v1M320 106v1M320 111v1M320 116v1M320 127v3M322 128v1M322 134v3M323 101v1M323 104v1M323 116v1M323 126v2M323 139v1M324 83v1M324 85v2M324 88v1M324 93v2M324 100v1M324 103v1M324 109v1M324 118v1M325 95v3M326 89v2M326 92v1M326 101v1M326 108v1M326 140v1M327 94v1M327 98v1M327 104v1M327 111v2M327 114v1M327 117v1M328 86v3M328 138v1M329 73v8M329 90v2M329 121v1M329 126v1M329 135v1M330 98v1M330 115v1M330 117v1M330 121v1M331 77v5M331 136v1M332 87v1M332 90v1M332 92v1M332 117v2M332 122v1M332 139v1M333 83v6M333 96v1M333 103v2M333 108v1M333 112v1M333 123v1M333 139v1M334 139v1M335 82v3M335 86v1M335 125v2M336 80v1M336 96v1M336 124v1M337 81v5M337 119v1M338 83v2M338 86v2M338 89v2M338 97v1M338 104v1M339 122v1M339 124v1M339 140v1M340 88v1M340 105v1M340 107v2M340 140v1M341 84v3M341 90v1M341 96v1M341 108v1M341 113v1M341 120v1M341 126v1M342 81v1M342 101v1M342 107v1M343 129v1M344 77v3M344 93v2M344 98v1M344 102v1M344 104v1M344 119v6M345 83v3M345 122v2M345 138v1M346 106v1M347 88v2M347 96v1M347 121v3M347 125v1M348 74v7M348 87v4M348 104v1M348 137v1M349 82v1M349 84v1M349 139v1M350 130v1M350 134v1M351 108v1M352 134v1M353 113v1M353 126v1M353 132v1M353 141v1M354 86v3M354 94v1M354 99v1M354 106v1M354 132v1M355 103v1M355 108v3M355 113v2M356 95v1M356 132v1M356 134v2M357 86v1M357 113v1M357 128v3M358 87v6M358 101v1M358 107v1M359 79v5M359 88v1M359 107v1M359 125v1M359 127v1M360 79v4M360 92v1M360 100v1M360 105v2M360 122v1M360 131v1M360 138v2M361 83v2M361 98v2M361 103v1M362 79v2M362 94v1M362 117v1M362 122v1M362 125v3M363 85v1M363 97v1M363 128v1M364 84v1M364 98v1M364 103v1M364 129v1M365 87v1M365 94v1M365 102v1M365 107v1M365 110v1M365 114v1M365 123v1M366 89v2M366 95v1M366 108v1M366 111v1M366 125v1M366 128v1M366 131v1M367 103v1M367 120v2M367 125v1M367 129v1M368 89v4M368 111v1M368 126v1M368 128v2M368 139v1M369 75v3M369 86v3M369 97v1M369 109v1M370 76v1M370 96v1M370 104v1M370 106v1M370 120v4M370 126v1M370 136v2M370 140v1M371 78v2M371 86v2M371 108v1M371 110v1M371 124v1M371 139v1M372 123v1M372 134v1M372 137v1M373 79v2M373 84v1M373 90v3M373 105v1M373 108v1M373 110v3M373 117v1M374 81v3M374 93v1M374 101v1M374 114v1M374 118v1M374 127v1M374 131v1M375 87v1M375 110v1M376 90v2M376 94v2M376 108v1M376 123v1M376 133v1M377 79v1M377 83v1M377 110v3M377 121v1M377 125v1M377 127v1M378 83v1M378 92v1M378 100v1M378 136v1M379 107v3M379 120v1M379 136v1M380 132v1M381 87v2M381 98v2M381 104v1M381 112v1M381 120v1M381 136v1M382 82v2M382 105v1M382 116v1M382 140v1M383 83v3M383 132v1M384 85v1M384 88v2M384 95v1M384 126v1M384 128v1M385 77v2M385 81v4M385 97v3M385 109v5M385 117v2M385 132v1M386 79v1M386 82v1M386 115v1M386 140v1M387 85v1M387 99v1M387 113v2M387 125v5M388 84v1M388 88v3M388 113v1M388 117v1M389 75v2M389 94v1M389 121v1M390 75v9M390 117v1M390 127v1M390 139v1M391 98v1M391 101v1M391 140v1M392 82v3M392 91v2M392 104v1M392 108v3M392 117v3M393 80v2M393 89v2M393 103v1M393 105v1M393 108v1M393 116v4M394 98v1M394 105v1M394 120v1M394 127v3M394 139v1M395 77v4M395 85v1M395 91v1M395 99v1M395 125v1M396 80v1M396 84v5M396 91v1M396 100v2M396 131v1M396 140v1M397 74v7M397 87v1M397 100v1M397 105v1M397 126v1M397 135v1M397 137v3M398 83v4M398 95v1M398 102v1M398 119v1M398 124v1M398 128v1M398 136v2M399 76v1M399 83v1M399 92v1M399 94v1M399 140v1"/>
<path stroke="#38588f" d="M47 129v1M47 136v1M48 133v1M49 129v1M50 127v1M51 129v1M51 137v1M52 140v1M53 131v1M55 131v1M55 141v1M57 132v1M58 131v1M58 134v1M60 132v1M61 130v1M61 136v1M62 136v1M63 131v1M64 133v2M65 130v1M66 129v1M67 128v2M67 141v1M70 126v1M74 134v1M74 139v1M75 123v3M76 119v3M76 124v1M76 128v1M76 136v2M77 124v1M77 140v1M78 121v1M79 126v1M79 141v1M81 123v1M82 120v1M82 134v1M83 128v1M83 139v1M84 119v1M84 121v1M84 130v1M85 118v1M85 137v1M86 117v1M86 123v1M87 137v1M88 136v1M89 116v1M89 132v1M91 125v4M91 133v1M91 139v1M92 114v1M92 139v1M93 119v1M93 128v1M94 113v1M94 122v1M94 137v2M94 140v1M95 129v1M96 114v1M96 123v1M96 131v1M96 135v1M97 112v1M97 133v1M97 140v1M98 140v1M99 112v1M99 122v1M101 122v1M101 126v1M101 137v1M102 128v1M103 140v1M104 109v1M104 112v1M104 126v2M105 111v1M105 127v1M105 129v2M105 135v1M106 141v1M107 123v1M108 118v1M108 127v2M110 113v1M110 128v1M111 117v2M111 124v1M111 129v2M113 105v1M113 129v1M114 120v1M114 130v2M114 133v1M115 111v1M115 116v1M116 103v1M116 124v3M116 129v1M116 131v1M117 119v1M117 125v1M118 117v1M118 131v1M119 114v1M119 136v1M119 138v1M121 101v1M121 117v1M121 130v1M122 110v2M122 117v1M122 130v3M123 115v2M123 122v1M124 104v1M124 129v1M125 102v1M126 114v1M126 127v3M126 137v1M126 140v1M127 111v1M127 128v1M128 98v1M128 111v1M128 115v1M128 127v2M128 133v2M128 138v1M129 98v1M129 110v1M129 113v3M129 125v4M129 131v1M130 135v2M131 117v3M131 139v1M132 116v3M132 125v1M133 102v1M134 96v1M134 109v1M134 114v2M134 121v5M134 132v1M135 114v3M136 94v1M136 111v2M136 116v3M137 111v1M138 114v1M138 138v2M139 117v1M139 130v1M139 138v1M140 111v1M141 111v1M141 133v1M141 139v1M142 110v1M143 133v3M144 90v1M144 111v1M144 135v5M145 105v1M145 112v1M145 116v2M146 89v1M146 108v2M147 90v1M147 100v2M147 107v1M147 115v1M149 88v1M149 110v1M149 120v2M149 125v8M150 106v1M150 117v3M150 130v7M151 131v5M151 139v1M152 86v1M152 105v2M152 131v4M153 98v3M153 124v4M153 134v3M154 102v1M154 109v2M154 116v4M154 122v4M154 137v2M155 85v1M155 104v1M156 105v1M157 109v2M157 129v2M157 134v1M157 139v1M158 98v1M158 110v5M158 132v3M158 136v2M159 96v1M159 117v3M160 84v1M160 97v1M160 139v1M161 97v6M161 111v1M161 117v2M162 82v1M162 95v1M162 131v2M163 83v1M163 101v2M163 104v6M163 118v1M163 123v1M163 127v1M163 137v1M163 140v1M164 117v2M165 82v1M165 97v4M165 108v2M165 111v1M165 118v1M165 132v1M166 82v1M166 98v1M166 110v5M166 118v1M166 137v1M166 140v1M167 99v3M167 128v2M167 134v4M168 92v1M168 103v3M168 117v4M168 136v4M169 93v1M169 117v1M169 120v5M170 126v1M170 130v1M170 137v1M171 80v1M171 118v1M171 130v2M171 136v1M172 94v1M172 97v2M172 128v1M172 137v2M173 123v1M173 132v2M174 95v1M174 101v9M174 132v1M174 135v1M175 79v1M175 98v1M175 103v3M176 88v1M176 97v3M176 113v5M176 119v2M176 124v3M177 107v1M177 131v1M178 107v7M178 116v2M178 120v1M178 123v4M178 136v1M178 138v1M178 140v1M179 97v4M179 108v3M179 127v2M179 130v1M180 78v1M180 91v1M181 98v1M181 103v11M181 125v1M181 130v1M181 140v1M182 76v1M182 99v2M182 136v1M182 138v1M183 94v2M184 116v2M184 127v2M185 74v1M185 103v1M185 113v1M185 117v8M185 127v1M185 136v1M186 83v1M186 85v1M186 87v5M186 102v1M186 106v1M186 109v1M186 131v3M186 138v1M186 140v1M187 130v1M187 140v1M188 129v2M188 132v1M188 135v1M189 119v2M189 123v1M190 94v1M190 96v1M190 110v1M190 138v2M191 100v3M191 105v1M191 128v2M191 137v1M192 87v3M192 91v1M192 96v1M192 109v1M192 115v3M192 125v2M192 130v1M192 139v1M193 69v1M193 85v1M193 89v4M193 97v2M193 100v1M193 111v2M193 128v2M193 133v1M193 135v1M193 138v1M194 70v1M194 103v4M194 124v1M194 126v1M194 138v1M195 103v1M195 140v1M196 92v1M196 96v7M196 105v1M196 130v3M196 137v2M197 81v1M197 85v2M197 102v2M197 117v1M197 133v7M198 69v1M198 87v1M198 89v1M198 106v6M198 129v1M198 136v1M198 139v1M199 82v3M199 87v5M199 135v1M200 80v1M200 84v4M200 90v1M200 99v3M200 103v1M200 122v1M200 127v1M201 74v1M201 100v3M201 120v1M201 130v1M201 136v4M202 84v2M202 96v3M202 131v1M202 136v2M203 80v1M203 90v2M203 101v1M203 107v2M203 116v2M203 128v1M203 132v1M204 66v2M204 71v1M204 76v1M204 105v4M204 133v1M204 136v3M205 75v1M205 97v3M205 104v2M205 109v1M205 115v2M206 119v1M206 122v2M206 125v2M206 131v1M207 106v7M208 78v2M208 106v6M208 121v1M208 132v1M208 135v1M209 69v1M209 76v1M209 108v1M209 112v8M209 121v1M210 65v1M210 96v3M210 105v1M210 121v7M210 133v2M210 136v3M211 100v1M211 112v1M211 120v1M212 76v2M212 102v2M212 105v1M212 109v4M212 118v1M212 123v1M212 132v4M213 74v1M213 106v2M213 111v1M214 76v4M214 97v2M214 102v3M215 87v9M215 98v3M215 122v4M215 128v1M216 64v3M216 71v1M216 104v1M216 107v1M216 131v1M217 71v1M217 100v1M217 106v1M218 63v1M218 66v1M219 99v1M219 104v8M219 119v1M219 128v2M219 136v1M219 139v1M220 68v1M220 107v5M220 126v2M220 134v1M221 70v2M221 98v10M221 127v1M221 132v1M223 58v3M223 104v11M224 71v2M225 69v3M225 129v4M226 56v1M226 101v3M226 108v3M226 116v5M226 126v2M226 130v1M227 67v1M228 67v1M228 107v7M228 118v1M228 121v1M228 129v1M228 133v1M228 139v1M229 122v3M230 55v1M230 99v8M230 116v1M230 123v1M230 126v1M231 61v1M231 66v2M231 96v4M231 107v4M231 115v2M231 126v1M231 130v1M231 133v1M232 60v1M232 62v1M232 64v3M232 129v1M232 132v1M232 136v3M233 64v1M233 108v1M233 113v1M233 124v1M233 133v1M234 62v1M234 99v1M234 105v4M234 124v1M234 128v1M234 133v2M234 137v3M235 63v1M235 123v1M236 59v1M236 98v1M236 102v5M236 118v1M236 122v2M236 131v3M237 116v3M237 132v2M237 138v2M238 98v6M238 106v1M238 115v1M238 123v1M238 129v1M238 134v4M238 139v1M239 51v1M239 111v1M239 137v1M240 60v1M240 88v1M240 95v1M240 105v1M240 116v1M240 120v1M240 127v2M241 52v1M241 101v1M241 105v1M241 109v6M242 60v1M242 91v2M242 96v1M242 101v1M242 105v2M242 115v1M242 119v1M242 131v1M243 90v3M243 97v1M243 103v6M243 137v2M244 58v1M244 95v4M244 103v4M244 110v1M244 132v1M245 92v1M245 99v1M245 107v1M245 111v1M245 123v1M246 92v1M246 114v1M246 118v1M246 127v1M246 134v1M246 136v1M246 139v1M247 56v1M247 91v1M247 93v1M247 104v1M247 116v2M247 135v2M247 139v1M248 83v3M248 88v1M248 99v1M248 105v3M249 50v1M249 53v1M249 89v1M249 93v1M249 99v1M249 105v1M249 115v1M250 96v1M250 110v4M250 124v1M251 47v1M251 82v1M251 104v2M251 121v2M251 137v1M252 51v1M252 55v1M253 48v1M253 85v2M253 90v1M253 107v2M253 113v2M253 125v1M254 46v1M254 91v1M254 95v1M254 105v1M254 110v1M254 140v1M255 47v2M255 53v2M255 91v1M255 96v1M255 138v1M256 80v2M256 96v1M256 138v1M256 140v1M257 51v2M257 79v2M257 98v1M257 140v1M258 45v1M258 85v1M259 43v1M259 49v1M259 87v1M260 96v1M260 114v1M260 124v1M261 43v1M261 50v1M261 81v1M261 91v1M261 103v1M262 44v1M262 50v1M262 99v1M262 102v1M262 129v1M262 134v1M263 45v1M263 48v1M263 81v2M263 115v1M263 117v1M264 68v2M264 84v3M264 119v1M264 126v1M265 50v1M265 130v1M266 48v1M266 83v1M266 113v1M266 117v1M266 137v1M267 43v2M267 96v1M267 104v1M268 49v1M268 76v2M268 81v1M268 100v1M268 136v1M268 139v1M269 47v1M269 84v1M270 70v7M270 82v1M270 84v1M270 107v1M270 118v1M270 135v1M270 139v1M271 46v2M271 77v4M271 88v1M271 92v1M271 122v1M271 136v2M272 76v2M272 90v2M272 96v2M272 126v2M272 136v1M273 43v1M273 46v1M273 75v4M273 84v3M273 90v2M273 98v1M273 123v1M273 128v1M274 41v1M274 44v1M274 74v8M274 91v1M274 124v1M274 138v1M275 40v1M275 44v1M276 76v3M276 103v1M276 117v1M277 76v4M277 98v1M277 101v1M278 38v1M278 87v1M278 141v1M279 77v4M279 82v2M279 138v2M280 36v1M280 42v1M280 79v3M280 89v1M280 92v1M280 103v1M280 119v1M280 141v1M281 80v2M281 119v1M282 85v2M282 102v1M282 111v1M282 116v2M282 125v2M283 80v4M283 117v3M283 139v1M284 34v1M284 89v1M284 108v1M284 126v1M285 37v3M285 113v1M285 117v1M285 129v3M286 88v2M286 96v1M286 104v1M286 108v1M286 110v1M286 118v1M286 139v1M287 33v1M287 37v1M287 87v3M287 116v6M287 135v1M288 38v1M288 108v1M288 124v2M289 83v2M289 87v2M289 126v1M290 79v4M290 87v1M290 94v1M290 98v2M290 102v1M290 136v3M291 31v1M291 34v1M291 82v1M291 119v1M291 126v1M291 140v1M292 32v1M292 34v1M292 107v1M292 117v1M293 83v2M293 91v1M294 99v1M294 104v1M294 129v1M295 30v1M295 35v1M295 83v1M295 93v1M295 112v1M295 119v1M295 137v2M296 87v1M296 92v1M296 102v1M296 113v1M297 82v1M297 114v1M298 30v2M298 97v2M298 107v1M298 115v1M298 139v1M299 87v1M299 93v1M299 97v2M299 113v2M299 119v1M299 128v2M299 133v1M300 81v5M300 89v6M300 110v3M300 125v1M301 95v4M302 26v3M302 87v1M302 90v1M302 94v1M302 96v4M302 116v2M303 89v2M303 112v1M303 134v1M304 89v1M304 111v1M304 123v1M304 126v1M305 124v1M306 84v3M306 104v1M306 116v2M306 123v2M307 87v1M307 95v1M307 105v1M307 109v1M307 128v1M308 85v2M308 92v3M308 99v1M308 101v1M308 110v1M308 113v1M308 129v1M308 140v1M309 87v1M309 106v1M310 85v1M310 108v1M310 118v1M310 135v1M310 140v1M311 88v1M311 132v1M311 140v1M312 96v1M312 100v4M312 117v2M312 122v1M312 129v1M313 85v4M314 85v5M314 101v3M314 117v4M314 124v1M314 131v1M314 136v2M314 139v1M315 86v1M315 112v3M315 126v2M316 92v3M316 106v1M316 117v1M316 119v1M317 120v2M317 136v1M318 88v1M318 91v1M318 98v3M318 104v2M318 126v2M319 98v1M319 110v7M319 119v3M320 89v4M320 105v1M320 126v1M320 130v1M320 138v1M321 100v1M321 116v1M322 92v3M322 123v1M322 132v2M323 102v2M323 109v1M324 84v1M324 89v4M324 128v2M324 139v1M325 85v1M326 91v1M326 93v1M326 104v2M326 107v1M326 115v1M326 125v2M326 134v1M327 95v1M327 97v1M327 100v1M327 107v1M327 110v1M327 113v1M327 133v1M327 139v1M328 89v2M328 103v1M328 131v2M329 81v9M329 92v1M329 107v1M329 122v4M329 133v2M330 90v1M330 93v1M330 99v2M330 116v1M330 131v1M331 98v1M331 106v2M331 110v3M331 125v1M331 140v1M332 88v2M332 93v1M332 103v1M332 109v1M332 116v1M332 119v1M332 121v1M332 137v2M333 97v1M333 102v1M333 109v1M333 111v1M333 116v1M333 133v1M333 138v1M334 112v1M335 85v1M335 93v1M335 116v1M336 81v3M336 89v4M337 93v2M338 85v1M338 91v3M338 105v1M338 107v2M338 117v1M338 140v1M339 123v1M339 137v1M340 94v1M340 104v1M340 109v1M340 139v1M341 91v5M341 105v3M341 124v1M341 137v1M341 140v1M342 82v4M342 95v2M342 100v1M343 98v1M343 133v1M344 80v5M344 89v4M344 99v1M344 101v1M344 112v3M344 125v1M344 128v2M344 138v1M345 86v3M345 91v1M345 96v1M345 115v1M345 121v1M345 137v1M346 94v1M346 107v1M346 112v2M346 117v4M346 138v1M347 104v2M347 108v1M347 116v1M347 120v1M347 124v1M347 135v5M348 91v1M348 103v1M348 105v1M348 114v2M348 122v3M348 136v1M349 83v1M350 103v1M350 135v3M351 92v1M351 107v1M351 110v1M351 136v1M352 107v1M352 119v1M352 124v1M352 130v1M353 103v2M353 111v2M353 114v1M354 95v4M354 105v1M354 133v3M355 104v1M355 107v1M355 111v2M355 115v2M355 124v1M355 133v1M356 101v1M356 106v1M356 131v1M357 87v2M357 118v1M357 131v1M357 139v1M358 93v1M358 97v1M358 102v1M358 106v1M358 139v1M359 89v1M359 106v1M359 115v1M360 99v1M360 119v1M360 123v2M361 85v2M361 90v8M361 100v1M361 113v1M361 125v1M361 138v1M362 81v3M362 93v1M362 96v1M362 123v2M362 128v1M362 131v1M363 86v1M363 91v1M363 119v2M363 126v1M363 129v3M364 85v1M364 128v1M364 130v2M364 136v1M365 88v3M365 93v1M365 103v4M366 96v1M366 98v2M366 104v1M366 109v2M366 115v1M366 130v1M366 135v1M366 140v1M367 104v1M367 114v1M367 126v3M368 93v1M368 105v1M368 112v1M368 116v1M368 122v1M368 130v2M369 94v1M369 139v1M370 95v1M370 105v1M370 124v2M370 134v2M370 138v1M371 80v6M371 88v1M371 92v1M371 109v1M371 112v1M371 120v1M371 138v1M372 109v1M372 140v1M373 85v1M373 88v2M373 93v3M373 100v1M373 109v1M373 116v1M373 129v1M373 132v4M373 139v1M374 100v1M374 109v1M374 113v1M374 119v1M374 122v1M374 130v1M375 91v2M375 96v1M375 103v1M375 111v1M375 118v1M375 129v1M375 136v1M376 119v1M377 80v3M377 88v1M377 108v2M377 126v1M378 84v2M378 91v1M378 93v2M378 97v1M378 127v2M379 92v1M379 106v1M379 110v1M379 117v1M380 87v1M380 108v1M380 114v5M381 94v1M381 100v1M381 103v1M381 105v1M381 111v1M381 113v1M381 140v1M382 84v2M382 87v3M382 95v2M382 106v2M382 132v1M382 139v1M383 113v1M383 133v2M384 86v2M384 99v1M384 127v1M384 129v2M384 136v2M384 140v1M385 79v2M385 95v2M385 114v3M385 119v1M386 80v2M386 102v1M387 86v1M387 88v1M387 115v1M387 130v1M388 85v3M388 91v2M388 102v1M388 110v1M388 118v2M388 124v1M389 77v3M389 85v9M389 95v2M389 129v1M390 84v1M390 128v1M390 138v1M391 99v2M391 139v1M392 105v1M392 107v1M392 116v1M392 127v1M392 135v1M393 82v5M393 91v4M393 99v1M393 106v2M394 99v2M394 130v1M395 81v4M395 97v1M395 124v1M395 140v1M396 89v2M396 117v1M396 121v1M396 139v1M397 81v4M397 86v1M397 101v2M397 127v1M397 134v1M398 118v1M398 125v3M398 133v1M398 135v1M398 138v1M398 140v1M399 77v6M399 93v1M399 100v1M399 113v1M399 121v2"/>
<path stroke="#326490" d="M47 130v1M49 130v1M50 128v1M51 133v1M52 134v1M52 139v1M53 132v2M53 141v1M54 139v1M55 132v1M56 130v1M56 141v1M57 140v1M58 132v2M61 131v1M61 135v1M62 137v2M65 137v1M67 134v1M69 128v2M69 139v1M70 136v1M70 141v1M72 127v1M74 132v2M74 137v2M75 131v1M75 140v1M76 122v2M76 135v1M78 122v6M78 141v1M79 127v2M80 141v1M81 124v3M82 133v1M82 135v1M82 139v1M83 127v1M83 129v1M84 120v1M84 137v2M84 140v1M85 128v2M85 138v1M85 140v1M86 118v1M86 122v1M86 124v1M87 119v1M87 125v1M87 134v1M88 117v1M88 135v1M89 129v1M89 133v1M89 137v1M90 128v1M90 139v1M93 137v1M94 114v2M94 120v1M94 136v1M94 139v1M95 134v1M96 122v1M96 136v1M96 140v1M97 136v1M98 139v1M99 111v1M99 121v1M100 132v2M101 112v1M102 109v1M103 109v1M103 127v1M103 138v2M104 110v2M104 113v1M104 124v2M104 128v1M104 137v1M105 128v1M105 131v1M106 128v3M107 108v1M107 122v1M107 137v1M108 129v1M109 108v1M110 114v3M110 120v1M110 129v1M110 139v1M111 119v1M111 135v1M111 138v1M112 106v1M112 118v1M112 133v1M112 140v1M113 118v1M113 130v1M114 134v1M114 137v1M115 112v1M115 122v5M116 117v1M116 130v1M117 106v1M117 115v1M117 117v2M117 126v1M117 140v1M118 132v1M119 137v1M120 120v1M121 104v1M121 107v1M121 116v1M121 131v2M121 140v1M122 103v1M122 109v1M122 116v1M122 133v1M122 140v1M123 103v1M123 117v2M123 120v2M124 101v1M124 130v1M124 140v1M126 101v1M126 138v1M127 100v1M127 129v1M127 133v1M128 114v1M128 129v4M128 135v3M129 129v2M130 100v1M130 114v1M131 98v1M131 109v1M131 112v5M131 138v1M132 113v3M133 101v1M134 116v5M134 133v1M134 139v1M135 96v1M135 111v3M136 95v1M136 107v4M137 102v1M137 110v1M138 113v1M139 110v2M139 115v2M139 131v7M140 109v2M141 94v1M141 110v1M141 134v5M142 91v1M142 109v1M143 94v1M144 110v1M145 113v3M146 94v1M147 102v1M147 106v1M148 89v1M148 102v1M149 101v1M150 103v3M151 136v3M152 101v1M154 100v2M154 120v2M155 86v1M155 102v2M156 84v1M156 104v1M157 100v9M157 135v4M158 84v1M158 135v1M161 96v1M161 112v5M163 100v1M163 119v4M163 128v2M163 133v2M163 138v2M165 112v2M165 115v3M165 119v2M165 124v8M166 83v1M166 97v1M166 115v3M166 138v2M167 81v1M167 97v2M167 130v4M169 80v1M169 118v2M170 97v1M170 123v3M170 131v1M170 136v1M171 97v1M171 119v2M171 124v2M171 137v3M172 80v1M172 123v2M172 127v1M173 79v1M173 90v1M173 124v4M173 130v2M174 79v1M174 92v3M174 133v2M175 97v1M176 95v2M176 121v3M176 127v1M176 140v1M177 78v1M177 94v1M177 129v2M178 78v1M178 96v3M178 102v5M178 114v2M178 121v2M178 131v1M178 139v1M179 96v1M179 129v1M181 78v1M181 97v1M181 126v1M181 129v1M181 134v1M182 90v1M182 137v1M183 91v3M184 74v1M185 75v1M185 88v1M185 104v9M185 128v1M185 135v1M186 86v1M186 92v10M186 107v2M186 139v1M187 135v2M187 139v1M188 75v1M188 124v5M188 133v2M189 72v1M189 86v1M189 95v1M189 107v5M189 121v2M190 74v1M190 85v2M190 93v1M190 97v1M190 109v1M191 94v2M191 99v1M191 103v2M191 130v1M191 136v1M192 90v1M192 97v1M192 103v6M192 118v7M192 127v3M193 86v3M193 99v1M193 130v3M193 136v2M194 125v1M194 135v3M195 70v1M195 88v15M195 134v1M196 86v1M196 93v3M196 103v2M197 70v1M198 88v1M198 100v1M198 103v3M198 137v2M199 70v1M199 81v1M199 116v1M199 122v8M199 134v1M200 69v1M200 91v2M200 95v4M200 123v1M200 133v1M200 138v1M201 70v1M201 121v1M201 124v6M202 81v3M202 132v4M203 67v1M203 79v1M203 102v2M203 105v2M203 109v7M203 129v3M204 126v1M204 132v1M205 100v4M206 76v1M206 120v2M206 127v4M207 66v1M207 74v1M207 113v9M208 66v1M208 77v1M208 122v7M208 131v1M208 136v1M208 139v1M209 67v2M209 70v1M209 109v3M209 120v1M210 106v1M210 109v2M211 75v1M211 101v5M211 110v2M212 75v1M212 104v1M212 119v4M213 65v1M213 108v3M214 62v1M214 75v1M214 99v3M214 105v5M215 65v1M215 96v2M215 119v3M215 126v2M216 67v1M216 70v1M216 105v2M217 62v1M217 101v5M218 127v1M218 130v1M219 59v1M219 100v4M219 112v2M219 118v1M219 137v2M220 128v6M221 128v1M221 130v2M222 69v1M223 61v1M224 70v1M225 61v1M225 68v1M226 66v1M226 111v5M226 121v5M226 128v2M228 66v1M228 119v2M228 134v1M228 138v1M229 56v1M230 65v1M230 107v2M230 112v4M230 124v2M231 65v1M231 100v7M231 124v2M231 131v2M232 54v1M232 63v1M232 130v2M233 59v1M233 109v1M233 112v1M233 125v2M233 132v1M234 54v1M234 100v5M234 113v2M234 116v4M234 123v1M234 135v2M235 124v5M236 52v1M236 99v3M236 119v3M237 52v1M237 134v4M238 53v1M238 61v1M238 107v4M238 113v2M238 124v5M238 138v1M239 108v3M240 59v1M240 106v4M240 114v2M240 117v3M241 106v1M241 108v1M242 93v3M242 102v3M242 116v1M243 98v1M243 102v1M244 57v1M244 111v2M244 114v1M244 133v1M244 137v1M245 58v1M245 100v2M245 106v1M245 112v2M245 122v1M246 49v1M246 93v1M246 95v1M246 115v3M246 122v1M246 129v1M246 133v1M246 137v2M247 92v1M247 100v1M247 103v1M247 127v1M247 137v2M248 56v1M248 89v3M248 96v3M248 108v1M248 110v5M248 132v2M248 140v1M249 90v3M249 113v1M249 130v1M250 52v1M250 109v1M250 137v1M251 53v1M251 83v6M251 100v4M251 106v1M251 113v1M251 116v1M251 120v1M251 123v1M251 134v3M252 87v1M252 90v2M252 119v1M252 129v1M252 132v1M253 53v1M253 91v1M253 109v1M253 111v2M253 130v1M253 135v1M253 137v1M254 50v1M254 92v1M254 94v1M254 106v2M254 109v1M254 112v1M254 117v1M254 132v1M254 139v1M255 108v1M255 134v1M255 137v1M256 48v1M256 82v3M256 103v1M256 109v1M256 120v1M256 139v1M257 139v1M258 86v1M259 48v1M259 88v1M259 99v3M259 107v2M260 88v1M260 92v1M260 97v2M260 100v1M260 109v1M260 113v1M260 122v1M260 140v1M261 82v3M261 95v1M261 105v1M261 139v1M262 83v2M262 103v1M263 96v1M263 137v1M264 93v1M264 106v1M264 110v1M265 43v1M265 82v1M265 105v1M265 124v1M265 133v1M265 135v1M266 46v2M266 84v2M266 94v1M266 116v1M266 118v1M266 123v1M266 138v2M267 114v1M267 131v1M268 44v1M268 78v3M268 101v1M268 103v1M268 109v1M268 135v1M268 140v1M269 97v1M269 140v1M270 77v5M270 85v2M270 115v1M270 117v1M270 138v1M271 89v3M271 127v1M272 107v1M272 125v1M272 128v1M273 44v2M274 82v1M274 89v1M274 92v1M274 112v1M274 136v1M274 139v2M275 41v3M275 114v1M275 130v1M275 135v1M275 138v1M276 86v3M276 97v1M276 100v1M276 109v1M276 136v2M276 140v1M277 80v3M277 90v2M277 95v1M278 39v1M278 43v1M278 88v1M278 93v1M278 96v1M278 100v1M278 108v1M278 112v1M278 122v1M279 92v1M279 99v1M279 111v1M280 41v1M280 90v2M281 82v2M281 102v1M281 118v1M281 120v1M281 133v2M282 37v1M282 39v1M282 95v1M282 112v1M282 114v2M282 138v3M283 105v1M283 116v1M284 39v1M284 99v1M284 114v1M284 128v1M285 101v1M285 112v1M285 118v1M285 123v1M285 132v1M286 90v3M286 109v1M286 124v1M286 137v1M288 35v1M288 94v1M288 102v1M288 109v1M288 115v1M288 123v1M288 126v1M289 85v2M289 98v1M289 102v1M289 107v1M289 119v1M290 83v4M290 90v1M290 110v1M290 139v2M291 32v2M291 83v2M291 131v2M292 108v1M292 124v4M292 135v1M292 140v1M293 92v1M293 117v1M293 138v1M293 140v1M294 100v1M294 105v2M294 117v1M294 130v1M294 136v1M295 84v2M295 90v1M295 94v1M295 107v1M295 113v1M295 116v1M296 88v2M296 91v1M296 107v1M296 119v2M296 139v2M297 83v1M298 92v1M298 99v1M298 103v1M298 108v3M299 88v1M299 108v1M299 115v2M299 118v1M299 125v1M299 127v1M299 140v1M300 98v1M300 109v1M301 99v1M301 127v2M301 137v3M302 88v2M302 95v1M303 91v1M303 111v1M303 113v1M303 133v1M304 90v1M304 98v1M304 112v1M304 119v1M304 130v1M304 140v1M305 95v1M305 103v1M305 108v1M306 105v2M306 115v1M306 122v1M306 140v1M307 88v2M307 93v2M307 129v1M307 137v1M308 100v1M308 111v2M308 130v2M308 133v2M309 88v2M309 95v1M309 107v1M309 114v1M309 126v1M310 86v1M310 90v5M310 134v1M310 139v1M311 89v1M311 108v1M311 112v1M311 136v1M312 97v3M312 104v4M312 111v1M312 123v1M312 128v1M313 104v1M313 113v1M314 90v2M314 100v1M314 104v1M314 116v1M314 125v1M314 130v1M314 138v1M315 121v2M315 132v1M316 118v1M317 122v4M317 130v3M317 135v1M318 89v2M318 110v1M318 115v1M318 121v1M318 125v1M318 138v1M318 140v1M319 99v1M319 106v1M319 117v2M319 122v1M319 137v1M320 97v1M320 103v2M320 117v1M320 124v2M320 131v3M321 109v2M321 115v1M321 139v1M322 95v3M322 105v3M322 129v3M323 134v1M323 138v1M324 104v1M324 108v1M324 119v1M324 124v4M324 130v1M324 136v3M325 86v3M325 94v1M325 98v1M325 102v2M325 110v3M325 124v1M326 94v1M326 100v1M326 106v1M326 116v3M326 124v1M326 133v1M326 135v1M326 139v1M327 96v1M327 103v1M327 108v2M327 118v1M327 129v1M327 138v1M328 91v1M328 102v1M328 104v1M328 107v2M328 130v1M328 133v1M328 137v1M329 93v1M330 91v2M330 129v2M331 99v1M331 105v1M331 108v2M332 114v2M332 120v1M333 98v1M333 101v1M333 110v1M333 117v4M334 113v1M334 126v1M334 138v1M335 94v1M335 101v3M335 135v1M336 84v5M336 97v2M337 95v5M337 118v1M337 136v1M338 94v1M338 96v1M338 106v1M338 109v1M339 138v2M340 95v2M340 103v1M340 135v2M340 138v1M341 114v1M341 125v1M342 86v2M342 94v1M342 97v3M342 121v1M343 140v1M344 85v4M344 100v1M344 105v2M344 111v1M344 126v2M344 130v1M345 89v2M345 97v1M345 100v2M345 108v1M345 116v1M345 124v1M346 95v5M346 105v1M346 111v1M346 114v3M346 121v1M347 106v2M347 117v1M347 119v1M348 92v1M348 102v1M348 106v5M348 113v1M348 116v6M348 133v3M349 99v1M349 138v1M350 129v1M351 114v1M351 132v1M352 108v1M352 135v1M352 140v1M353 94v1M353 102v1M353 105v2M353 125v1M354 113v1M354 118v1M355 105v2M355 125v1M356 96v1M356 114v4M357 89v3M357 104v3M357 112v1M357 127v1M357 138v1M358 94v1M358 103v3M358 110v1M358 116v2M359 90v1M359 99v5M359 105v1M359 116v1M359 118v4M359 124v1M359 128v1M359 133v2M359 140v1M360 93v1M360 98v1M360 101v1M360 104v1M360 107v1M360 125v2M361 87v3M361 101v2M361 114v1M361 124v1M361 126v1M362 84v9M362 109v2M362 116v1M362 129v2M363 87v2M363 90v1M363 98v1M363 103v3M363 107v3M363 118v1M364 86v3M364 111v3M364 121v3M364 127v1M364 132v2M365 91v2M365 111v1M365 113v1M365 117v1M365 122v1M365 125v1M365 140v1M366 97v1M366 100v1M366 103v1M366 124v1M366 129v1M366 136v1M368 94v1M368 104v1M368 113v1M368 123v3M368 132v1M368 138v1M369 95v2M369 110v1M369 123v3M369 130v1M370 139v1M371 89v3M371 125v1M371 130v1M371 134v1M372 94v1M372 100v3M372 108v1M372 110v1M372 114v1M372 133v1M372 138v2M373 86v2M373 113v1M373 115v1M373 130v2M373 136v3M374 94v1M374 99v1M374 110v3M374 120v2M374 128v2M375 88v3M375 93v3M375 97v2M375 112v1M375 130v1M375 134v2M376 115v2M376 124v1M377 89v1M377 106v2M377 113v1M377 116v2M378 86v2M378 89v2M378 95v2M378 101v1M378 110v3M378 122v5M378 129v2M378 135v1M379 93v1M379 105v1M379 111v1M379 121v1M379 123v1M380 88v1M380 92v4M380 119v1M380 131v1M381 95v1M381 97v1M381 101v2M381 106v1M381 110v1M381 119v1M381 129v1M381 133v1M381 137v1M382 86v1M382 90v1M382 93v2M382 117v1M382 131v1M383 124v1M384 96v1M384 98v1M384 105v1M384 110v1M384 131v1M384 135v1M384 138v1M385 85v2M385 89v1M385 120v3M385 131v1M386 119v1M386 139v1M387 87v1M387 112v1M387 124v1M387 131v1M387 139v1M388 99v1M388 101v1M388 111v2M389 80v5M389 97v1M389 99v2M389 120v1M389 139v1M390 85v2M390 116v1M390 137v1M391 108v1M391 123v2M391 138v1M392 106v1M392 111v1M392 115v1M392 128v7M393 102v1M394 101v1M394 104v1M394 138v1M395 92v1M395 96v1M395 100v1M395 123v1M396 102v1M396 122v1M396 130v1M397 85v1M397 103v2M397 128v1M398 103v1M398 117v1M398 134v1M398 139v1M399 106v3M399 112v1"/>
<path stroke="#2d7090" d="M47 131v5M48 134v1M53 134v1M54 137v1M57 133v1M60 140v1M61 140v1M63 132v3M63 140v1M65 131v1M66 130v1M66 137v1M68 140v1M69 130v1M69 138v1M70 127v1M70 131v1M72 128v1M72 136v1M73 125v1M73 141v1M76 134v1M77 125v1M78 128v4M79 129v1M80 124v1M81 127v1M82 121v1M83 123v1M83 126v1M84 139v1M85 119v1M85 127v1M85 130v1M85 136v1M85 139v1M86 121v1M86 135v1M87 136v1M88 133v2M89 117v1M89 136v1M90 116v1M90 124v1M91 124v1M92 115v1M93 129v1M94 116v1M94 123v1M94 135v1M95 140v1M96 124v1M96 137v1M97 113v1M97 122v1M97 132v1M98 138v1M100 115v1M101 127v1M101 136v1M102 110v1M102 127v1M103 134v1M103 137v1M104 123v1M104 129v1M105 121v1M105 132v3M106 109v1M106 126v2M107 124v1M107 136v1M108 114v1M108 130v1M108 139v1M110 117v3M110 130v1M111 107v1M111 112v1M111 120v4M111 136v2M112 117v1M112 134v6M113 106v1M113 117v1M113 140v1M114 104v1M114 119v1M115 117v1M115 121v1M115 127v2M115 132v3M115 140v1M116 116v1M117 111v1M117 116v1M117 127v2M117 139v1M118 133v1M118 139v1M119 107v1M120 104v1M120 114v2M120 118v2M121 115v1M121 133v7M122 108v1M122 112v1M122 115v1M122 134v1M122 139v1M123 114v1M123 119v1M123 135v1M123 140v1M124 103v1M124 106v1M124 110v1M124 131v2M125 103v1M125 113v1M126 102v3M126 139v1M127 130v3M128 99v1M128 107v1M128 112v2M130 113v1M131 99v1M131 108v1M131 110v2M132 96v1M132 112v1M134 134v5M135 110v1M137 101v1M137 103v1M137 106v2M137 109v1M138 96v1M138 109v4M139 94v1M139 109v1M139 112v3M140 92v1M141 109v1M142 108v1M144 106v4M145 104v1M146 90v1M146 93v1M146 95v1M147 98v2M147 105v1M149 89v1M150 89v1M150 102v1M151 88v1M153 87v1M154 88v1M155 100v2M156 100v4M157 87v1M157 99v1M158 97v1M159 86v1M161 95v1M162 83v1M163 99v1M163 130v3M164 83v1M165 96v1M165 114v1M165 121v3M167 96v1M168 82v1M170 80v1M170 96v1M170 132v4M171 81v1M171 96v1M171 121v3M172 125v2M173 80v1M173 128v2M175 93v4M176 89v1M176 93v2M176 128v2M176 136v1M176 139v1M177 93v1M178 92v4M178 99v3M178 135v1M179 79v1M179 91v2M179 94v2M181 96v1M181 127v2M181 135v2M181 139v1M182 77v2M183 89v2M184 86v1M185 129v1M185 134v1M187 77v1M187 131v4M187 137v2M189 96v1M189 101v6M190 87v1M190 92v1M190 98v11M191 73v1M191 88v6M191 96v3M191 131v1M191 135v1M192 72v1M192 86v1M192 98v5M193 82v1M195 76v1M195 83v5M195 135v2M195 138v2M196 83v3M198 78v1M198 101v2M199 117v5M199 130v4M200 70v1M200 79v1M200 93v2M200 124v3M200 134v2M200 137v1M201 71v1M201 122v2M202 71v1M202 79v2M203 75v4M203 104v1M204 127v5M205 74v1M207 67v1M208 76v1M208 129v2M208 137v2M209 75v1M210 66v1M210 74v1M210 107v2M211 106v4M213 73v1M214 74v1M216 61v1M216 63v1M216 68v2M217 70v1M218 128v2M219 114v4M220 67v1M221 63v1M221 69v1M221 129v1M222 58v1M223 62v1M224 58v1M224 69v1M225 62v1M227 59v1M227 66v1M228 58v1M228 63v3M228 135v3M230 56v1M230 109v3M231 62v1M231 64v1M233 63v1M233 110v2M233 127v5M234 115v1M234 120v3M235 62v1M237 61v1M238 111v2M240 110v4M241 53v1M241 59v1M241 107v1M242 53v1M242 59v1M242 117v2M243 50v1M243 99v3M244 113v1M244 134v3M245 50v1M245 102v4M245 114v1M246 94v1M247 49v1M247 101v2M247 118v1M248 49v1M248 109v1M248 115v1M248 131v1M248 134v1M249 104v1M249 114v1M249 136v1M250 49v1M250 108v1M250 129v3M251 89v1M251 99v1M251 133v1M252 52v1M252 54v1M252 88v2M252 92v1M252 102v1M252 118v1M252 130v2M252 133v1M252 139v1M253 92v2M253 106v1M253 110v1M254 93v1M254 108v1M254 127v1M254 133v1M254 138v1M255 92v1M255 104v1M255 113v1M255 135v2M256 46v2M256 102v1M256 104v1M256 131v1M258 46v1M258 49v1M258 87v1M258 105v1M258 109v1M258 112v2M258 140v1M259 89v1M259 98v1M259 131v1M260 99v1M260 112v1M260 115v1M260 118v4M260 139v1M261 92v1M261 104v1M262 49v1M262 85v3M262 98v1M262 104v1M263 46v2M263 118v1M264 99v2M264 104v2M264 111v1M264 113v1M264 118v1M265 49v1M265 104v1M265 106v2M265 117v1M265 134v1M266 86v2M266 104v1M266 114v2M267 105v1M267 119v1M267 124v1M267 130v1M267 132v1M267 140v1M268 48v1M268 102v1M268 126v2M269 42v1M269 85v1M269 89v1M269 136v4M270 87v2M270 116v1M270 136v2M271 115v1M271 129v1M272 129v1M273 99v1M273 124v1M273 127v1M274 42v2M274 83v1M274 88v1M274 125v1M275 86v1M275 108v1M275 136v2M276 104v1M276 108v1M276 118v1M276 135v1M276 138v2M277 83v3M277 88v2M277 96v2M277 135v1M278 40v1M278 89v4M278 94v2M278 113v1M278 116v1M278 127v1M278 132v1M279 84v2M279 110v1M279 112v1M280 37v1M280 40v1M280 104v1M280 116v1M280 120v1M281 84v1M281 94v2M281 116v2M281 132v1M281 135v1M282 101v1M282 113v1M283 138v1M284 90v2M284 109v1M284 127v1M285 111v1M285 119v1M285 122v1M285 133v1M285 140v1M286 119v5M286 138v1M287 94v1M287 112v1M287 131v1M287 134v1M288 37v1M288 127v1M288 140v1M289 99v1M289 140v1M290 93v1M290 103v1M290 109v1M290 111v1M291 85v1M291 116v3M291 130v1M291 133v1M291 138v2M292 33v1M292 122v2M292 128v3M292 134v1M292 136v2M293 93v3M293 116v1M293 118v1M293 123v1M293 134v1M293 139v1M294 107v1M294 116v1M294 118v2M294 124v1M294 131v5M295 34v1M295 86v2M295 89v1M295 95v4M295 114v2M295 133v1M296 90v1M296 103v1M296 118v1M296 121v1M296 129v1M297 84v3M297 113v1M298 93v1M298 96v1M298 111v1M298 114v1M299 89v1M299 92v1M299 112v1M299 117v1M299 126v1M299 134v1M300 99v1M300 108v1M301 126v1M301 129v1M301 136v1M303 92v1M303 114v1M303 119v2M303 132v1M304 91v2M304 97v1M304 113v2M304 118v1M304 124v2M304 131v1M305 102v1M305 114v10M306 107v1M306 118v1M306 121v1M306 125v1M306 136v4M307 90v3M307 106v1M307 108v1M307 130v1M308 132v1M308 135v1M309 90v5M309 108v1M309 113v1M309 115v1M309 125v1M310 87v3M310 95v3M310 107v1M310 119v1M310 125v1M310 131v3M311 90v2M311 102v1M311 117v3M311 139v1M312 108v3M312 124v4M313 105v2M313 112v1M314 92v2M314 99v1M314 105v1M314 109v7M314 126v1M314 129v1M315 135v1M316 101v1M316 105v1M317 126v4M317 133v2M318 111v4M318 122v3M318 139v1M319 100v3M319 104v2M319 123v1M319 128v2M320 98v2M320 101v2M320 118v1M320 122v2M320 137v1M321 101v1M321 108v1M321 111v1M321 114v1M321 130v1M322 98v3M322 104v1M322 108v5M323 110v1M323 115v1M323 137v1M324 105v3M324 120v4M324 131v1M324 134v2M325 89v5M325 99v3M325 104v2M325 109v1M325 113v1M326 95v5M326 119v1M326 127v1M326 131v2M326 136v3M327 101v2M327 122v2M327 134v4M328 92v10M328 105v2M328 109v1M328 115v2M328 123v2M328 134v3M329 94v2M329 99v6M329 106v1M330 122v1M330 128v1M331 100v5M331 113v1M331 124v1M331 137v1M331 139v1M332 94v1M332 98v5M332 110v4M333 99v2M333 121v2M333 134v1M333 136v2M334 114v1M334 121v5M334 127v1M334 137v1M335 95v6M335 104v2M335 140v1M336 99v4M336 116v3M336 123v1M337 100v2M337 115v3M337 124v1M338 95v1M338 110v2M338 116v1M338 122v1M338 139v1M340 97v6M340 110v1M340 134v1M340 137v1M341 115v1M341 138v2M342 88v3M342 93v1M342 108v1M342 114v2M342 120v1M342 122v2M342 140v1M343 99v1M344 107v4M344 131v1M344 137v1M345 98v2M345 102v1M345 107v1M345 109v1M345 114v1M345 120v1M345 125v1M345 136v1M346 100v1M346 104v1M346 108v1M346 110v1M346 137v1M347 118v1M348 93v2M348 111v2M348 125v1M349 105v4M349 116v1M349 129v4M349 135v3M350 104v1M350 108v3M350 112v3M350 128v1M351 93v2M351 106v1M351 111v3M351 115v1M351 122v1M351 135v1M352 109v1M352 118v1M352 125v1M352 129v1M353 100v2M353 107v1M353 109v2M353 115v2M353 124v1M353 133v1M353 140v1M354 114v1M355 126v3M356 100v1M356 113v1M356 118v3M356 130v1M357 92v2M357 102v2M357 107v5M357 119v1M357 126v1M357 132v1M358 95v2M358 115v1M358 131v3M358 138v1M359 91v2M359 97v2M359 104v1M359 117v1M359 122v2M359 129v1M360 94v4M360 102v2M360 108v7M360 118v1M360 127v1M360 130v1M361 115v1M361 119v5M361 127v2M361 137v1M362 97v1M362 108v1M362 111v1M363 89v1M363 99v1M363 102v1M363 106v1M363 110v1M363 117v1M363 121v1M363 125v1M364 89v2M364 97v1M364 104v1M364 110v1M364 114v1M364 120v1M364 124v3M364 134v2M365 112v1M366 101v2M366 116v1M366 123v1M366 137v3M367 105v1M367 110v4M368 95v3M368 103v1M368 114v2M368 133v5M369 111v3M369 122v1M369 126v1M369 128v2M369 131v1M369 138v1M371 113v3M371 119v1M371 135v3M372 95v1M372 99v1M372 107v1M372 111v1M372 124v1M372 130v3M373 101v1M373 104v1M373 114v1M374 95v4M375 99v1M375 102v1M375 113v1M375 131v3M376 109v6M376 117v2M376 125v1M376 132v1M377 90v3M377 95v2M377 104v2M377 114v2M377 118v1M377 120v1M378 88v1M378 113v9M378 131v4M379 94v4M379 104v1M379 112v1M379 116v1M379 122v1M380 89v3M380 107v1M380 120v1M380 124v4M380 130v1M381 96v1M381 109v1M381 114v1M381 138v2M382 91v2M382 118v1M382 130v1M384 97v1M384 132v1M384 134v1M384 139v1M385 87v2M385 123v2M385 127v4M386 103v1M386 114v1M386 127v3M386 133v6M387 100v1M387 111v1M387 116v1M387 123v1M387 138v1M388 100v1M388 125v1M388 129v1M389 98v1M389 101v5M389 116v2M389 130v1M390 87v4M390 98v3M390 129v2M390 136v1M391 109v1M391 125v1M392 112v3M393 100v2M394 102v2M394 131v1M394 136v2M395 93v3M395 121v2M395 136v1M396 103v1M396 107v2M396 129v1M397 129v1M397 132v2M398 109v2M399 101v1M399 109v3M399 114v1M399 120v1M399 123v1M399 139v1"/>
<path stroke="#287c8f" d="M49 142v1M51 130v1M52 135v1M52 138v1M53 135v1M54 138v1M55 133v1M60 133v1M61 132v1M61 134v1M61 137v1M65 132v1M65 136v1M67 135v1M69 131v1M72 129v1M73 126v1M75 132v1M75 139v1M76 129v1M76 132v2M77 126v2M77 133v1M78 132v1M81 130v1M82 122v1M82 132v1M82 136v1M83 125v1M83 130v1M84 131v1M84 136v1M85 126v1M86 119v2M86 125v1M87 135v1M88 118v1M88 128v3M88 132v1M89 128v1M89 134v2M90 129v1M90 135v1M90 138v1M91 120v1M91 134v1M91 138v1M92 116v1M92 118v1M92 124v2M92 133v1M93 124v1M93 130v2M94 117v1M94 119v1M94 125v2M94 134v1M95 116v1M95 128v1M96 138v2M97 114v2M97 123v1M98 137v1M101 113v1M101 128v1M103 110v1M103 126v1M103 135v2M104 122v1M106 124v2M106 131v1M106 140v1M107 109v1M107 125v1M107 135v1M108 117v1M108 131v1M110 131v2M110 138v1M112 112v2M113 131v1M113 139v1M114 135v2M115 118v3M115 129v3M115 135v2M116 115v1M117 129v1M117 138v1M118 134v1M119 113v1M120 113v1M120 116v2M121 102v2M122 114v1M122 135v4M123 139v1M124 102v1M124 133v2M124 139v1M125 104v2M126 113v1M129 99v1M130 112v1M131 100v2M132 111v1M134 97v1M135 97v1M136 106v1M137 104v2M137 108v1M139 108v1M140 108v1M142 92v1M142 107v1M144 91v1M144 105v1M145 94v1M147 103v2M150 101v1M151 99v1M152 87v1M153 97v1M155 99v1M156 85v1M156 99v1M157 98v1M158 85v1M158 96v1M159 95v1M160 85v1M160 91v1M160 95v2M161 84v1M163 98v1M165 83v1M166 96v1M167 95v1M170 95v1M171 82v1M171 95v1M172 93v1M173 81v1M175 92v1M176 79v1M176 87v1M176 92v1M176 130v6M176 137v2M177 79v1M177 92v1M178 132v3M179 90v1M179 93v1M180 79v1M180 90v1M181 91v5M181 137v2M182 89v1M183 77v1M183 88v1M185 76v1M185 87v1M185 130v4M186 77v1M187 83v1M188 76v1M188 85v1M189 97v4M190 88v4M191 86v2M191 132v3M192 85v1M193 70v1M194 71v1M194 78v1M195 71v1M195 80v1M195 82v1M195 137v1M196 82v1M198 70v1M199 71v1M200 71v1M200 136v1M201 72v2M202 72v1M202 78v1M203 68v1M204 75v1M205 68v1M206 67v1M207 73v1M208 67v1M211 66v1M211 74v1M212 63v1M212 74v1M215 67v1M216 62v1M217 67v3M218 64v2M222 64v1M223 68v1M225 67v1M226 65v1M229 64v1M230 64v1M231 57v1M231 60v1M231 63v1M232 59v1M233 62v1M234 61v1M237 53v1M238 54v1M240 52v1M240 58v1M243 55v1M244 52v1M244 56v1M245 57v1M245 115v2M245 121v1M246 50v1M246 56v1M246 123v1M246 126v1M246 130v1M246 132v1M247 55v1M247 119v1M247 126v1M248 55v1M248 116v1M248 124v7M248 135v1M249 51v2M249 100v1M249 131v1M249 135v1M250 103v1M250 107v1M250 125v4M250 132v1M250 136v1M251 48v1M251 90v1M251 93v4M251 98v1M251 107v1M251 117v1M251 119v1M252 53v1M252 93v1M252 101v1M252 103v1M252 107v1M252 116v2M253 49v1M253 52v1M253 94v3M253 102v1M253 105v1M253 126v1M253 136v1M254 47v1M254 116v1M254 134v4M255 95v1M255 119v2M255 130v1M256 97v1M256 125v4M257 99v1M257 117v1M257 138v1M258 88v2M258 110v2M258 114v1M258 117v2M258 126v3M258 136v1M259 44v1M259 90v2M259 93v5M259 102v1M259 106v1M259 109v1M259 130v1M260 89v3M260 110v1M260 125v1M260 138v1M261 49v1M261 94v1M261 110v1M261 138v1M262 45v1M262 88v1M262 128v1M262 135v1M262 140v1M263 103v2M263 109v2M263 114v1M264 94v1M264 98v1M264 101v3M264 112v1M264 114v1M264 138v1M265 44v1M265 83v2M265 95v1M265 101v1M265 103v1M265 108v1M265 116v1M266 88v1M266 93v1M267 123v1M267 129v1M267 133v1M268 45v1M268 47v1M268 128v1M268 134v1M269 46v1M269 86v1M269 88v1M269 135v1M270 89v9M271 128v1M272 124v1M272 130v1M272 135v1M273 100v1M273 109v1M273 125v1M274 84v4M274 93v1M274 111v1M274 126v3M275 87v1M275 106v2M275 115v1M275 129v1M276 98v2M276 119v1M276 122v2M276 133v2M277 86v2M277 102v1M277 134v1M278 41v2M278 114v2M278 123v1M278 140v1M279 86v3M279 91v1M279 100v3M279 109v1M279 113v1M279 130v1M280 38v2M280 105v1M280 126v2M280 140v1M281 85v2M281 92v2M281 96v1M281 101v1M281 121v1M281 136v1M281 140v1M282 38v1M282 96v1M283 106v1M283 135v1M284 35v1M284 92v1M284 113v1M285 102v1M285 109v2M285 120v2M286 97v1M286 103v1M287 34v1M287 36v1M287 100v2M287 132v2M288 36v1M288 95v1M288 116v1M288 122v1M288 128v1M289 100v2M289 108v4M289 117v2M289 127v1M289 139v1M290 91v2M290 108v1M290 112v1M290 129v1M291 86v2M291 90v3M291 108v2M291 115v1M291 127v1M291 134v1M291 136v2M292 118v1M292 121v1M292 131v3M292 138v2M293 96v1M293 115v1M293 119v4M293 124v2M293 128v3M294 108v1M294 112v4M294 120v1M295 31v1M295 33v1M295 88v1M295 99v2M295 120v1M295 123v2M296 106v1M296 114v1M296 117v1M296 122v1M296 126v1M296 128v1M297 87v2M297 106v2M298 94v2M298 100v1M298 102v1M298 112v2M299 90v2M299 109v1M299 111v1M299 135v1M300 100v3M300 107v1M301 100v4M301 125v1M301 130v2M303 93v10M303 110v1M303 118v1M303 121v1M303 131v1M304 93v4M304 115v3M304 132v1M304 139v1M305 96v2M305 100v2M305 109v1M305 113v1M306 108v7M306 119v2M306 135v1M307 107v1M307 131v2M307 136v1M308 136v1M308 139v1M309 109v4M309 116v2M309 124v1M310 98v1M310 104v3M310 120v1M310 123v2M310 126v5M311 92v7M311 100v2M311 103v2M311 107v1M311 113v1M311 116v1M311 120v2M311 123v4M311 131v1M311 137v2M313 107v5M314 94v5M314 106v3M314 127v2M315 133v2M316 102v3M319 103v1M319 127v1M319 130v1M319 136v1M320 100v1M320 119v3M320 134v3M321 102v3M321 107v1M321 112v2M321 138v1M322 101v3M322 113v7M322 122v1M323 111v4M323 135v2M324 132v2M325 106v3M325 114v1M325 123v1M326 120v1M326 123v1M326 128v3M327 119v3M327 124v2M327 128v1M328 114v1M328 117v1M328 125v1M328 129v1M329 96v3M329 105v1M330 123v1M330 126v2M331 114v1M331 138v1M332 95v3M333 135v1M334 115v1M334 119v2M334 128v1M334 135v2M335 106v2M335 115v1M335 139v1M336 103v1M336 114v2M337 102v1M337 104v5M337 113v2M337 135v1M338 112v4M338 137v2M340 111v1M340 133v1M341 116v1M341 119v1M342 91v2M342 109v1M342 113v1M342 116v4M342 124v1M343 100v1M343 107v4M343 116v2M343 128v1M343 134v1M343 139v1M344 132v5M345 103v4M345 117v1M345 126v5M345 135v1M346 101v3M346 109v1M346 122v1M346 127v3M348 95v2M348 101v1M348 126v1M348 132v1M349 100v1M349 103v2M349 109v3M349 115v1M349 117v1M349 126v3M349 133v2M350 105v3M350 111v1M350 115v1M350 121v3M350 127v1M351 95v1M351 100v3M351 105v1M351 116v1M351 133v2M352 110v8M352 136v1M352 139v1M353 95v5M353 108v1M353 117v2M353 137v3M354 115v3M355 129v2M355 132v1M356 97v3M356 107v1M356 112v1M356 121v2M356 129v1M357 94v3M357 100v2M357 120v6M357 133v1M357 137v1M358 111v1M358 118v1M358 121v4M358 130v1M358 134v1M359 93v4M359 130v3M359 135v1M359 139v1M360 115v3M360 128v2M361 116v3M361 129v8M362 98v1M362 105v3M362 112v4M363 100v2M363 111v1M363 116v1M363 122v1M364 91v6M364 105v1M364 108v2M364 115v1M364 118v2M365 118v1M365 126v1M365 132v2M365 138v2M366 117v6M367 106v1M367 108v2M368 98v5M369 114v2M369 118v4M369 127v1M369 136v2M371 116v3M371 126v1M371 129v1M372 96v3M372 103v1M372 112v2M372 125v1M372 128v2M373 103v1M375 100v2M375 114v1M375 117v1M376 126v6M377 93v2M377 97v1M377 101v3M377 119v1M378 102v3M378 109v1M379 98v1M379 103v1M379 113v3M380 96v1M380 121v3M380 128v2M381 107v2M381 115v1M381 118v1M381 130v1M381 132v1M382 119v11M383 123v1M384 106v1M384 109v1M384 133v1M385 125v2M386 120v1M386 126v1M386 130v3M387 101v1M387 110v1M387 117v6M387 132v6M388 126v1M388 128v1M389 106v1M389 112v4M389 118v2M389 138v1M390 91v2M390 97v1M390 101v1M390 105v5M390 115v1M390 131v2M390 134v2M391 110v2M391 115v3M391 122v1M391 137v1M394 132v4M395 101v1M395 105v3M395 112v9M395 137v3M396 106v1M396 109v2M396 116v1M396 123v1M396 128v1M397 130v2M398 104v1M398 107v2M398 111v1M398 116v1M399 102v1M399 104v2M399 115v1M399 124v1"/>
<path stroke="#25858d" d="M48 135v1M48 141v1M49 131v1M50 129v1M50 142v1M51 131v2M51 141v1M52 136v2M53 136v1M53 140v1M56 131v1M57 134v1M61 133v1M63 135v1M65 133v1M65 135v1M66 131v1M66 136v1M67 140v1M68 135v1M69 132v1M69 137v1M70 128v2M70 140v1M73 127v1M75 138v1M76 131v1M77 128v1M77 132v1M79 130v1M79 140v1M80 125v1M81 128v2M82 123v1M82 138v1M83 124v1M83 138v1M85 120v1M85 125v1M85 131v1M86 126v1M87 120v1M87 124v1M88 119v1M88 127v1M88 131v1M89 118v1M89 122v4M90 117v1M90 134v1M90 136v2M91 123v1M92 117v1M92 119v1M93 120v1M93 132v1M93 136v1M94 118v1M94 124v1M94 127v1M94 132v2M95 127v1M95 135v1M96 115v1M96 121v1M96 125v1M96 130v1M97 121v1M97 131v1M97 137v1M97 139v1M98 117v1M98 136v1M99 120v1M100 119v1M101 129v1M101 135v1M102 111v1M102 126v1M103 124v2M104 114v1M104 121v1M104 130v1M104 136v1M105 112v1M106 123v1M106 132v1M107 121v1M107 126v3M107 131v4M108 115v2M108 132v1M108 138v1M109 109v1M109 119v1M110 133v2M112 114v1M112 116v1M113 116v1M113 138v1M114 118v1M115 137v3M116 104v1M117 107v1M117 110v1M117 130v2M117 136v2M118 106v1M118 116v1M118 135v2M118 138v1M121 108v1M121 114v1M122 107v1M122 113v1M123 113v1M123 136v3M124 107v3M124 135v4M125 106v4M125 112v1M126 105v1M127 101v1M127 110v1M128 100v1M130 101v1M130 110v2M131 107v1M134 108v1M135 109v1M136 96v1M137 98v1M138 108v1M140 107v1M141 108v1M143 103v1M145 95v1M146 91v2M147 91v1M147 97v1M148 90v1M152 100v1M154 92v1M155 98v1M157 97v1M160 90v1M160 92v3M161 94v1M163 84v1M163 97v1M164 94v1M166 84v1M168 83v1M168 91v1M169 81v1M172 81v1M174 80v1M174 88v1M175 80v1M176 90v2M177 91v1M178 91v1M179 89v1M181 79v1M181 90v1M182 79v1M184 75v1M186 82v1M189 73v1M189 85v1M190 75v1M190 78v1M190 84v1M191 85v1M192 84v1M195 81v1M197 80v1M199 80v1M200 72v1M200 78v1M202 73v3M202 77v1M203 69v1M204 72v1M206 75v1M207 68v1M208 75v1M209 71v1M209 74v1M213 72v1M214 63v1M214 73v1M215 66v1M220 62v1M221 68v1M222 65v1M222 68v1M223 63v1M224 68v1M225 63v1M226 57v1M227 60v1M227 65v1M228 62v1M229 57v1M232 55v1M233 60v2M234 55v1M235 56v1M235 61v1M236 53v1M236 58v1M237 54v2M237 60v1M238 60v1M239 52v1M239 56v1M241 58v1M245 117v4M246 124v2M246 131v1M247 50v1M247 120v2M247 125v1M248 50v1M248 117v1M248 121v3M248 139v1M249 101v3M249 132v3M250 51v1M250 97v1M250 102v1M250 104v3M250 133v3M251 52v1M251 91v2M251 97v1M251 112v1M251 118v1M251 124v1M251 132v1M252 94v3M252 100v1M252 104v3M252 108v1M252 134v1M252 138v1M253 51v1M253 97v2M253 100v2M253 103v2M253 129v1M254 49v1M254 113v1M254 123v1M255 93v2M255 105v1M255 107v1M255 114v1M255 118v1M255 121v1M256 98v1M256 101v1M256 105v1M256 108v1M256 121v1M256 129v2M257 100v3M257 122v1M257 131v3M257 137v1M258 47v2M258 90v2M258 104v1M258 115v2M258 119v1M258 125v1M258 129v7M258 137v3M259 47v1M259 92v1M259 129v1M260 111v1M260 116v2M261 44v1M261 93v1M261 137v1M262 46v3M262 89v2M262 94v4M262 105v1M263 97v1M263 102v1M263 111v1M263 119v1M263 131v2M263 136v1M264 115v1M264 117v1M264 127v1M265 48v1M265 85v7M265 102v1M265 113v3M265 125v1M265 129v1M266 89v4M266 108v1M266 119v1M266 122v1M267 106v1M267 125v1M267 139v1M268 46v1M268 132v2M269 43v1M269 87v1M269 112v4M269 134v1M270 98v1M270 106v1M271 116v1M271 121v1M272 108v1M272 118v6M272 131v1M272 134v1M273 126v1M274 94v2M274 110v1M274 129v1M274 135v1M275 88v6M275 105v1M276 105v3M276 120v2M276 124v1M276 130v3M277 103v1M277 106v1M277 125v2M277 132v2M278 107v1M278 124v1M278 126v1M279 89v2M279 103v2M279 114v1M280 106v1M280 115v1M280 121v1M280 125v1M281 87v5M281 97v1M281 100v1M281 131v1M281 137v1M282 97v1M282 99v2M283 115v1M283 136v2M284 38v1M284 98v1M284 110v1M284 112v1M285 103v2M285 108v1M285 134v1M285 139v1M286 98v1M286 102v1M287 35v1M287 95v1M287 99v1M287 111v1M288 101v1M288 121v1M288 129v5M288 139v1M289 112v5M289 128v5M289 137v2M290 104v1M290 113v1M290 120v3M291 88v2M291 93v4M291 107v1M291 110v2M291 114v1M291 128v2M291 135v1M292 119v2M293 97v1M293 110v5M293 126v2M293 131v1M293 133v1M294 109v3M294 121v3M295 32v1M295 101v2M295 106v1M295 121v2M295 125v1M295 132v1M296 104v2M296 115v2M296 123v3M296 127v1M297 89v5M297 104v2M297 108v5M298 101v1M299 110v1M299 136v1M299 139v1M300 103v4M301 104v1M301 112v1M301 117v3M301 124v1M301 132v4M303 103v7M303 115v3M303 122v1M303 130v1M304 133v1M304 138v1M305 98v2M305 110v3M306 126v1M306 133v2M307 133v3M308 137v2M309 118v6M310 99v5M310 121v2M311 99v1M311 105v2M311 114v2M311 122v1M311 127v4M319 124v3M319 131v5M321 105v2M321 131v2M321 134v4M322 120v2M325 115v6M326 121v2M327 126v2M328 110v4M328 118v1M328 122v1M328 126v3M330 124v2M331 115v1M331 122v2M334 116v3M334 129v2M334 133v2M335 108v2M335 114v1M335 136v1M335 138v1M336 104v1M336 111v3M336 119v1M336 122v1M337 103v1M337 109v4M337 125v7M337 134v1M338 123v1M338 131v1M338 135v2M340 112v2M340 118v2M340 132v1M341 117v2M342 110v3M342 125v1M342 139v1M343 101v6M343 111v2M343 115v1M343 118v1M343 135v1M343 138v1M345 110v1M345 113v1M345 118v2M345 131v4M346 123v1M346 125v2M346 130v2M346 136v1M348 97v4M348 131v1M349 101v2M349 112v3M349 118v1M349 124v2M350 116v1M350 119v2M350 124v3M351 96v4M351 103v2M351 117v1M352 126v3M352 137v2M353 119v5M353 134v3M355 131v1M356 108v4M356 123v2M356 127v2M357 97v3M357 134v3M358 112v3M358 119v2M358 125v5M358 135v3M359 136v1M359 138v1M362 99v6M363 112v1M363 115v1M363 123v2M364 106v2M364 116v2M365 119v3M365 127v1M365 129v3M365 134v4M367 107v1M369 116v2M369 132v4M371 127v2M372 104v3M372 126v2M373 102v1M375 115v2M377 98v3M378 105v4M379 99v4M380 97v1M380 106v1M381 116v2M381 131v1M383 114v1M383 118v5M386 104v1M386 113v1M386 121v1M386 125v1M387 102v2M387 109v1M388 127v1M389 107v1M389 110v2M389 131v2M389 136v2M390 93v4M390 102v3M390 110v5M390 133v1M391 112v3M391 118v4M391 126v1M391 129v8M395 102v3M395 108v4M396 104v2M396 111v5M396 124v1M398 105v2M398 112v4M399 103v1M399 119v1M399 125v11M399 137v2"/>
<path stroke="#21958b" d="M51 138v1M55 134v1M55 140v1M60 134v1M60 139v1M61 138v2M65 134v1M66 135v1M67 136v1M68 139v1M70 130v1M70 137v1M72 130v1M72 135v1M73 128v1M73 140v1M75 133v1M75 137v1M76 130v1M77 129v1M77 131v1M77 134v1M77 139v1M78 133v1M78 140v1M79 131v1M80 127v2M80 140v1M82 124v5M82 131v1M82 137v1M83 131v1M84 135v1M85 135v1M86 127v4M86 134v1M88 120v1M88 125v2M89 119v1M89 121v1M89 126v2M90 123v1M90 130v1M90 133v1M91 135v1M91 137v1M92 123v1M92 126v1M92 129v4M93 123v1M94 128v1M95 126v1M95 139v1M96 126v1M97 116v1M97 124v1M97 130v1M97 138v1M98 125v5M98 134v2M101 121v1M101 130v2M102 124v2M103 111v1M103 123v1M105 120v1M106 110v1M106 119v1M106 122v1M106 133v1M106 137v3M107 129v2M108 133v1M108 137v1M109 110v1M109 112v2M110 135v3M111 108v1M111 111v1M112 107v1M112 111v1M112 115v1M113 132v1M113 137v1M116 114v1M117 108v2M117 132v4M118 137v1M122 104v1M123 104v1M125 110v2M126 109v2M126 112v1M129 109v1M130 109v1M131 102v1M132 97v1M132 110v1M135 107v2M137 100v1M139 107v1M140 93v1M140 105v2M142 93v1M142 106v1M143 95v1M144 104v1M145 96v2M145 103v1M146 100v1M148 101v1M150 100v1M151 89v1M152 88v1M154 89v1M155 87v1M155 97v1M156 98v1M162 84v1M164 84v1M165 95v1M167 82v1M167 94v1M170 81v1M170 94v1M171 83v1M173 82v1M175 91v1M177 90v1M178 79v1M180 89v1M182 88v1M183 87v1M184 85v1M188 84v1M190 76v2M191 84v1M193 81v1M196 73v1M196 81v1M197 71v1M202 76v1M203 74v1M207 69v1M207 72v1M210 73v1M211 72v2M212 73v1M213 66v1M217 63v1M219 60v1M219 67v1M220 66v1M224 59v1M225 64v1M225 66v1M226 64v1M227 61v4M228 59v1M230 57v1M235 60v1M237 56v1M240 57v1M241 54v1M241 57v1M242 58v1M243 51v1M244 53v3M245 51v1M245 56v1M247 51v1M247 54v1M247 122v3M248 54v1M248 118v3M248 136v3M250 50v1M250 98v4M251 49v1M251 108v1M251 125v1M251 131v1M252 97v3M252 115v1M252 135v3M253 50v1M253 99v1M253 127v2M254 48v1M254 114v2M255 106v1M255 115v1M255 117v1M256 99v2M256 106v2M256 124v1M257 103v1M257 130v1M257 134v3M258 92v4M258 102v2M258 120v1M259 45v2M259 103v3M259 110v1M259 124v5M260 137v1M261 48v1M261 111v1M261 136v1M262 91v3M262 108v2M262 136v1M262 139v1M263 105v1M263 108v1M263 112v2M263 120v1M263 130v1M263 133v3M264 95v3M264 116v1M264 134v2M264 137v1M265 45v3M265 92v3M265 109v4M266 120v2M267 107v1M267 122v1M267 126v1M267 128v1M267 134v1M267 138v1M268 110v1M268 125v1M268 129v3M269 45v1M269 98v1M269 116v1M269 122v1M270 99v3M270 105v1M271 117v2M272 109v4M272 117v1M272 132v2M273 101v1M274 96v1M274 106v4M274 130v1M274 134v1M275 94v2M275 116v5M275 128v1M276 125v5M277 104v2M277 107v1M277 114v2M277 121v4M277 127v1M277 131v1M278 101v1M278 125v1M278 133v1M278 139v1M279 105v4M279 115v1M279 118v1M279 129v1M280 107v1M280 114v1M280 122v1M280 124v1M280 128v1M280 139v1M281 98v2M281 130v1M281 138v2M282 98v1M283 107v1M284 36v1M284 93v2M284 97v1M284 111v1M285 105v3M285 135v1M285 138v1M286 99v1M286 101v1M287 96v3M287 102v1M287 106v5M288 96v5M288 117v4M288 134v5M289 133v4M290 105v3M290 114v6M290 123v1M290 128v1M291 97v5M291 106v1M291 112v2M293 98v2M293 104v6M293 132v1M295 103v1M295 105v1M295 126v1M295 131v1M297 94v2M297 102v2M299 137v2M301 105v2M301 109v3M301 113v4M301 120v4M303 123v3M303 127v3M304 134v4M306 127v6M321 133v1M325 121v2M328 119v3M331 116v6M334 131v2M335 110v4M335 137v1M336 105v6M336 120v2M337 132v2M338 124v1M338 129v2M338 132v3M340 114v4M340 120v2M340 130v2M342 126v6M342 136v3M343 113v2M343 119v1M343 127v1M343 136v2M345 111v2M346 124v1M346 132v4M348 127v4M349 119v5M350 117v2M351 118v4M356 125v2M359 137v1M363 113v2M365 128v1M380 98v3M380 104v2M383 115v3M384 107v2M386 105v8M386 122v3M387 104v5M389 108v2M389 133v3M391 127v2M396 125v3M399 116v1M399 118v1M399 136v1"/>
<path stroke="#25a585" d="M48 136v1M53 137v1M53 139v1M56 140v1M57 135v1M57 139v1M60 135v1M63 136v1M63 139v1M66 132v3M67 137v1M67 139v1M69 133v1M69 136v1M70 138v2M73 129v1M75 136v1M77 130v1M80 126v1M80 129v1M80 137v3M82 129v2M84 132v1M85 121v1M85 124v1M86 131v1M87 121v3M88 121v2M88 124v1M89 120v1M90 118v1M90 131v2M91 121v2M91 136v1M92 120v1M92 127v2M93 121v2M93 133v1M93 135v1M94 129v3M95 117v1M95 125v1M95 136v1M95 138v1M96 127v3M97 125v5M98 124v1M98 130v4M99 116v1M100 116v1M101 114v1M101 132v3M102 112v1M103 112v1M104 120v1M104 131v1M106 118v1M106 120v2M106 134v3M107 110v1M108 134v3M109 111v1M113 107v1M113 115v1M113 133v4M114 105v1M114 117v1M119 108v1M119 112v1M120 112v1M121 109v1M121 113v1M122 105v2M123 112v1M126 106v1M126 108v1M126 111v1M127 102v1M127 109v1M128 101v1M128 106v1M129 100v1M130 102v1M131 103v1M137 99v1M138 97v1M138 107v1M140 104v1M141 95v1M141 107v1M149 90v1M150 90v1M153 88v1M156 86v1M157 96v1M158 86v1M160 89v1M161 85v1M163 96v1M165 84v1M166 95v1M171 94v1M172 92v1M177 80v1M178 90v1M179 88v1M181 89v1M182 87v1M185 86v1M186 78v1M188 77v1M190 79v1M190 83v1M191 74v1M192 73v1M192 83v1M193 71v1M195 72v1M198 71v1M200 73v1M200 77v1M203 70v1M204 73v2M205 73v1M207 70v2M208 68v1M208 74v1M209 72v2M210 67v1M211 71v1M213 71v1M214 72v1M217 66v1M221 64v1M221 67v1M222 59v1M222 63v1M222 67v1M223 67v1M225 65v1M228 60v2M230 63v1M231 58v2M232 56v1M232 58v1M234 60v1M235 59v1M236 54v1M237 57v1M237 59v1M241 55v2M242 54v1M246 51v1M246 55v1M247 52v2M248 51v1M251 50v2M251 109v3M251 126v5M252 109v1M252 114v1M254 124v1M254 126v1M255 116v1M255 122v4M256 122v2M257 104v1M257 116v1M257 123v1M257 127v3M258 96v2M258 101v1M258 121v4M259 123v1M260 126v1M260 129v1M260 136v1M261 45v1M261 120v1M261 127v3M261 135v1M262 106v2M262 110v1M262 127v1M262 137v2M263 98v1M263 101v1M263 121v1M263 124v2M263 129v1M264 133v1M264 136v1M266 105v1M267 113v1M267 120v2M267 127v1M267 135v3M268 111v1M269 44v1M269 111v1M269 117v1M269 121v1M269 123v1M269 128v2M269 133v1M270 102v3M271 119v2M272 113v1M272 115v2M273 102v1M273 108v1M274 97v2M274 100v6M274 131v1M274 133v1M275 96v5M275 104v1M275 121v3M275 127v1M277 108v1M277 112v2M277 116v5M277 128v1M277 130v1M278 106v1M278 138v1M279 116v2M279 119v2M280 108v1M280 112v2M280 123v1M280 129v1M280 131v2M280 138v1M281 122v1M281 129v1M283 108v1M283 114v1M284 37v1M284 95v2M285 136v2M286 100v1M287 103v3M290 124v4M291 102v4M293 100v4M295 104v1M295 127v4M297 96v6M301 107v2M303 126v1M338 125v4M340 122v8M342 132v4M343 120v7M380 101v3M399 117v1"/>
<path stroke="#33b57b" d="M49 132v1M51 140v1M53 138v1M56 132v1M60 136v3M67 138v1M68 136v1M68 138v1M69 134v2M72 131v1M75 134v2M77 135v1M77 138v1M78 134v3M79 132v1M79 139v1M80 130v1M80 136v1M83 132v1M83 137v1M84 133v2M85 122v2M85 132v1M85 134v1M86 132v2M88 123v1M90 122v1M92 121v2M93 134v1M95 137v1M97 117v1M97 120v1M100 117v2M102 123v1M103 122v1M104 115v1M104 119v1M104 132v4M105 119v1M107 116v1M107 120v1M109 114v1M109 118v1M111 109v1M112 110v1M118 115v1M126 107v1M127 103v1M127 108v1M128 102v1M130 108v1M132 109v1M134 98v1M135 98v1M135 106v1M136 105v1M138 98v1M139 95v1M142 94v1M142 105v1M144 92v1M145 98v1M145 102v1M146 96v1M148 91v1M153 96v1M157 88v1M157 95v1M158 95v1M159 87v1M159 94v1M160 86v1M162 85v1M162 94v1M163 95v1M164 93v1M167 93v1M168 84v1M169 92v1M172 82v1M173 89v1M174 81v1M174 87v1M175 90v1M176 80v1M176 86v1M177 89v1M179 80v1M180 80v1M183 78v1M184 76v1M185 77v1M186 81v1M187 78v1M187 82v1M188 78v1M188 83v1M189 84v1M191 83v1M194 72v1M195 75v1M196 80v1M197 79v1M198 77v1M199 72v1M199 79v1M200 76v1M205 69v1M206 68v1M206 74v1M208 73v1M212 64v1M212 72v1M213 67v1M213 70v1M214 70v2M220 63v1M220 65v1M222 66v1M223 64v1M224 67v1M226 63v1M229 63v1M232 57v1M234 56v4M235 57v2M236 55v1M236 57v1M237 58v1M238 55v1M238 59v1M239 53v1M239 55v1M240 53v1M240 56v1M243 52v1M243 54v1M245 55v1M248 52v2M252 110v4M254 125v1M255 126v1M255 129v1M257 105v6M257 124v3M258 98v3M259 111v1M259 116v2M259 122v1M260 127v2M260 130v6M261 46v2M261 112v1M261 119v1M261 121v1M261 126v1M261 130v1M261 134v1M262 116v2M263 99v2M263 106v2M263 122v2M263 126v1M264 128v1M264 132v1M265 126v1M265 128v1M266 106v2M267 108v1M268 112v1M268 124v1M269 110v1M269 118v3M269 124v4M269 130v3M272 114v1M273 103v5M274 99v1M274 132v1M275 101v3M275 124v3M277 109v3M277 129v1M278 102v4M278 134v4M279 121v1M279 128v1M280 109v3M280 130v1M280 133v5M281 123v1M281 128v1M283 109v5"/>
<path stroke="#54c367" d="M48 137v1M48 140v1M50 130v1M51 139v1M55 135v1M55 139v1M57 136v1M57 138v1M63 137v2M68 137v1M72 132v3M73 130v1M73 139v1M77 136v2M78 137v3M79 133v6M80 131v1M80 135v1M83 133v1M85 133v1M90 119v3M95 118v1M95 124v1M96 116v1M96 120v1M98 123v1M99 119v1M101 115v1M102 113v1M103 113v1M105 113v1M106 111v1M107 111v1M107 115v1M109 115v3M111 110v1M112 108v2M116 105v1M118 107v1M120 105v1M121 110v1M121 112v1M123 105v1M127 104v4M128 103v1M128 105v1M130 103v1M131 104v1M131 106v1M132 98v1M134 107v1M136 97v1M138 99v3M138 106v1M139 106v1M140 94v1M141 106v1M147 92v1M148 100v1M149 100v1M150 99v1M152 89v1M152 99v1M154 90v2M155 96v1M156 97v1M160 88v1M161 86v1M161 93v1M162 86v1M163 93v2M166 94v1M167 83v1M168 90v1M169 82v1M170 82v1M170 93v1M171 84v1M171 93v1M172 83v1M175 81v1M179 87v1M180 88v1M181 80v1M182 80v1M182 86v1M186 79v2M188 79v1M189 74v1M191 82v1M192 82v1M200 74v2M203 71v1M203 73v1M210 68v1M210 72v1M211 67v1M212 70v2M213 68v2M214 64v1M214 69v1M217 64v2M220 64v1M221 65v2M223 65v2M224 60v1M226 58v1M229 58v1M230 58v1M230 62v1M236 56v1M239 54v1M242 55v1M242 57v1M243 53v1M245 52v1M255 127v2M257 111v1M257 115v1M259 114v2M259 118v4M261 113v1M261 125v1M261 131v3M262 111v1M262 118v1M262 126v1M263 127v2M264 131v1M265 127v1M268 113v4M268 121v3M269 99v1M269 109v1M279 122v6M281 124v4"/>
<path stroke="#7bd050" d="M56 133v1M56 139v1M57 137v1M73 131v2M73 138v1M80 134v1M83 134v3M95 119v3M95 123v1M97 118v2M99 117v1M101 120v1M102 114v1M102 118v1M102 122v1M103 114v1M103 121v1M104 116v1M104 118v1M105 114v1M105 117v2M106 117v1M107 114v1M107 117v3M113 114v1M114 106v1M114 116v1M116 113v1M119 109v1M119 111v1M121 111v1M123 106v1M123 111v1M128 104v1M129 101v1M129 108v1M130 104v1M130 107v1M131 105v1M132 108v1M138 102v1M139 105v1M140 103v1M141 105v1M142 95v1M143 96v1M144 103v1M145 99v1M145 101v1M147 96v1M148 92v1M150 91v1M151 90v1M155 88v1M157 94v1M160 87v1M162 87v2M163 92v1M164 85v1M164 91v2M165 85v1M165 94v1M166 85v1M168 85v1M170 88v3M172 91v1M174 86v1M177 88v1M178 80v1M178 89v1M181 88v1M183 86v1M184 84v1M185 85v1M188 80v1M188 82v1M189 83v1M190 80v3M191 81v1M193 80v1M195 73v1M196 79v1M197 72v1M197 78v1M198 72v1M199 78v1M203 72v1M205 72v1M208 69v1M208 72v1M210 69v1M210 71v1M211 70v1M212 68v2M219 61v1M222 60v1M222 62v1M224 66v1M230 61v1M238 56v1M238 58v1M240 54v2M242 56v1M245 54v1M246 52v3M257 112v1M257 114v1M259 112v2M261 114v1M261 118v1M261 122v1M261 124v1M262 115v1M262 119v1M262 125v1M264 129v2M267 109v1M267 112v1M268 117v4M269 100v9"/>
<path stroke="#a6db35" d="M48 138v1M49 133v1M49 141v1M50 131v3M50 141v1M55 136v1M55 138v1M73 133v3M73 137v1M80 132v2M95 122v1M96 119v1M98 118v1M98 122v1M99 118v1M102 115v3M102 119v1M102 121v1M104 117v1M105 115v2M107 112v2M113 108v1M118 114v1M119 110v1M120 111v1M123 107v2M130 105v2M134 99v1M138 103v3M139 102v3M142 96v1M142 104v1M143 102v1M145 100v1M146 99v1M148 93v2M148 99v1M149 91v1M151 98v1M152 90v1M153 95v1M156 87v1M156 96v1M158 87v1M159 93v1M163 85v1M163 91v1M164 90v1M167 92v1M168 89v1M170 91v2M173 83v1M174 82v1M175 82v1M175 89v1M177 81v1M179 86v1M180 87v1M183 79v1M184 77v1M187 79v1M188 81v1M191 75v1M191 80v1M193 72v1M194 73v1M194 77v1M195 74v1M199 73v1M205 70v2M206 69v1M206 73v1M208 70v2M210 70v1M212 65v1M212 67v1M219 66v1M222 61v1M224 65v1M226 62v1M229 62v1M230 59v2M238 57v1M245 53v1M257 113v1M261 115v3M261 123v1M262 112v3M262 120v5M267 110v2"/>
<path stroke="#d1e229" d="M48 139v1M50 134v2M55 137v1M56 134v1M56 138v1M73 136v1M96 117v2M101 116v1M101 119v1M102 120v1M103 115v1M103 120v1M106 112v1M106 116v1M113 113v1M116 106v1M118 108v1M123 109v2M129 102v1M132 99v1M135 99v1M135 105v1M136 104v1M139 101v1M140 95v1M141 96v1M141 104v1M144 93v1M146 97v1M147 93v1M148 95v2M150 98v1M153 89v1M155 95v1M157 89v1M157 93v1M158 94v1M159 88v1M161 87v1M161 92v1M164 89v1M166 93v1M168 86v1M169 83v1M170 83v1M170 87v1M171 85v1M171 92v1M172 84v1M172 90v1M174 85v1M175 83v4M175 88v1M176 81v1M176 85v1M177 87v1M179 81v1M180 81v1M181 81v1M182 81v1M182 85v1M185 78v1M187 81v1M189 75v1M192 74v1M192 81v1M196 78v1M197 77v1M198 73v1M198 76v1M199 77v1M211 68v2M212 66v1M214 65v1M214 68v1M219 62v1M224 61v1M224 64v1M226 59v1M229 59v1M229 61v1"/>
<path stroke="#fde725" d="M49 134v7M50 136v5M56 135v3M98 119v3M101 117v2M103 116v4M106 113v3M113 109v4M114 107v9M116 107v6M118 109v5M120 106v5M129 103v5M132 100v8M134 100v7M135 100v5M136 98v6M139 96v5M140 96v7M141 97v7M142 97v7M143 97v5M144 94v9M146 98v1M147 94v2M148 97v2M149 92v8M150 92v6M151 91v7M152 91v8M153 90v5M155 89v6M156 88v8M157 90v3M158 88v6M159 89v4M161 88v4M162 89v5M163 86v5M164 86v3M165 86v8M166 86v7M167 84v8M168 87v2M169 84v8M170 84v3M171 86v6M172 85v5M173 84v5M174 83v2M175 87v1M176 82v3M177 82v5M178 81v8M179 82v4M180 82v5M181 82v6M182 82v3M183 80v6M184 78v6M185 79v6M187 80v1M189 76v7M191 76v4M192 75v6M193 73v7M194 74v3M196 74v4M197 73v4M198 74v2M199 74v3M206 70v3M214 66v2M219 63v3M224 62v2M226 60v2M229 60v1"/>
</g>
</g>
<g stroke="#f4eeff" stroke-width="2.8" stroke-dasharray="2.8 3.44" fill="none">
<path d="M199.50 839.20V243.8"/>
<path d="M434.76 839.20V243.8"/>
<path d="M670.02 839.20V243.8"/>
<path d="M905.28 839.20V243.8"/>
<path d="M155.20 719.50H978.6"/>
<path d="M155.20 600.60H978.6"/>
<path d="M155.20 481.70H978.6"/>
<path d="M155.20 362.80H978.6"/>
</g></g>
<g stroke="#0d0a0a" stroke-width="2.75" fill="none">
<rect x="155.4" y="243.8" width="823.2" height="594.5999999999999"/>
<path d="M155.4 838.40h-10.3"/>
<path d="M155.4 719.50h-10.3"/>
<path d="M155.4 600.60h-10.3"/>
<path d="M155.4 481.70h-10.3"/>
<path d="M155.4 362.80h-10.3"/>
<path d="M155.4 243.90h-10.3"/>
<path d="M199.50 838.4v10.3"/>
<path d="M434.76 838.4v10.3"/>
<path d="M670.02 838.4v10.3"/>
<path d="M905.28 838.4v10.3"/>
</g>
<text class="tk" transform="translate(134.2,849.7) scale(1,1.02)" text-anchor="end">0.00</text>
<text class="tk" transform="translate(134.2,730.8) scale(1,1.02)" text-anchor="end">0.01</text>
<text class="tk" transform="translate(134.2,611.9) scale(1,1.02)" text-anchor="end">0.02</text>
<text class="tk" transform="translate(134.2,493.0) scale(1,1.02)" text-anchor="end">0.03</text>
<text class="tk" transform="translate(134.2,374.1) scale(1,1.02)" text-anchor="end">0.04</text>
<text class="tk" transform="translate(134.2,255.2) scale(1,1.02)" text-anchor="end">0.05</text>
<text class="tk" transform="translate(199.5,881.0) scale(1,1.02)" text-anchor="middle">0</text>
<text class="tk" transform="translate(434.8,881.0) scale(1,1.02)" text-anchor="middle">2</text>
<text class="tk" transform="translate(670.0,881.0) scale(1,1.02)" text-anchor="middle">4</text>
<text class="tk" transform="translate(905.3,881.0) scale(1,1.02)" text-anchor="middle">6</text>
<text class="lb" transform="translate(567.0,932.9) scale(1,1.02)" text-anchor="middle">Days from 15th Jan. (UT)</text>
<text class="lb" transform="translate(55.0,541.0) rotate(-90) scale(1,1.02)" text-anchor="middle">Frequency [Hz]</text>
</svg></body></html>
